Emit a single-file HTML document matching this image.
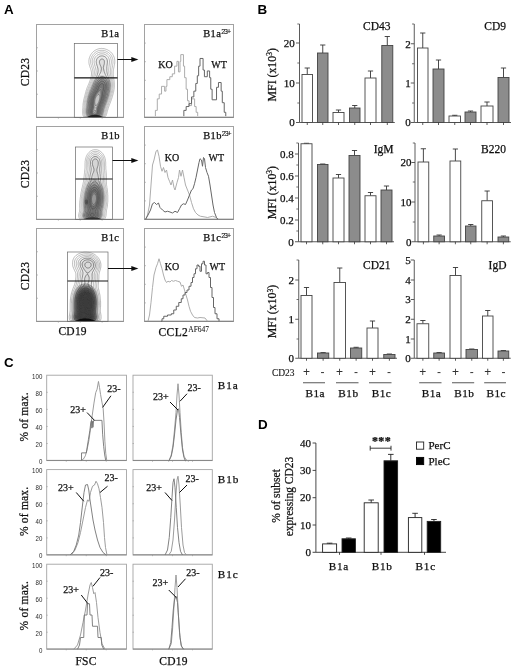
<!DOCTYPE html>
<html lang="en"><head><meta charset="utf-8"><title>Figure</title>
<style>
html,body{margin:0;padding:0;background:#fff;}
body{width:520px;height:669px;overflow:hidden;}
svg{display:block;}
text{white-space:pre;}
</style></head><body>
<svg width="520" height="669" viewBox="0 0 520 669">
<defs><filter id="soft" x="0" y="0" width="520" height="669" filterUnits="userSpaceOnUse"><feGaussianBlur stdDeviation="0.38"/></filter></defs>
<rect x="0" y="0" width="520" height="669" fill="#fff"/>
<g filter="url(#soft)">
<g id="panelA">
<text x="4.1" y="14.2" font-family='"Liberation Sans", sans-serif' font-size="13.4" text-anchor="start" font-weight="bold" letter-spacing="0" fill="#000" stroke="#000" stroke-width="0" >A</text>
<rect x="36.5" y="24.5" width="87" height="93.0" fill="none" stroke="#a2a2a2" stroke-width="1"/>
<line x1="36.5" y1="47.75" x2="38" y2="47.75" stroke="#999" stroke-width="0.6"/>
<line x1="58.375" y1="117.5" x2="58.375" y2="118.7" stroke="#999" stroke-width="0.6"/>
<line x1="36.5" y1="71.0" x2="38" y2="71.0" stroke="#999" stroke-width="0.6"/>
<line x1="80.25" y1="117.5" x2="80.25" y2="118.7" stroke="#999" stroke-width="0.6"/>
<line x1="36.5" y1="94.25" x2="38" y2="94.25" stroke="#999" stroke-width="0.6"/>
<line x1="102.125" y1="117.5" x2="102.125" y2="118.7" stroke="#999" stroke-width="0.6"/>
<rect x="144.5" y="24.5" width="89" height="93.0" fill="none" stroke="#a2a2a2" stroke-width="1"/>
<line x1="144.5" y1="43.1" x2="146" y2="43.1" stroke="#999" stroke-width="0.6"/>
<line x1="144.5" y1="61.7" x2="146" y2="61.7" stroke="#999" stroke-width="0.6"/>
<line x1="144.5" y1="80.3" x2="146" y2="80.3" stroke="#999" stroke-width="0.6"/>
<line x1="144.5" y1="98.9" x2="146" y2="98.9" stroke="#999" stroke-width="0.6"/>
<line x1="144.5" y1="117.2" x2="233.5" y2="117.2" stroke="#7a7a7a" stroke-width="1.0"/>
<line x1="36.5" y1="117.3" x2="123.5" y2="117.3" stroke="#8a8a8a" stroke-width="0.9"/>
<text transform="translate(29,72.0) rotate(-90)" font-family='"Liberation Serif", serif' font-size="11.5" text-anchor="middle" letter-spacing="0.3" fill="#111" stroke="#111" stroke-width="0.25">CD23</text>
<rect x="36.5" y="126.5" width="87" height="93.0" fill="none" stroke="#a2a2a2" stroke-width="1"/>
<line x1="36.5" y1="149.75" x2="38" y2="149.75" stroke="#999" stroke-width="0.6"/>
<line x1="58.375" y1="219.5" x2="58.375" y2="220.7" stroke="#999" stroke-width="0.6"/>
<line x1="36.5" y1="173.0" x2="38" y2="173.0" stroke="#999" stroke-width="0.6"/>
<line x1="80.25" y1="219.5" x2="80.25" y2="220.7" stroke="#999" stroke-width="0.6"/>
<line x1="36.5" y1="196.25" x2="38" y2="196.25" stroke="#999" stroke-width="0.6"/>
<line x1="102.125" y1="219.5" x2="102.125" y2="220.7" stroke="#999" stroke-width="0.6"/>
<rect x="144.5" y="126.5" width="89" height="93.0" fill="none" stroke="#a2a2a2" stroke-width="1"/>
<line x1="144.5" y1="145.1" x2="146" y2="145.1" stroke="#999" stroke-width="0.6"/>
<line x1="144.5" y1="163.7" x2="146" y2="163.7" stroke="#999" stroke-width="0.6"/>
<line x1="144.5" y1="182.3" x2="146" y2="182.3" stroke="#999" stroke-width="0.6"/>
<line x1="144.5" y1="200.9" x2="146" y2="200.9" stroke="#999" stroke-width="0.6"/>
<line x1="144.5" y1="219.2" x2="233.5" y2="219.2" stroke="#7a7a7a" stroke-width="1.0"/>
<line x1="36.5" y1="219.3" x2="123.5" y2="219.3" stroke="#8a8a8a" stroke-width="0.9"/>
<text transform="translate(29,174.0) rotate(-90)" font-family='"Liberation Serif", serif' font-size="11.5" text-anchor="middle" letter-spacing="0.3" fill="#111" stroke="#111" stroke-width="0.25">CD23</text>
<rect x="36.5" y="228.5" width="87" height="93.0" fill="none" stroke="#a2a2a2" stroke-width="1"/>
<line x1="36.5" y1="251.75" x2="38" y2="251.75" stroke="#999" stroke-width="0.6"/>
<line x1="58.375" y1="321.5" x2="58.375" y2="322.7" stroke="#999" stroke-width="0.6"/>
<line x1="36.5" y1="275.0" x2="38" y2="275.0" stroke="#999" stroke-width="0.6"/>
<line x1="80.25" y1="321.5" x2="80.25" y2="322.7" stroke="#999" stroke-width="0.6"/>
<line x1="36.5" y1="298.25" x2="38" y2="298.25" stroke="#999" stroke-width="0.6"/>
<line x1="102.125" y1="321.5" x2="102.125" y2="322.7" stroke="#999" stroke-width="0.6"/>
<rect x="144.5" y="228.5" width="89" height="93.0" fill="none" stroke="#a2a2a2" stroke-width="1"/>
<line x1="144.5" y1="247.1" x2="146" y2="247.1" stroke="#999" stroke-width="0.6"/>
<line x1="144.5" y1="265.7" x2="146" y2="265.7" stroke="#999" stroke-width="0.6"/>
<line x1="144.5" y1="284.3" x2="146" y2="284.3" stroke="#999" stroke-width="0.6"/>
<line x1="144.5" y1="302.9" x2="146" y2="302.9" stroke="#999" stroke-width="0.6"/>
<line x1="144.5" y1="321.2" x2="233.5" y2="321.2" stroke="#7a7a7a" stroke-width="1.0"/>
<line x1="36.5" y1="321.3" x2="123.5" y2="321.3" stroke="#8a8a8a" stroke-width="0.9"/>
<text transform="translate(29,276.0) rotate(-90)" font-family='"Liberation Serif", serif' font-size="11.5" text-anchor="middle" letter-spacing="0.3" fill="#111" stroke="#111" stroke-width="0.25">CD23</text>
</g>
<g id="contours">
<path d="M99.4,76.0 L100.0,75.8 L101.0,75.6 L102.0,75.5 L103.0,75.6 L104.0,75.7 L104.9,76.0 L105.5,76.2 L106.1,76.5 L107.0,77.0 L107.5,77.4 L108.0,77.8 L108.5,78.3 L109.0,78.8 L109.5,79.5 L109.8,80.0 L110.0,80.5 L110.5,81.5 L110.6,82.0 L110.9,83.0 L111.0,83.7 L111.1,84.5 L111.2,85.5 L111.2,86.5 L111.1,87.5 L111.0,88.5 L110.9,89.0 L110.8,90.0 L110.6,91.0 L110.5,91.6 L110.3,92.5 L110.1,93.5 L110.0,94.0 L109.7,95.0 L109.5,95.7 L109.3,96.5 L109.0,97.3 L108.8,98.0 L108.5,98.9 L108.3,99.5 L108.0,100.3 L107.8,101.0 L107.5,101.7 L107.2,102.5 L107.0,103.0 L106.6,104.0 L106.4,104.5 L106.1,105.5 L105.9,106.0 L105.5,107.0 L105.4,107.5 L105.0,108.5 L104.9,109.0 L104.6,110.0 L104.5,110.5 L104.3,111.5 L104.1,112.5 L103.9,113.0 L103.7,114.0 L103.5,114.5 L103.0,115.5 L102.8,116.0 L102.5,116.5 L101.5,116.6 L100.5,116.7 L99.5,116.8 L98.5,116.9 L97.5,116.9 L96.5,116.9 L95.5,116.9 L94.5,116.9 L93.5,116.9 L92.5,116.9 L91.5,116.9 L90.5,116.9 L89.5,116.8 L88.5,116.7 L87.5,116.6 L86.6,116.5 L86.3,116.0 L86.0,115.3 L85.8,114.5 L85.6,113.5 L85.5,112.5 L85.5,112.0 L85.5,111.3 L85.5,110.5 L85.6,109.5 L85.7,108.5 L85.8,107.5 L85.9,106.5 L86.0,105.5 L86.0,105.0 L86.1,104.0 L86.2,103.0 L86.3,102.0 L86.5,101.0 L86.6,100.5 L86.8,99.5 L87.0,98.5 L87.1,98.0 L87.4,97.0 L87.5,96.4 L87.7,95.5 L88.0,94.6 L88.2,94.0 L88.5,93.0 L88.6,92.5 L89.0,91.5 L89.1,91.0 L89.5,90.1 L89.7,89.5 L90.0,88.9 L90.3,88.0 L90.6,87.5 L91.0,86.5 L91.2,86.0 L91.5,85.3 L91.9,84.5 L92.1,84.0 L92.5,83.1 L92.8,82.5 L93.1,82.0 L93.5,81.3 L94.0,80.5 L94.3,80.0 L94.7,79.5 L95.1,79.0 L95.5,78.5 L96.0,78.0 L96.6,77.5 L97.3,77.0 L98.0,76.6 L98.5,76.3 L99.4,76.0Z" fill="#000" fill-opacity="0.2" stroke="none"/>
<path d="M99.9,78.0 L100.5,77.8 L101.5,77.7 L102.5,77.7 L103.5,77.8 L104.3,78.0 L105.0,78.3 L105.5,78.5 L106.3,79.0 L106.9,79.5 L107.4,80.0 L107.8,80.5 L108.1,81.0 L108.5,81.8 L108.8,82.5 L109.0,83.3 L109.2,84.0 L109.3,85.0 L109.3,86.0 L109.3,87.0 L109.2,88.0 L109.1,89.0 L109.0,89.5 L108.8,90.5 L108.6,91.5 L108.5,92.2 L108.3,93.0 L108.1,94.0 L108.0,94.5 L107.7,95.5 L107.5,96.2 L107.3,97.0 L107.0,97.8 L106.8,98.5 L106.5,99.3 L106.3,100.0 L106.0,100.7 L105.7,101.5 L105.5,102.1 L105.2,103.0 L105.0,103.5 L104.6,104.5 L104.4,105.0 L104.1,106.0 L103.9,106.5 L103.5,107.5 L103.4,108.0 L103.1,109.0 L102.9,109.5 L102.7,110.5 L102.5,111.5 L102.4,112.0 L102.2,113.0 L102.0,113.6 L101.7,114.5 L101.4,115.0 L101.0,115.8 L100.5,116.4 L100.0,116.6 L99.0,116.7 L98.0,116.7 L97.0,116.8 L96.0,116.8 L95.0,116.8 L94.0,116.8 L93.0,116.8 L92.0,116.8 L91.0,116.7 L90.0,116.7 L89.0,116.6 L88.5,116.5 L88.0,115.7 L87.7,115.0 L87.5,114.4 L87.3,113.5 L87.2,112.5 L87.2,111.5 L87.2,110.5 L87.3,109.5 L87.4,108.5 L87.5,107.9 L87.6,107.0 L87.7,106.0 L87.8,105.0 L87.9,104.0 L88.0,103.0 L88.0,102.5 L88.2,101.5 L88.3,100.5 L88.5,99.5 L88.6,99.0 L88.8,98.0 L89.0,97.3 L89.2,96.5 L89.5,95.5 L89.6,95.0 L90.0,94.0 L90.1,93.5 L90.5,92.5 L90.7,92.0 L91.0,91.2 L91.3,90.5 L91.5,90.0 L92.0,89.0 L92.2,88.5 L92.5,87.7 L92.8,87.0 L93.0,86.5 L93.4,85.5 L93.7,85.0 L94.0,84.3 L94.4,83.5 L94.7,83.0 L95.0,82.4 L95.5,81.6 L95.9,81.0 L96.3,80.5 L96.8,80.0 L97.3,79.5 L97.9,79.0 L98.5,78.6 L99.0,78.4 L99.9,78.0Z" fill="#000" fill-opacity="0.18" stroke="none"/>
<path d="M101.6,79.5 L102.5,79.5 L103.0,79.5 L104.0,79.8 L104.5,80.0 L105.3,80.5 L105.9,81.0 L106.3,81.5 L106.7,82.0 L107.0,82.6 L107.3,83.5 L107.5,84.1 L107.6,85.0 L107.7,86.0 L107.7,87.0 L107.6,88.0 L107.5,88.7 L107.4,89.5 L107.2,90.5 L107.0,91.5 L106.9,92.0 L106.7,93.0 L106.5,93.9 L106.4,94.5 L106.1,95.5 L106.0,96.0 L105.7,97.0 L105.5,97.6 L105.2,98.5 L105.0,99.1 L104.7,100.0 L104.5,100.6 L104.2,101.5 L104.0,102.0 L103.7,103.0 L103.5,103.5 L103.1,104.5 L102.9,105.0 L102.5,106.0 L102.3,106.5 L102.0,107.5 L101.8,108.0 L101.6,109.0 L101.4,109.5 L101.2,110.5 L101.1,111.5 L101.0,112.0 L100.7,113.0 L100.5,113.7 L100.2,114.5 L99.9,115.0 L99.5,115.6 L99.0,116.2 L98.5,116.5 L97.5,116.6 L96.5,116.7 L95.5,116.7 L94.5,116.7 L93.5,116.7 L92.5,116.7 L91.5,116.6 L90.5,116.5 L90.0,116.2 L89.5,115.5 L89.2,115.0 L89.0,114.5 L88.7,113.5 L88.6,112.5 L88.6,111.5 L88.6,110.5 L88.7,109.5 L88.9,108.5 L89.0,107.5 L89.1,107.0 L89.2,106.0 L89.2,105.0 L89.3,104.0 L89.4,103.0 L89.5,102.4 L89.6,101.5 L89.7,100.5 L89.9,99.5 L90.0,99.0 L90.3,98.0 L90.5,97.1 L90.7,96.5 L91.0,95.5 L91.1,95.0 L91.5,94.0 L91.7,93.5 L92.0,92.8 L92.3,92.0 L92.6,91.5 L93.0,90.6 L93.2,90.0 L93.5,89.4 L93.9,88.5 L94.1,88.0 L94.5,87.1 L94.8,86.5 L95.0,85.9 L95.4,85.0 L95.7,84.5 L96.0,83.9 L96.5,83.1 L96.9,82.5 L97.3,82.0 L97.7,81.5 L98.2,81.0 L98.9,80.5 L99.5,80.1 L100.0,79.9 L101.0,79.6 L101.6,79.5Z" fill="#000" fill-opacity="0.15" stroke="none"/>
<path d="M100.7,81.5 L101.5,81.3 L102.5,81.3 L103.5,81.5 L104.0,81.8 L104.5,82.1 L105.0,82.6 L105.5,83.4 L105.8,84.0 L106.0,84.8 L106.1,85.5 L106.2,86.5 L106.1,87.5 L106.0,88.5 L105.9,89.0 L105.8,90.0 L105.6,91.0 L105.5,91.5 L105.3,92.5 L105.1,93.5 L104.9,94.0 L104.7,95.0 L104.5,95.9 L104.4,96.5 L104.1,97.5 L103.9,98.0 L103.6,99.0 L103.5,99.5 L103.2,100.5 L103.0,101.0 L102.7,102.0 L102.5,102.5 L102.1,103.5 L101.9,104.0 L101.5,105.0 L101.3,105.5 L101.0,106.3 L100.8,107.0 L100.5,107.8 L100.3,108.5 L100.1,109.5 L100.0,110.0 L99.8,111.0 L99.7,112.0 L99.5,112.8 L99.3,113.5 L99.0,114.1 L98.5,114.9 L98.0,115.5 L97.5,116.0 L97.0,116.3 L96.5,116.5 L95.5,116.6 L94.5,116.6 L93.5,116.6 L92.5,116.5 L92.0,116.4 L91.5,116.0 L91.0,115.5 L90.5,114.8 L90.1,114.0 L90.0,113.5 L89.8,112.5 L89.8,111.5 L89.9,110.5 L90.0,109.8 L90.1,109.0 L90.3,108.0 L90.4,107.0 L90.5,106.0 L90.5,105.5 L90.6,104.5 L90.7,103.5 L90.8,102.5 L90.9,101.5 L91.0,100.8 L91.1,100.0 L91.3,99.0 L91.5,98.3 L91.7,97.5 L92.0,96.6 L92.2,96.0 L92.5,95.2 L92.8,94.5 L93.0,94.0 L93.4,93.0 L93.7,92.5 L94.0,91.8 L94.4,91.0 L94.6,90.5 L95.0,89.7 L95.3,89.0 L95.5,88.5 L96.0,87.5 L96.2,87.0 L96.5,86.3 L96.9,85.5 L97.2,85.0 L97.5,84.4 L98.0,83.7 L98.5,83.1 L99.0,82.6 L99.5,82.1 L100.0,81.8 L100.7,81.5Z" fill="#000" fill-opacity="0.12" stroke="none"/>
<path d="M101.3,83.5 L102.0,83.4 L102.6,83.5 L103.4,84.0 L103.8,84.5 L104.1,85.0 L104.3,86.0 L104.4,87.0 L104.3,88.0 L104.2,89.0 L104.0,90.0 L103.9,90.5 L103.7,91.5 L103.5,92.5 L103.5,93.0 L103.3,94.0 L103.1,95.0 L103.0,95.7 L102.8,96.5 L102.6,97.5 L102.5,98.0 L102.2,99.0 L102.0,99.7 L101.8,100.5 L101.5,101.3 L101.3,102.0 L101.0,102.8 L100.7,103.5 L100.5,104.0 L100.1,105.0 L99.9,105.5 L99.5,106.4 L99.3,107.0 L99.0,107.9 L98.8,108.5 L98.7,109.5 L98.6,110.5 L98.5,111.2 L98.4,112.0 L98.1,113.0 L97.9,113.5 L97.5,114.2 L97.0,114.8 L96.5,115.2 L96.0,115.5 L95.0,115.8 L94.0,115.8 L93.0,115.5 L92.5,115.2 L92.0,114.8 L91.5,114.0 L91.3,113.5 L91.1,112.5 L91.1,111.5 L91.2,110.5 L91.4,109.5 L91.5,108.8 L91.7,108.0 L91.8,107.0 L91.9,106.0 L92.0,105.0 L92.0,104.2 L92.0,103.5 L92.1,102.5 L92.2,101.5 L92.4,100.5 L92.5,99.7 L92.7,99.0 L92.9,98.0 L93.1,97.5 L93.4,96.5 L93.6,96.0 L94.0,95.1 L94.3,94.5 L94.5,94.0 L95.0,93.1 L95.4,92.5 L95.6,92.0 L96.0,91.3 L96.4,90.5 L96.7,90.0 L97.0,89.3 L97.3,88.5 L97.6,88.0 L98.0,87.1 L98.3,86.5 L98.6,86.0 L99.0,85.3 L99.5,84.7 L100.0,84.2 L100.5,83.8 L101.3,83.5Z" fill="#000" fill-opacity="0.08" stroke="none"/>
<path d="M99.2,53.5 L100.0,53.3 L101.0,53.1 L102.0,53.1 L103.0,53.2 L104.0,53.4 L104.5,53.5 L105.5,53.9 L106.0,54.2 L106.5,54.5 L107.2,55.0 L107.8,55.5 L108.2,56.0 L108.6,56.5 L109.0,57.1 L109.5,58.0 L109.6,58.5 L109.9,59.5 L110.0,60.0 L110.1,61.0 L110.2,62.0 L110.1,63.0 L110.0,64.0 L109.9,64.5 L109.8,65.5 L109.6,66.5 L109.5,67.4 L109.4,68.0 L109.3,69.0 L109.2,70.0 L109.2,71.0 L109.1,72.0 L109.0,72.7 L108.9,73.5 L108.8,74.5 L108.5,75.5 L108.4,76.0 L108.1,77.0 L107.9,77.5 L107.5,78.2 L107.0,79.0 L106.6,79.5 L106.1,80.0 L105.5,80.5 L105.0,80.8 L104.5,81.1 L103.5,81.4 L102.5,81.5 L101.5,81.4 L100.5,81.0 L100.0,80.8 L99.5,80.5 L98.9,80.0 L98.4,79.5 L98.0,79.0 L97.5,78.3 L97.1,77.5 L96.9,77.0 L96.5,76.0 L96.4,75.5 L96.2,74.5 L96.0,73.5 L95.9,73.0 L95.8,72.0 L95.6,71.0 L95.5,70.2 L95.4,69.5 L95.1,68.5 L94.9,68.0 L94.6,67.0 L94.5,66.5 L94.1,65.5 L94.0,65.0 L93.7,64.0 L93.5,63.0 L93.5,62.5 L93.4,61.5 L93.5,60.5 L93.5,60.0 L93.8,59.0 L94.0,58.4 L94.4,57.5 L94.7,57.0 L95.0,56.5 L95.5,55.9 L96.0,55.4 L96.5,55.0 L97.1,54.5 L98.0,54.0 L98.5,53.7 L99.2,53.5Z" fill="#000" fill-opacity="0.04" stroke="none"/>
<path d="M99.7,56.0 L100.5,55.7 L101.5,55.6 L102.5,55.6 L103.5,55.8 L104.1,56.0 L105.0,56.4 L105.5,56.8 L106.0,57.2 L106.5,57.8 L107.0,58.5 L107.2,59.0 L107.5,59.9 L107.6,60.5 L107.7,61.5 L107.7,62.5 L107.6,63.5 L107.5,64.0 L107.4,65.0 L107.2,66.0 L107.1,67.0 L107.0,68.0 L107.0,68.5 L106.9,69.5 L106.9,70.5 L106.8,71.5 L106.7,72.5 L106.5,73.5 L106.4,74.0 L106.1,75.0 L106.0,75.5 L105.5,76.4 L105.1,77.0 L104.6,77.5 L104.0,77.9 L103.5,78.1 L102.5,78.3 L101.5,78.1 L101.0,77.9 L100.4,77.5 L99.9,77.0 L99.5,76.5 L99.0,75.6 L98.8,75.0 L98.5,74.0 L98.4,73.5 L98.3,72.5 L98.2,71.5 L98.0,70.5 L97.9,70.0 L97.8,69.0 L97.5,68.0 L97.4,67.5 L97.1,66.5 L96.9,66.0 L96.6,65.0 L96.4,64.5 L96.1,63.5 L96.0,62.7 L95.9,62.0 L96.0,61.0 L96.0,60.5 L96.3,59.5 L96.5,59.0 L97.0,58.2 L97.5,57.5 L98.0,57.0 L98.5,56.7 L99.0,56.3 L99.7,56.0Z" fill="#000" fill-opacity="0.05" stroke="none"/>
<path d="M100.7,58.5 L101.5,58.2 L102.5,58.2 L103.4,58.5 L104.0,58.9 L104.5,59.4 L104.9,60.0 L105.1,60.5 L105.2,61.5 L105.2,62.5 L105.1,63.5 L105.0,64.0 L104.8,65.0 L104.6,66.0 L104.5,66.9 L104.4,67.5 L104.4,68.5 L104.4,69.5 L104.3,70.5 L104.2,71.5 L104.0,72.2 L103.6,73.0 L103.2,73.5 L102.5,73.8 L101.8,73.5 L101.4,73.0 L101.0,72.0 L100.9,71.5 L100.7,70.5 L100.6,69.5 L100.5,69.0 L100.3,68.0 L100.0,67.0 L99.9,66.5 L99.5,65.5 L99.3,65.0 L99.0,64.2 L98.8,63.5 L98.6,62.5 L98.6,61.5 L98.8,60.5 L99.1,60.0 L99.5,59.4 L100.0,58.9 L100.7,58.5Z" fill="#000" fill-opacity="0.05" stroke="none"/>
<path d="M100.4,88.5 L101.0,88.0 L101.4,89.0 L101.3,90.0 L101.3,91.0 L101.3,92.0 L101.3,93.0 L101.4,94.0 L101.4,95.0 L101.3,96.0 L101.2,97.0 L101.0,97.9 L100.9,98.5 L100.6,99.5 L100.5,100.0 L100.2,101.0 L100.0,101.6 L99.6,102.5 L99.4,103.0 L99.0,104.0 L98.7,104.5 L98.5,105.0 L98.0,106.0 L97.8,106.5 L97.5,107.2 L97.3,108.0 L97.1,109.0 L97.1,110.0 L97.1,111.0 L97.0,111.9 L96.8,112.5 L96.5,113.2 L96.0,113.8 L95.5,114.2 L94.5,114.4 L93.5,114.2 L93.0,113.7 L92.6,113.0 L92.5,112.5 L92.5,111.5 L92.5,111.0 L92.8,110.0 L93.0,109.1 L93.2,108.5 L93.4,107.5 L93.5,106.5 L93.5,105.5 L93.5,104.5 L93.5,103.5 L93.5,103.0 L93.6,102.0 L93.7,101.0 L93.8,100.0 L94.0,99.2 L94.2,98.5 L94.5,97.5 L94.7,97.0 L95.0,96.3 L95.4,95.5 L95.7,95.0 L96.0,94.5 L96.5,93.8 L97.0,93.1 L97.5,92.5 L97.9,92.0 L98.3,91.5 L98.7,91.0 L99.0,90.5 L99.5,89.7 L100.0,89.0 L100.4,88.5Z" fill="#fff" fill-opacity="0.3" stroke="none"/>
<path d="M97.9,94.0 L98.5,93.7 L99.5,93.7 L100.0,94.5 L100.1,95.0 L100.2,96.0 L100.2,97.0 L100.1,98.0 L100.0,98.6 L99.8,99.5 L99.5,100.5 L99.4,101.0 L99.0,102.0 L98.8,102.5 L98.5,103.1 L98.0,104.0 L97.7,104.5 L97.4,105.0 L97.0,105.5 L96.5,106.2 L96.0,106.9 L95.5,107.5 L95.4,107.5 L95.0,106.9 L94.8,106.0 L94.6,105.0 L94.5,104.2 L94.4,103.5 L94.4,102.5 L94.4,101.5 L94.5,100.9 L94.6,100.0 L94.9,99.0 L95.0,98.5 L95.4,97.5 L95.6,97.0 L96.0,96.2 L96.5,95.5 L96.9,95.0 L97.3,94.5 L97.9,94.0Z M94.8,108.5 L95.5,108.1 L95.7,109.0 L96.0,110.0 L96.0,110.5 L96.1,111.5 L96.0,112.0 L95.5,113.0 L95.0,113.3 L94.0,113.2 L93.5,112.5 L93.4,112.0 L93.5,111.0 L93.7,110.5 L94.0,109.8 L94.5,109.0 L94.8,108.5Z" fill="#fff" fill-opacity="0.4" stroke="none"/>
<path d="M100.6,48.5 L101.5,48.4 L102.5,48.5 L103.0,48.5 L104.0,48.7 L105.0,48.9 L105.5,49.1 L106.5,49.4 L107.0,49.6 L107.8,50.0 L108.5,50.4 L109.0,50.7 L109.5,51.0 L110.1,51.5 L110.7,52.0 L111.2,52.5 L111.6,53.0 L112.1,53.5 L112.5,54.1 L113.0,54.9 L113.3,55.5 L113.6,56.0 L114.0,57.0 L114.2,57.5 L114.5,58.5 L114.6,59.0 L114.7,60.0 L114.8,61.0 L114.8,62.0 L114.7,63.0 L114.6,64.0 L114.5,64.5 L114.3,65.5 L114.1,66.5 L114.0,67.0 L113.8,68.0 L113.6,69.0 L113.5,69.6 L113.4,70.5 L113.3,71.5 L113.3,72.5 L113.3,73.5 L113.3,74.5 L113.4,75.5 L113.5,76.5 L113.5,77.0 L113.7,78.0 L113.8,79.0 L114.0,80.0 L114.1,80.5 L114.2,81.5 L114.3,82.5 L114.4,83.5 L114.4,84.5 L114.4,85.5 L114.4,86.5 L114.3,87.5 L114.2,88.5 L114.0,89.5 L113.9,90.0 L113.8,91.0 L113.6,92.0 L113.4,92.5 L113.2,93.5 L113.0,94.3 L112.8,95.0 L112.5,96.0 L112.4,96.5 L112.1,97.5 L111.9,98.0 L111.6,99.0 L111.4,99.5 L111.1,100.5 L110.9,101.0 L110.5,102.0 L110.4,102.5 L110.0,103.4 L109.8,104.0 L109.5,104.7 L109.2,105.5 L109.0,106.0 L108.6,107.0 L108.5,107.5 L108.1,108.5 L108.0,109.0 L107.7,110.0 L107.5,110.6 L107.3,111.5 L107.0,112.5 L106.9,113.0 L106.6,114.0 L106.4,114.5 L106.1,115.5 L105.9,116.0 L105.5,116.5 L104.5,116.7 L103.5,116.8 L102.5,116.9 L101.5,116.9 L100.5,116.9 L99.5,117.0 L98.5,117.0 L97.5,117.0 L96.5,117.0 L95.5,117.0 L94.5,117.0 L93.5,117.0 L92.5,117.0 L91.5,117.0 L90.5,117.0 L89.5,117.0 L88.5,116.9 L87.5,116.9 L86.5,116.9 L85.5,116.8 L84.5,116.7 L83.5,116.5 L83.2,116.0 L83.0,115.2 L82.8,114.5 L82.7,113.5 L82.6,112.5 L82.6,111.5 L82.7,110.5 L82.7,109.5 L82.8,108.5 L82.9,107.5 L82.9,106.5 L83.0,105.7 L83.0,105.0 L83.1,104.0 L83.2,103.0 L83.4,102.0 L83.5,101.3 L83.6,100.5 L83.8,99.5 L84.0,98.9 L84.2,98.0 L84.4,97.0 L84.6,96.5 L84.8,95.5 L85.0,94.8 L85.2,94.0 L85.5,93.0 L85.6,92.5 L85.9,91.5 L86.0,91.0 L86.3,90.0 L86.5,89.5 L86.8,88.5 L87.0,88.0 L87.4,87.0 L87.6,86.5 L88.0,85.6 L88.2,85.0 L88.5,84.4 L88.9,83.5 L89.1,83.0 L89.5,82.0 L89.6,81.5 L90.0,80.6 L90.2,80.0 L90.5,79.1 L90.7,78.5 L91.0,77.5 L91.1,77.0 L91.3,76.0 L91.4,75.0 L91.5,74.0 L91.5,73.0 L91.4,72.0 L91.2,71.0 L91.0,70.1 L90.8,69.5 L90.5,68.5 L90.3,68.0 L90.0,67.1 L89.8,66.5 L89.5,65.5 L89.3,65.0 L89.1,64.0 L89.0,63.2 L88.9,62.5 L88.9,61.5 L88.9,60.5 L89.0,59.7 L89.1,59.0 L89.3,58.0 L89.5,57.5 L89.9,56.5 L90.1,56.0 L90.5,55.2 L90.9,54.5 L91.2,54.0 L91.6,53.5 L92.0,53.0 L92.5,52.4 L93.0,51.9 L93.5,51.5 L94.1,51.0 L94.8,50.5 L95.5,50.1 L96.0,49.8 L96.7,49.5 L97.5,49.2 L98.1,49.0 L99.0,48.7 L100.0,48.6 L100.6,48.5Z M99.5,50.5 L100.0,50.4 L101.0,50.3 L102.0,50.3 L103.0,50.3 L104.0,50.5 L104.5,50.6 L105.5,50.9 L106.0,51.1 L106.8,51.5 L107.5,51.9 L108.0,52.2 L108.5,52.5 L109.1,53.0 L109.7,53.5 L110.1,54.0 L110.6,54.5 L111.0,55.1 L111.5,55.9 L111.8,56.5 L112.0,57.0 L112.4,58.0 L112.6,58.5 L112.8,59.5 L112.9,60.5 L113.0,61.5 L113.0,62.5 L112.9,63.5 L112.7,64.5 L112.6,65.5 L112.5,66.0 L112.3,67.0 L112.1,68.0 L112.0,68.7 L111.9,69.5 L111.8,70.5 L111.8,71.5 L111.8,72.5 L111.8,73.5 L111.9,74.5 L112.0,75.5 L112.1,76.0 L112.2,77.0 L112.4,78.0 L112.5,78.6 L112.7,79.5 L112.8,80.5 L113.0,81.5 L113.0,82.0 L113.2,83.0 L113.2,84.0 L113.2,85.0 L113.2,86.0 L113.1,87.0 L113.0,88.0 L113.0,88.5 L112.8,89.5 L112.7,90.5 L112.5,91.3 L112.4,92.0 L112.1,93.0 L112.0,93.5 L111.8,94.5 L111.5,95.4 L111.3,96.0 L111.0,97.0 L110.9,97.5 L110.6,98.5 L110.4,99.0 L110.0,100.0 L109.9,100.5 L109.5,101.5 L109.3,102.0 L109.0,102.8 L108.7,103.5 L108.5,104.1 L108.2,105.0 L108.0,105.5 L107.6,106.5 L107.4,107.0 L107.1,108.0 L106.9,108.5 L106.6,109.5 L106.5,110.0 L106.2,111.0 L106.0,112.0 L105.9,112.5 L105.6,113.5 L105.5,114.0 L105.1,115.0 L104.9,115.5 L104.5,116.4 L104.0,116.6 L103.0,116.7 L102.0,116.8 L101.0,116.9 L100.0,116.9 L99.0,116.9 L98.0,116.9 L97.0,117.0 L96.0,117.0 L95.0,117.0 L94.0,117.0 L93.0,117.0 L92.0,117.0 L91.0,116.9 L90.0,116.9 L89.0,116.9 L88.0,116.9 L87.0,116.8 L86.0,116.7 L85.0,116.6 L84.5,116.3 L84.2,115.5 L84.0,114.7 L83.9,114.0 L83.7,113.0 L83.7,112.0 L83.7,111.0 L83.8,110.0 L83.9,109.0 L83.9,108.0 L84.0,107.4 L84.1,106.5 L84.1,105.5 L84.2,104.5 L84.3,103.5 L84.5,102.5 L84.5,102.0 L84.7,101.0 L84.9,100.0 L85.0,99.4 L85.2,98.5 L85.4,97.5 L85.6,97.0 L85.8,96.0 L86.0,95.3 L86.2,94.5 L86.5,93.5 L86.6,93.0 L86.9,92.0 L87.0,91.5 L87.4,90.5 L87.5,90.0 L87.9,89.0 L88.1,88.5 L88.5,87.5 L88.7,87.0 L89.0,86.2 L89.3,85.5 L89.5,85.0 L89.9,84.0 L90.1,83.5 L90.5,82.6 L90.7,82.0 L91.0,81.3 L91.3,80.5 L91.5,80.0 L91.8,79.0 L92.0,78.5 L92.3,77.5 L92.5,76.7 L92.7,76.0 L92.8,75.0 L93.0,74.0 L93.0,73.0 L93.0,72.0 L92.9,71.0 L92.7,70.0 L92.5,69.3 L92.3,68.5 L92.0,67.7 L91.8,67.0 L91.5,66.1 L91.3,65.5 L91.0,64.5 L90.9,64.0 L90.7,63.0 L90.7,62.0 L90.6,61.0 L90.7,60.0 L90.9,59.0 L91.0,58.5 L91.4,57.5 L91.6,57.0 L92.0,56.1 L92.4,55.5 L92.7,55.0 L93.1,54.5 L93.5,54.0 L94.0,53.4 L94.5,53.0 L95.1,52.5 L95.8,52.0 L96.5,51.6 L97.0,51.3 L97.8,51.0 L98.5,50.7 L99.5,50.5Z M100.9,52.0 L101.5,52.0 L102.5,52.0 L103.0,52.0 L104.0,52.2 L104.9,52.5 L105.5,52.7 L106.1,53.0 L107.0,53.5 L107.5,53.8 L108.0,54.2 L108.5,54.7 L109.0,55.2 L109.5,55.8 L109.9,56.5 L110.2,57.0 L110.5,57.6 L110.8,58.5 L111.0,59.2 L111.2,60.0 L111.3,61.0 L111.3,62.0 L111.3,63.0 L111.1,64.0 L111.0,64.9 L110.9,65.5 L110.7,66.5 L110.6,67.5 L110.5,68.2 L110.4,69.0 L110.4,70.0 L110.3,71.0 L110.3,72.0 L110.4,73.0 L110.5,74.0 L110.5,74.5 L110.7,75.5 L110.9,76.5 L111.0,77.0 L111.2,78.0 L111.4,79.0 L111.5,79.5 L111.7,80.5 L111.9,81.5 L112.0,82.3 L112.1,83.0 L112.2,84.0 L112.2,85.0 L112.2,86.0 L112.1,87.0 L112.0,87.8 L111.9,88.5 L111.8,89.5 L111.6,90.5 L111.5,91.0 L111.3,92.0 L111.1,93.0 L110.9,93.5 L110.7,94.5 L110.5,95.2 L110.3,96.0 L110.0,96.9 L109.8,97.5 L109.5,98.5 L109.3,99.0 L109.0,99.9 L108.8,100.5 L108.5,101.3 L108.2,102.0 L108.0,102.6 L107.7,103.5 L107.5,104.0 L107.1,105.0 L106.9,105.5 L106.6,106.5 L106.4,107.0 L106.0,108.0 L105.9,108.5 L105.6,109.5 L105.5,110.0 L105.2,111.0 L105.0,111.9 L104.9,112.5 L104.6,113.5 L104.5,114.0 L104.1,115.0 L103.9,115.5 L103.5,116.2 L103.0,116.6 L102.0,116.7 L101.0,116.8 L100.0,116.8 L99.0,116.9 L98.0,116.9 L97.0,116.9 L96.0,116.9 L95.0,116.9 L94.0,116.9 L93.0,116.9 L92.0,116.9 L91.0,116.9 L90.0,116.9 L89.0,116.9 L88.0,116.8 L87.0,116.7 L86.0,116.6 L85.5,116.1 L85.2,115.5 L85.0,114.7 L84.8,114.0 L84.7,113.0 L84.7,112.0 L84.7,111.0 L84.8,110.0 L84.9,109.0 L84.9,108.0 L85.0,107.4 L85.1,106.5 L85.2,105.5 L85.2,104.5 L85.3,103.5 L85.5,102.5 L85.5,102.0 L85.7,101.0 L85.9,100.0 L86.0,99.4 L86.2,98.5 L86.4,97.5 L86.6,97.0 L86.8,96.0 L87.0,95.3 L87.2,94.5 L87.5,93.5 L87.6,93.0 L87.9,92.0 L88.1,91.5 L88.4,90.5 L88.6,90.0 L89.0,89.1 L89.2,88.5 L89.5,87.8 L89.8,87.0 L90.0,86.5 L90.4,85.5 L90.6,85.0 L91.0,84.1 L91.2,83.5 L91.5,82.9 L91.8,82.0 L92.1,81.5 L92.4,80.5 L92.6,80.0 L93.0,79.0 L93.2,78.5 L93.5,77.5 L93.7,77.0 L93.9,76.0 L94.1,75.5 L94.3,74.5 L94.4,73.5 L94.5,72.5 L94.4,71.5 L94.3,70.5 L94.2,69.5 L94.0,68.8 L93.8,68.0 L93.5,67.1 L93.3,66.5 L93.0,65.5 L92.8,65.0 L92.6,64.0 L92.5,63.5 L92.3,62.5 L92.3,61.5 L92.3,60.5 L92.5,59.5 L92.6,59.0 L92.9,58.0 L93.2,57.5 L93.5,56.8 L94.0,56.0 L94.4,55.5 L94.8,55.0 L95.3,54.5 L95.9,54.0 L96.5,53.5 L97.0,53.2 L97.5,53.0 L98.5,52.5 L99.0,52.4 L100.0,52.1 L100.9,52.0Z M99.8,54.0 L100.5,53.9 L101.5,53.8 L102.5,53.8 L103.5,53.9 L104.0,54.1 L105.0,54.4 L105.5,54.7 L106.1,55.0 L106.8,55.5 L107.3,56.0 L107.8,56.5 L108.2,57.0 L108.5,57.5 L108.9,58.5 L109.1,59.0 L109.4,60.0 L109.5,61.0 L109.5,62.0 L109.4,63.0 L109.3,64.0 L109.2,65.0 L109.0,66.0 L109.0,66.5 L108.9,67.5 L108.8,68.5 L108.7,69.5 L108.7,70.5 L108.8,71.5 L108.8,72.5 L108.9,73.5 L109.0,74.0 L109.2,75.0 L109.4,76.0 L109.6,76.5 L109.9,77.5 L110.0,78.0 L110.3,79.0 L110.5,80.0 L110.6,80.5 L110.8,81.5 L111.0,82.5 L111.0,83.0 L111.1,84.0 L111.1,85.0 L111.1,86.0 L111.0,87.0 L111.0,87.5 L110.9,88.5 L110.7,89.5 L110.5,90.5 L110.4,91.0 L110.3,92.0 L110.0,93.0 L109.9,93.5 L109.7,94.5 L109.5,95.0 L109.2,96.0 L109.0,96.8 L108.8,97.5 L108.5,98.3 L108.3,99.0 L108.0,99.8 L107.8,100.5 L107.5,101.2 L107.2,102.0 L107.0,102.5 L106.6,103.5 L106.4,104.0 L106.1,105.0 L105.9,105.5 L105.5,106.5 L105.4,107.0 L105.0,108.0 L104.9,108.5 L104.6,109.5 L104.4,110.0 L104.2,111.0 L104.0,112.0 L103.9,112.5 L103.6,113.5 L103.5,114.0 L103.1,115.0 L102.9,115.5 L102.5,116.1 L102.0,116.5 L101.0,116.7 L100.0,116.8 L99.0,116.8 L98.0,116.9 L97.0,116.9 L96.0,116.9 L95.0,116.9 L94.0,116.9 L93.0,116.9 L92.0,116.9 L91.0,116.9 L90.0,116.8 L89.0,116.8 L88.0,116.7 L87.0,116.5 L86.5,116.0 L86.3,115.5 L86.0,114.7 L85.8,114.0 L85.7,113.0 L85.6,112.0 L85.7,111.0 L85.7,110.0 L85.8,109.0 L85.9,108.0 L86.0,107.2 L86.1,106.5 L86.1,105.5 L86.2,104.5 L86.3,103.5 L86.5,102.5 L86.5,102.0 L86.7,101.0 L86.8,100.0 L87.0,99.3 L87.2,98.5 L87.4,97.5 L87.5,97.0 L87.8,96.0 L88.0,95.2 L88.2,94.5 L88.5,93.5 L88.6,93.0 L89.0,92.0 L89.2,91.5 L89.5,90.6 L89.7,90.0 L90.0,89.3 L90.3,88.5 L90.5,88.0 L90.9,87.0 L91.1,86.5 L91.5,85.6 L91.8,85.0 L92.0,84.4 L92.4,83.5 L92.6,83.0 L93.0,82.0 L93.2,81.5 L93.5,80.7 L93.8,80.0 L94.0,79.5 L94.4,78.5 L94.6,78.0 L94.9,77.0 L95.1,76.5 L95.4,75.5 L95.6,75.0 L95.8,74.0 L96.0,73.0 L96.0,72.5 L96.1,71.5 L96.0,70.5 L96.0,70.0 L95.8,69.0 L95.6,68.0 L95.5,67.5 L95.1,66.5 L95.0,66.0 L94.7,65.0 L94.5,64.4 L94.3,63.5 L94.1,62.5 L94.1,61.5 L94.1,60.5 L94.3,59.5 L94.5,59.0 L94.9,58.0 L95.2,57.5 L95.5,57.0 L96.0,56.4 L96.5,55.9 L97.0,55.4 L97.6,55.0 L98.5,54.5 L99.0,54.3 L99.8,54.0Z" fill="none" stroke="#8c8c8c" stroke-width="0.55" stroke-linejoin="round"/>
<path d="M100.7,56.0 L101.5,55.9 L102.5,55.9 L103.1,56.0 L104.0,56.3 L104.5,56.5 L105.3,57.0 L105.9,57.5 L106.3,58.0 L106.6,58.5 L107.0,59.3 L107.2,60.0 L107.4,61.0 L107.4,62.0 L107.3,63.0 L107.2,64.0 L107.1,65.0 L107.0,65.5 L106.9,66.5 L106.8,67.5 L106.8,68.5 L106.8,69.5 L106.8,70.5 L106.9,71.5 L107.0,72.2 L107.1,73.0 L107.3,74.0 L107.5,74.7 L107.8,75.5 L108.0,76.2 L108.3,77.0 L108.5,77.6 L108.8,78.5 L109.0,79.0 L109.3,80.0 L109.5,80.7 L109.7,81.5 L109.9,82.5 L110.0,83.5 L110.0,84.0 L110.1,85.0 L110.1,86.0 L110.0,86.8 L109.9,87.5 L109.8,88.5 L109.7,89.5 L109.5,90.3 L109.4,91.0 L109.2,92.0 L109.0,92.8 L108.8,93.5 L108.6,94.5 L108.4,95.0 L108.2,96.0 L108.0,96.6 L107.7,97.5 L107.5,98.1 L107.2,99.0 L107.0,99.6 L106.7,100.5 L106.5,101.0 L106.1,102.0 L106.0,102.5 L105.6,103.5 L105.4,104.0 L105.0,105.0 L104.8,105.5 L104.5,106.4 L104.3,107.0 L104.0,107.9 L103.8,108.5 L103.5,109.5 L103.4,110.0 L103.2,111.0 L103.0,112.0 L102.9,112.5 L102.6,113.5 L102.5,114.0 L102.0,115.0 L101.8,115.5 L101.5,116.0 L101.0,116.5 L100.0,116.6 L99.0,116.7 L98.0,116.8 L97.0,116.8 L96.0,116.8 L95.0,116.8 L94.0,116.8 L93.0,116.8 L92.0,116.8 L91.0,116.8 L90.0,116.7 L89.0,116.7 L88.0,116.5 L87.6,116.0 L87.3,115.5 L87.0,114.7 L86.8,114.0 L86.7,113.0 L86.6,112.0 L86.6,111.0 L86.7,110.0 L86.8,109.0 L86.9,108.0 L87.0,107.2 L87.1,106.5 L87.2,105.5 L87.2,104.5 L87.3,103.5 L87.5,102.5 L87.5,102.0 L87.7,101.0 L87.8,100.0 L88.0,99.2 L88.1,98.5 L88.4,97.5 L88.5,97.0 L88.8,96.0 L89.0,95.2 L89.2,94.5 L89.5,93.6 L89.7,93.0 L90.0,92.2 L90.2,91.5 L90.5,90.9 L90.9,90.0 L91.1,89.5 L91.5,88.5 L91.7,88.0 L92.0,87.2 L92.3,86.5 L92.5,86.0 L92.9,85.0 L93.1,84.5 L93.5,83.5 L93.7,83.0 L94.0,82.3 L94.3,81.5 L94.6,81.0 L95.0,80.0 L95.2,79.5 L95.5,78.9 L95.9,78.0 L96.1,77.5 L96.5,76.7 L96.8,76.0 L97.0,75.5 L97.4,74.5 L97.5,74.0 L97.8,73.0 L98.0,72.0 L98.0,71.5 L98.1,70.5 L98.0,69.5 L98.0,69.0 L97.8,68.0 L97.5,67.0 L97.4,66.5 L97.0,65.5 L96.9,65.0 L96.6,64.0 L96.4,63.5 L96.3,62.5 L96.2,61.5 L96.4,60.5 L96.5,59.9 L96.9,59.0 L97.2,58.5 L97.5,58.0 L98.0,57.5 L98.5,57.0 L99.3,56.5 L100.0,56.2 L100.7,56.0Z M100.7,59.5 L101.5,59.1 L102.5,59.1 L103.4,59.5 L103.9,60.0 L104.2,60.5 L104.4,61.5 L104.4,62.5 L104.3,63.5 L104.1,64.5 L103.9,65.0 L103.7,66.0 L103.5,66.9 L103.4,67.5 L103.5,68.5 L103.6,69.0 L103.8,70.0 L104.0,70.8 L104.2,71.5 L104.5,72.4 L104.7,73.0 L105.0,73.8 L105.3,74.5 L105.6,75.0 L106.0,75.8 L106.4,76.5 L106.6,77.0 L107.0,77.7 L107.4,78.5 L107.7,79.0 L108.0,79.8 L108.3,80.5 L108.5,81.3 L108.7,82.0 L108.9,83.0 L109.0,84.0 L109.0,84.5 L109.0,85.5 L109.0,86.2 L108.9,87.0 L108.8,88.0 L108.7,89.0 L108.5,90.0 L108.4,90.5 L108.2,91.5 L108.0,92.5 L107.9,93.0 L107.6,94.0 L107.5,94.6 L107.3,95.5 L107.0,96.4 L106.8,97.0 L106.5,98.0 L106.3,98.5 L106.0,99.5 L105.8,100.0 L105.5,100.9 L105.3,101.5 L105.0,102.3 L104.8,103.0 L104.5,103.7 L104.2,104.5 L104.0,105.0 L103.6,106.0 L103.4,106.5 L103.1,107.5 L102.9,108.0 L102.6,109.0 L102.5,109.6 L102.3,110.5 L102.1,111.5 L102.0,112.1 L101.8,113.0 L101.5,113.9 L101.3,114.5 L101.0,115.0 L100.5,115.8 L100.0,116.5 L99.5,116.6 L98.5,116.7 L97.5,116.7 L96.5,116.8 L95.5,116.8 L94.5,116.8 L93.5,116.8 L92.5,116.8 L91.5,116.7 L90.5,116.7 L89.5,116.6 L89.0,116.5 L88.5,115.8 L88.1,115.0 L87.9,114.5 L87.7,113.5 L87.6,112.5 L87.6,111.5 L87.6,110.5 L87.7,109.5 L87.8,108.5 L87.9,107.5 L88.0,107.0 L88.1,106.0 L88.2,105.0 L88.3,104.0 L88.4,103.0 L88.5,102.0 L88.6,101.5 L88.7,100.5 L88.9,99.5 L89.0,99.0 L89.2,98.0 L89.5,97.0 L89.6,96.5 L89.9,95.5 L90.1,95.0 L90.4,94.0 L90.6,93.5 L90.9,92.5 L91.1,92.0 L91.5,91.2 L91.8,90.5 L92.0,90.0 L92.4,89.0 L92.6,88.5 L93.0,87.6 L93.2,87.0 L93.5,86.3 L93.8,85.5 L94.0,85.0 L94.4,84.0 L94.7,83.5 L95.0,82.7 L95.3,82.0 L95.5,81.5 L96.0,80.6 L96.3,80.0 L96.5,79.5 L97.0,78.7 L97.4,78.0 L97.7,77.5 L98.0,77.0 L98.5,76.1 L98.9,75.5 L99.2,75.0 L99.5,74.5 L100.0,73.6 L100.3,73.0 L100.5,72.5 L100.9,71.5 L101.0,71.0 L101.2,70.0 L101.4,69.0 L101.3,68.0 L101.1,67.0 L100.9,66.5 L100.5,65.6 L100.3,65.0 L100.0,64.5 L99.7,63.5 L99.5,62.8 L99.4,62.0 L99.5,61.3 L99.8,60.5 L100.1,60.0 L100.7,59.5Z M102.3,76.5 L102.5,76.5 L103.5,76.8 L104.0,77.1 L104.6,77.5 L105.1,78.0 L105.5,78.5 L106.0,79.1 L106.5,79.9 L106.8,80.5 L107.1,81.0 L107.4,82.0 L107.6,82.5 L107.8,83.5 L107.9,84.5 L107.9,85.5 L107.8,86.5 L107.7,87.5 L107.6,88.5 L107.5,89.1 L107.3,90.0 L107.1,91.0 L107.0,91.7 L106.8,92.5 L106.6,93.5 L106.5,94.0 L106.2,95.0 L106.0,95.8 L105.8,96.5 L105.5,97.5 L105.4,98.0 L105.0,99.0 L104.9,99.5 L104.5,100.5 L104.4,101.0 L104.0,102.0 L103.8,102.5 L103.5,103.4 L103.3,104.0 L103.0,104.8 L102.7,105.5 L102.5,106.1 L102.2,107.0 L102.0,107.5 L101.7,108.5 L101.5,109.2 L101.3,110.0 L101.2,111.0 L101.0,111.9 L100.9,112.5 L100.6,113.5 L100.4,114.0 L100.0,114.8 L99.6,115.5 L99.2,116.0 L98.7,116.5 L98.0,116.6 L97.0,116.6 L96.0,116.7 L95.0,116.7 L94.0,116.7 L93.0,116.7 L92.0,116.6 L91.0,116.6 L90.2,116.5 L89.8,116.0 L89.5,115.5 L89.0,114.5 L88.8,114.0 L88.6,113.0 L88.6,112.0 L88.6,111.0 L88.7,110.0 L88.8,109.0 L88.9,108.0 L89.0,107.5 L89.1,106.5 L89.2,105.5 L89.3,104.5 L89.4,103.5 L89.5,102.5 L89.5,102.0 L89.7,101.0 L89.8,100.0 L90.0,99.2 L90.1,98.5 L90.4,97.5 L90.5,97.0 L90.8,96.0 L91.0,95.4 L91.3,94.5 L91.5,94.0 L91.9,93.0 L92.1,92.5 L92.5,91.7 L92.8,91.0 L93.0,90.5 L93.5,89.5 L93.7,89.0 L94.0,88.2 L94.3,87.5 L94.5,87.0 L94.9,86.0 L95.1,85.5 L95.5,84.5 L95.7,84.0 L96.0,83.4 L96.4,82.5 L96.7,82.0 L97.0,81.4 L97.5,80.5 L97.8,80.0 L98.2,79.5 L98.6,79.0 L99.0,78.5 L99.5,77.9 L100.0,77.5 L100.7,77.0 L101.5,76.6 L102.3,76.5Z M100.6,79.5 L101.5,79.1 L102.5,79.0 L103.5,79.3 L104.0,79.6 L104.6,80.0 L105.1,80.5 L105.5,81.1 L106.0,82.0 L106.2,82.5 L106.5,83.5 L106.6,84.0 L106.7,85.0 L106.7,86.0 L106.6,87.0 L106.5,87.9 L106.4,88.5 L106.2,89.5 L106.0,90.5 L105.9,91.0 L105.7,92.0 L105.5,93.0 L105.4,93.5 L105.2,94.5 L105.0,95.2 L104.8,96.0 L104.5,97.0 L104.4,97.5 L104.1,98.5 L103.9,99.0 L103.6,100.0 L103.4,100.5 L103.1,101.5 L102.9,102.0 L102.6,103.0 L102.4,103.5 L102.0,104.5 L101.8,105.0 L101.5,105.8 L101.2,106.5 L101.0,107.1 L100.7,108.0 L100.5,108.8 L100.4,109.5 L100.2,110.5 L100.0,111.5 L100.0,112.0 L99.7,113.0 L99.5,113.6 L99.1,114.5 L98.8,115.0 L98.3,115.5 L97.8,116.0 L97.1,116.5 L96.5,116.5 L95.5,116.6 L94.5,116.6 L93.5,116.6 L92.5,116.6 L91.7,116.5 L91.1,116.0 L90.6,115.5 L90.3,115.0 L90.0,114.4 L89.7,113.5 L89.6,112.5 L89.6,111.5 L89.6,110.5 L89.8,109.5 L89.9,108.5 L90.0,107.9 L90.1,107.0 L90.2,106.0 L90.3,105.0 L90.4,104.0 L90.5,103.0 L90.5,102.5 L90.6,101.5 L90.8,100.5 L91.0,99.5 L91.1,99.0 L91.3,98.0 L91.5,97.3 L91.7,96.5 L92.0,95.7 L92.3,95.0 L92.5,94.4 L92.9,93.5 L93.1,93.0 L93.5,92.2 L93.8,91.5 L94.1,91.0 L94.5,90.0 L94.7,89.5 L95.0,88.9 L95.4,88.0 L95.6,87.5 L96.0,86.5 L96.2,86.0 L96.5,85.2 L96.8,84.5 L97.0,84.0 L97.5,83.1 L97.8,82.5 L98.1,82.0 L98.5,81.5 L99.0,80.8 L99.5,80.3 L100.0,79.9 L100.6,79.5Z M100.9,81.5 L101.5,81.3 L102.5,81.2 L103.4,81.5 L104.0,81.9 L104.5,82.5 L104.8,83.0 L105.0,83.5 L105.3,84.5 L105.4,85.5 L105.3,86.5 L105.2,87.5 L105.1,88.5 L105.0,89.0 L104.8,90.0 L104.6,91.0 L104.5,91.5 L104.3,92.5 L104.1,93.5 L104.0,94.0 L103.8,95.0 L103.6,96.0 L103.4,96.5 L103.2,97.5 L103.0,98.2 L102.8,99.0 L102.5,99.9 L102.3,100.5 L102.0,101.5 L101.8,102.0 L101.5,102.9 L101.3,103.5 L101.0,104.2 L100.7,105.0 L100.5,105.5 L100.1,106.5 L99.9,107.0 L99.6,108.0 L99.4,108.5 L99.2,109.5 L99.1,110.5 L99.0,111.4 L98.9,112.0 L98.7,113.0 L98.5,113.5 L98.0,114.3 L97.5,115.0 L97.0,115.4 L96.5,115.8 L96.0,116.0 L95.0,116.3 L94.0,116.3 L93.0,116.1 L92.5,115.8 L92.0,115.5 L91.5,115.0 L91.0,114.1 L90.8,113.5 L90.6,112.5 L90.6,111.5 L90.7,110.5 L90.8,109.5 L91.0,108.6 L91.1,108.0 L91.2,107.0 L91.3,106.0 L91.4,105.0 L91.5,104.0 L91.5,103.5 L91.6,102.5 L91.7,101.5 L91.8,100.5 L92.0,99.6 L92.1,99.0 L92.4,98.0 L92.5,97.5 L92.9,96.5 L93.0,96.0 L93.5,95.0 L93.7,94.5 L94.0,93.8 L94.4,93.0 L94.7,92.5 L95.0,91.9 L95.4,91.0 L95.7,90.5 L96.0,89.8 L96.3,89.0 L96.5,88.5 L96.9,87.5 L97.1,87.0 L97.5,86.2 L97.8,85.5 L98.0,85.0 L98.5,84.1 L98.9,83.5 L99.2,83.0 L99.7,82.5 L100.2,82.0 L100.9,81.5Z M101.7,83.5 L102.2,83.5 L103.0,83.9 L103.5,84.5 L103.7,85.0 L103.8,86.0 L103.8,87.0 L103.7,88.0 L103.5,89.0 L103.4,89.5 L103.2,90.5 L103.0,91.3 L102.9,92.0 L102.7,93.0 L102.6,94.0 L102.5,94.8 L102.4,95.5 L102.2,96.5 L102.0,97.5 L101.9,98.0 L101.6,99.0 L101.5,99.5 L101.2,100.5 L101.0,101.2 L100.7,102.0 L100.5,102.6 L100.2,103.5 L99.9,104.0 L99.5,105.0 L99.3,105.5 L99.0,106.1 L98.7,107.0 L98.5,107.5 L98.2,108.5 L98.1,109.5 L98.0,110.5 L98.0,111.0 L97.9,112.0 L97.6,113.0 L97.3,113.5 L97.0,114.0 L96.5,114.6 L95.8,115.0 L95.0,115.3 L94.0,115.3 L93.1,115.0 L92.5,114.5 L92.1,114.0 L91.9,113.5 L91.6,112.5 L91.6,111.5 L91.7,110.5 L91.9,109.5 L92.0,109.0 L92.2,108.0 L92.4,107.0 L92.5,106.0 L92.5,105.5 L92.5,104.5 L92.6,103.5 L92.7,102.5 L92.8,101.5 L92.9,100.5 L93.0,99.9 L93.2,99.0 L93.5,98.0 L93.6,97.5 L94.0,96.5 L94.2,96.0 L94.5,95.4 L94.9,94.5 L95.2,94.0 L95.5,93.5 L96.0,92.6 L96.4,92.0 L96.7,91.5 L97.0,90.9 L97.4,90.0 L97.7,89.5 L98.0,88.7 L98.3,88.0 L98.5,87.5 L98.9,86.5 L99.2,86.0 L99.5,85.4 L100.0,84.7 L100.5,84.1 L101.0,83.8 L101.7,83.5Z M100.3,89.5 L100.7,89.5 L100.8,90.5 L100.9,91.5 L101.0,92.4 L101.1,93.0 L101.1,94.0 L101.2,95.0 L101.1,96.0 L101.0,97.0 L100.9,97.5 L100.7,98.5 L100.5,99.4 L100.3,100.0 L100.0,101.0 L99.9,101.5 L99.5,102.5 L99.3,103.0 L99.0,103.6 L98.6,104.5 L98.3,105.0 L98.0,105.6 L97.6,106.5 L97.3,107.0 L97.0,108.0 L97.0,108.5 L96.9,109.5 L96.9,110.5 L96.9,111.5 L96.7,112.5 L96.5,113.0 L96.0,113.6 L95.5,114.0 L94.5,114.3 L93.6,114.0 L93.1,113.5 L92.8,113.0 L92.6,112.0 L92.7,111.0 L92.9,110.0 L93.1,109.5 L93.4,108.5 L93.5,108.0 L93.7,107.0 L93.7,106.0 L93.7,105.0 L93.7,104.0 L93.7,103.0 L93.7,102.0 L93.8,101.0 L94.0,100.0 L94.1,99.5 L94.3,98.5 L94.5,98.0 L94.9,97.0 L95.1,96.5 L95.5,95.7 L95.9,95.0 L96.2,94.5 L96.6,94.0 L97.0,93.4 L97.5,92.8 L98.0,92.2 L98.5,91.7 L99.0,91.1 L99.5,90.5 L99.9,90.0 L100.3,89.5Z M98.1,94.5 L99.0,94.4 L99.5,94.8 L99.8,95.5 L99.9,96.5 L99.9,97.5 L99.7,98.5 L99.5,99.5 L99.4,100.0 L99.1,101.0 L98.9,101.5 L98.5,102.4 L98.2,103.0 L97.9,103.5 L97.5,104.1 L97.0,104.8 L96.5,105.3 L96.0,105.6 L95.5,105.5 L95.0,104.5 L94.9,104.0 L94.8,103.0 L94.7,102.0 L94.8,101.0 L94.9,100.0 L95.0,99.5 L95.3,98.5 L95.5,97.9 L95.9,97.0 L96.2,96.5 L96.5,96.0 L97.0,95.4 L97.5,94.9 L98.1,94.5Z M94.8,110.0 L95.0,109.9 L95.1,110.0 L95.5,110.5 L95.5,110.5 L95.6,111.0 L95.6,111.5 L95.6,112.0 L95.5,112.2 L95.3,112.5 L95.0,112.7 L94.5,112.8 L94.0,112.5 L94.0,112.5 L93.9,112.0 L93.9,111.5 L94.0,111.0 L94.0,110.9 L94.3,110.5 L94.5,110.1 L94.8,110.0Z" fill="none" stroke="#484848" stroke-width="0.55" stroke-linejoin="round"/>
<path d="M87,117 Q95,112.5 103,117 Z" fill="#222"/>
<path d="M92.1,179.5 L93.0,179.2 L94.0,179.1 L95.0,179.1 L96.0,179.2 L96.8,179.5 L97.5,179.8 L98.0,180.1 L98.7,180.5 L99.3,181.0 L99.8,181.5 L100.3,182.0 L100.7,182.5 L101.1,183.0 L101.5,183.6 L102.0,184.5 L102.3,185.0 L102.5,185.5 L103.0,186.5 L103.1,187.0 L103.5,188.0 L103.7,188.5 L103.9,189.5 L104.0,190.0 L104.2,191.0 L104.4,192.0 L104.5,192.9 L104.6,193.5 L104.6,194.5 L104.7,195.5 L104.7,196.5 L104.7,197.5 L104.7,198.5 L104.7,199.5 L104.7,200.5 L104.6,201.5 L104.5,202.5 L104.5,203.0 L104.4,204.0 L104.2,205.0 L104.1,206.0 L104.0,206.5 L103.8,207.5 L103.5,208.5 L103.4,209.0 L103.2,210.0 L103.0,210.8 L102.9,211.5 L102.8,212.5 L102.8,213.5 L102.8,214.5 L102.7,215.5 L102.5,216.2 L102.2,217.0 L102.0,217.5 L101.5,218.3 L101.0,218.9 L100.5,219.1 L99.5,219.2 L98.5,219.2 L97.5,219.3 L96.5,219.3 L95.5,219.4 L94.5,219.4 L93.5,219.4 L92.5,219.4 L91.5,219.4 L90.5,219.4 L89.5,219.4 L88.5,219.3 L87.5,219.3 L86.5,219.3 L85.5,219.2 L84.5,219.1 L83.5,219.0 L83.1,218.5 L82.7,218.0 L82.5,217.5 L82.1,216.5 L82.0,215.5 L82.1,214.5 L82.4,213.5 L82.5,213.0 L82.8,212.0 L83.0,211.1 L83.1,210.5 L83.2,209.5 L83.1,208.5 L83.1,207.5 L83.0,206.5 L83.0,205.5 L83.0,205.0 L83.0,204.0 L83.0,203.5 L83.0,202.5 L83.1,201.5 L83.2,200.5 L83.2,199.5 L83.3,198.5 L83.5,197.5 L83.5,197.0 L83.7,196.0 L83.8,195.0 L84.0,194.0 L84.1,193.5 L84.3,192.5 L84.5,191.5 L84.6,191.0 L84.9,190.0 L85.0,189.5 L85.3,188.5 L85.5,187.9 L85.8,187.0 L86.0,186.5 L86.5,185.5 L86.7,185.0 L87.0,184.4 L87.5,183.6 L87.9,183.0 L88.3,182.5 L88.7,182.0 L89.2,181.5 L89.7,181.0 L90.3,180.5 L91.0,180.1 L91.5,179.8 L92.1,179.5Z" fill="#000" fill-opacity="0.22" stroke="none"/>
<path d="M93.4,182.0 L94.0,181.9 L95.0,181.9 L95.5,182.0 L96.5,182.3 L97.0,182.5 L97.7,183.0 L98.3,183.5 L98.9,184.0 L99.3,184.5 L99.7,185.0 L100.1,185.5 L100.5,186.2 L100.9,187.0 L101.2,187.5 L101.5,188.3 L101.8,189.0 L102.0,189.8 L102.2,190.5 L102.4,191.5 L102.5,192.0 L102.7,193.0 L102.8,194.0 L102.8,195.0 L102.9,196.0 L102.9,197.0 L102.9,198.0 L102.9,199.0 L102.8,200.0 L102.8,201.0 L102.7,202.0 L102.6,203.0 L102.5,203.5 L102.3,204.5 L102.2,205.5 L102.0,206.3 L101.8,207.0 L101.6,208.0 L101.4,208.5 L101.2,209.5 L101.0,210.2 L100.8,211.0 L100.7,212.0 L100.7,213.0 L100.7,214.0 L100.7,215.0 L100.5,216.0 L100.4,216.5 L100.0,217.3 L99.5,218.0 L99.0,218.5 L98.5,219.0 L98.0,219.0 L97.0,219.1 L96.0,219.2 L95.0,219.2 L94.0,219.2 L93.0,219.3 L92.0,219.3 L91.0,219.3 L90.0,219.2 L89.0,219.2 L88.0,219.2 L87.0,219.1 L86.0,219.0 L85.5,218.5 L85.0,218.0 L84.6,217.5 L84.4,217.0 L84.1,216.0 L84.1,215.0 L84.3,214.0 L84.5,213.3 L84.8,212.5 L85.0,211.7 L85.2,211.0 L85.3,210.0 L85.3,209.0 L85.2,208.0 L85.1,207.0 L85.0,206.0 L85.0,205.5 L84.9,204.5 L84.9,203.5 L84.9,202.5 L85.0,201.5 L85.0,200.7 L85.0,200.0 L85.1,199.0 L85.2,198.0 L85.3,197.0 L85.5,196.0 L85.6,195.5 L85.7,194.5 L85.9,193.5 L86.0,193.0 L86.3,192.0 L86.5,191.1 L86.7,190.5 L87.0,189.5 L87.2,189.0 L87.5,188.1 L87.8,187.5 L88.0,187.0 L88.5,186.1 L88.8,185.5 L89.2,185.0 L89.6,184.5 L90.0,184.0 L90.5,183.5 L91.2,183.0 L92.0,182.5 L92.5,182.3 L93.4,182.0Z" fill="#000" fill-opacity="0.2" stroke="none"/>
<path d="M93.1,184.5 L94.0,184.3 L95.0,184.3 L95.7,184.5 L96.5,184.9 L97.0,185.2 L97.5,185.6 L98.0,186.0 L98.5,186.6 L99.0,187.3 L99.4,188.0 L99.7,188.5 L100.0,189.1 L100.4,190.0 L100.5,190.5 L100.8,191.5 L101.0,192.4 L101.1,193.0 L101.2,194.0 L101.3,195.0 L101.4,196.0 L101.4,197.0 L101.4,198.0 L101.4,199.0 L101.3,200.0 L101.2,201.0 L101.1,202.0 L101.0,202.9 L100.9,203.5 L100.7,204.5 L100.5,205.5 L100.4,206.0 L100.1,207.0 L100.0,207.5 L99.6,208.5 L99.5,209.0 L99.1,210.0 L99.0,210.5 L98.8,211.5 L98.8,212.5 L98.9,213.5 L98.9,214.5 L98.9,215.5 L98.6,216.5 L98.3,217.0 L97.9,217.5 L97.4,218.0 L96.8,218.5 L96.0,218.9 L95.5,219.0 L94.5,219.1 L93.5,219.1 L92.5,219.1 L91.5,219.1 L90.5,219.1 L89.5,219.0 L88.7,219.0 L88.0,218.7 L87.5,218.3 L87.0,217.9 L86.5,217.3 L86.0,216.5 L85.9,216.0 L85.9,215.0 L86.0,214.3 L86.2,213.5 L86.5,212.7 L86.8,212.0 L87.0,211.1 L87.1,210.5 L87.1,209.5 L87.0,208.5 L86.9,208.0 L86.8,207.0 L86.7,206.0 L86.6,205.0 L86.5,204.0 L86.5,203.1 L86.5,202.5 L86.5,201.5 L86.5,201.0 L86.5,200.0 L86.6,199.0 L86.7,198.0 L86.8,197.0 L87.0,196.0 L87.0,195.5 L87.2,194.5 L87.4,193.5 L87.6,193.0 L87.8,192.0 L88.0,191.5 L88.3,190.5 L88.5,190.0 L88.9,189.0 L89.2,188.5 L89.5,187.9 L90.0,187.1 L90.4,186.5 L90.9,186.0 L91.4,185.5 L92.0,185.0 L92.5,184.8 L93.1,184.5Z" fill="#000" fill-opacity="0.16" stroke="none"/>
<path d="M92.8,187.0 L93.5,186.7 L94.5,186.5 L95.5,186.7 L96.0,187.0 L96.8,187.5 L97.3,188.0 L97.7,188.5 L98.1,189.0 L98.5,189.7 L98.9,190.5 L99.1,191.0 L99.4,192.0 L99.6,192.5 L99.8,193.5 L99.9,194.5 L100.0,195.5 L100.0,196.0 L100.1,197.0 L100.1,198.0 L100.1,199.0 L100.0,199.9 L100.0,200.5 L99.8,201.5 L99.7,202.5 L99.5,203.4 L99.4,204.0 L99.1,205.0 L99.0,205.5 L98.7,206.5 L98.5,207.0 L98.1,208.0 L97.9,208.5 L97.5,209.2 L97.2,210.0 L97.0,210.5 L96.8,211.5 L96.9,212.5 L97.0,213.2 L97.1,214.0 L97.2,215.0 L97.0,216.0 L96.8,216.5 L96.4,217.0 L95.9,217.5 L95.0,218.0 L94.5,218.2 L93.5,218.5 L93.0,218.6 L92.0,218.6 L91.0,218.5 L90.5,218.4 L89.5,218.0 L89.0,217.7 L88.5,217.4 L88.0,216.8 L87.6,216.0 L87.5,215.0 L87.7,214.0 L88.0,213.3 L88.4,212.5 L88.6,212.0 L88.9,211.0 L88.9,210.0 L88.8,209.0 L88.6,208.0 L88.5,207.5 L88.3,206.5 L88.1,205.5 L88.0,204.6 L87.9,204.0 L87.9,203.0 L87.8,202.0 L87.8,201.0 L87.9,200.0 L87.9,199.0 L88.0,198.1 L88.1,197.5 L88.2,196.5 L88.4,195.5 L88.5,194.8 L88.7,194.0 L89.0,193.0 L89.1,192.5 L89.5,191.5 L89.7,191.0 L90.0,190.3 L90.4,189.5 L90.7,189.0 L91.1,188.5 L91.5,188.0 L92.0,187.5 L92.8,187.0Z" fill="#000" fill-opacity="0.12" stroke="none"/>
<path d="M94.1,189.0 L94.7,189.0 L95.5,189.3 L96.0,189.6 L96.5,190.0 L97.0,190.6 L97.5,191.4 L97.8,192.0 L98.0,192.6 L98.3,193.5 L98.5,194.5 L98.6,195.0 L98.7,196.0 L98.7,197.0 L98.8,198.0 L98.8,199.0 L98.7,200.0 L98.6,201.0 L98.5,201.5 L98.3,202.5 L98.0,203.5 L97.9,204.0 L97.6,205.0 L97.4,205.5 L97.0,206.4 L96.7,207.0 L96.4,207.5 L96.0,208.0 L95.5,208.7 L95.0,209.2 L94.5,209.8 L94.0,210.3 L93.6,211.0 L93.9,212.0 L94.2,212.5 L94.5,213.0 L95.0,214.0 L95.1,214.5 L95.1,215.5 L94.9,216.0 L94.5,216.5 L93.7,217.0 L93.0,217.2 L92.0,217.3 L91.0,217.1 L90.5,216.9 L90.0,216.5 L89.5,215.7 L89.4,215.0 L89.5,214.5 L90.0,213.5 L90.4,213.0 L90.8,212.5 L91.3,212.0 L91.7,211.5 L91.8,210.5 L91.5,209.8 L91.0,209.0 L90.8,208.5 L90.5,208.0 L90.1,207.0 L89.9,206.5 L89.6,205.5 L89.5,204.8 L89.4,204.0 L89.3,203.0 L89.2,202.0 L89.2,201.0 L89.2,200.0 L89.2,199.0 L89.3,198.0 L89.4,197.0 L89.5,196.5 L89.7,195.5 L89.9,194.5 L90.1,194.0 L90.4,193.0 L90.6,192.5 L91.0,191.8 L91.5,191.0 L91.8,190.5 L92.3,190.0 L92.9,189.5 L93.5,189.1 L94.1,189.0Z" fill="#000" fill-opacity="0.08" stroke="none"/>
<path d="M94.5,154.0 L95.0,154.0 L95.9,154.0 L96.5,154.1 L97.5,154.4 L98.0,154.7 L98.5,155.0 L99.2,155.5 L99.7,156.0 L100.2,156.5 L100.5,157.0 L101.0,157.8 L101.4,158.5 L101.6,159.0 L101.9,160.0 L102.0,160.6 L102.1,161.5 L102.2,162.5 L102.3,163.5 L102.3,164.5 L102.2,165.5 L102.2,166.5 L102.1,167.5 L102.1,168.5 L102.1,169.5 L102.1,170.5 L102.2,171.5 L102.2,172.5 L102.2,173.5 L102.2,174.5 L102.2,175.5 L102.1,176.5 L102.0,177.3 L101.9,178.0 L101.6,179.0 L101.4,179.5 L101.0,180.3 L100.5,181.0 L100.2,181.5 L99.7,182.0 L99.2,182.5 L98.5,183.0 L98.0,183.3 L97.5,183.5 L96.5,183.9 L95.7,184.0 L95.0,184.0 L94.5,184.0 L93.5,183.8 L92.8,183.5 L92.0,183.0 L91.5,182.6 L91.0,182.2 L90.5,181.6 L90.1,181.0 L89.7,180.5 L89.5,180.0 L89.1,179.0 L88.9,178.5 L88.7,177.5 L88.5,176.6 L88.4,176.0 L88.4,175.0 L88.4,174.0 L88.5,173.0 L88.5,172.5 L88.6,171.5 L88.7,170.5 L88.8,169.5 L88.8,168.5 L88.7,167.5 L88.7,166.5 L88.6,165.5 L88.5,164.8 L88.5,164.0 L88.4,163.0 L88.5,162.0 L88.5,161.5 L88.7,160.5 L88.9,159.5 L89.1,159.0 L89.5,158.0 L89.7,157.5 L90.0,157.0 L90.5,156.4 L91.0,155.8 L91.5,155.3 L92.0,155.0 L92.8,154.5 L93.5,154.2 L94.5,154.0Z" fill="#000" fill-opacity="0.06" stroke="none"/>
<path d="M93.8,156.5 L94.5,156.3 L95.5,156.3 L96.5,156.4 L97.0,156.6 L97.7,157.0 L98.3,157.5 L98.8,158.0 L99.2,158.5 L99.5,159.1 L99.9,160.0 L100.1,160.5 L100.3,161.5 L100.4,162.5 L100.4,163.5 L100.4,164.5 L100.3,165.5 L100.2,166.5 L100.1,167.5 L100.0,168.5 L100.0,169.0 L99.9,170.0 L99.9,171.0 L100.0,172.0 L100.0,173.0 L100.0,173.5 L100.0,174.4 L100.0,175.0 L99.9,176.0 L99.7,177.0 L99.5,177.7 L99.2,178.5 L98.9,179.0 L98.5,179.6 L98.0,180.1 L97.5,180.5 L96.5,181.0 L96.0,181.2 L95.0,181.2 L94.0,181.0 L93.5,180.8 L93.0,180.5 L92.4,180.0 L92.0,179.5 L91.5,178.8 L91.1,178.0 L90.9,177.5 L90.7,176.5 L90.5,175.5 L90.5,174.5 L90.6,173.5 L90.7,172.5 L90.8,171.5 L90.9,170.5 L91.0,169.5 L90.9,168.5 L90.8,167.5 L90.6,166.5 L90.5,165.8 L90.4,165.0 L90.3,164.0 L90.2,163.0 L90.3,162.0 L90.4,161.0 L90.5,160.5 L90.9,159.5 L91.1,159.0 L91.5,158.3 L92.0,157.7 L92.5,157.2 L93.0,156.9 L93.8,156.5Z" fill="#000" fill-opacity="0.06" stroke="none"/>
<path d="M94.4,158.5 L95.0,158.4 L96.0,158.4 L96.5,158.6 L97.1,159.0 L97.6,159.5 L98.0,160.1 L98.4,161.0 L98.5,161.5 L98.7,162.5 L98.7,163.5 L98.7,164.5 L98.5,165.5 L98.4,166.0 L98.1,167.0 L98.0,167.5 L97.7,168.5 L97.6,169.5 L97.5,170.0 L97.5,171.0 L97.5,171.6 L97.6,172.5 L97.6,173.5 L97.6,174.5 L97.5,175.4 L97.4,176.0 L97.0,176.9 L96.5,177.5 L96.0,177.9 L95.5,178.0 L94.8,178.0 L94.0,177.6 L93.5,177.1 L93.2,176.5 L93.0,176.0 L92.8,175.0 L92.8,174.0 L92.9,173.0 L93.0,172.5 L93.2,171.5 L93.3,170.5 L93.3,169.5 L93.1,168.5 L93.0,168.0 L92.7,167.0 L92.5,166.4 L92.3,165.5 L92.0,164.5 L92.0,164.0 L91.9,163.0 L92.0,162.0 L92.0,161.5 L92.4,160.5 L92.6,160.0 L93.0,159.5 L93.5,159.0 L94.4,158.5Z" fill="#000" fill-opacity="0.06" stroke="none"/>
<path d="M93.3,192.0 L94.0,191.7 L95.0,191.8 L95.5,192.1 L96.0,192.7 L96.5,193.5 L96.7,194.0 L97.0,194.8 L97.2,195.5 L97.3,196.5 L97.4,197.5 L97.4,198.5 L97.4,199.5 L97.3,200.5 L97.1,201.5 L97.0,202.0 L96.7,203.0 L96.5,203.5 L96.1,204.5 L95.8,205.0 L95.5,205.5 L95.0,206.1 L94.5,206.5 L93.5,206.9 L92.5,206.7 L92.0,206.2 L91.5,205.5 L91.3,205.0 L91.0,204.2 L90.8,203.5 L90.7,202.5 L90.6,201.5 L90.5,200.5 L90.5,199.5 L90.6,198.5 L90.7,197.5 L90.8,196.5 L91.0,195.7 L91.2,195.0 L91.5,194.3 L91.9,193.5 L92.2,193.0 L92.7,192.5 L93.3,192.0Z" fill="#fff" fill-opacity="0.12" stroke="none"/>
<path d="M93.4,193.5 L94.0,193.2 L95.0,193.5 L95.5,194.0 L95.8,194.5 L96.1,195.0 L96.4,196.0 L96.5,196.5 L96.7,197.5 L96.7,198.5 L96.7,199.5 L96.5,200.5 L96.4,201.0 L96.1,202.0 L95.9,202.5 L95.5,203.5 L95.2,204.0 L94.8,204.5 L94.1,205.0 L93.5,205.2 L92.9,205.0 L92.4,204.5 L92.0,203.9 L91.7,203.0 L91.5,202.1 L91.4,201.5 L91.3,200.5 L91.3,199.5 L91.3,198.5 L91.4,197.5 L91.5,196.9 L91.7,196.0 L92.0,195.3 L92.4,194.5 L92.8,194.0 L93.4,193.5Z" fill="#fff" fill-opacity="0.18" stroke="none"/>
<path d="M92.7,150.0 L93.5,149.8 L94.5,149.6 L95.5,149.6 L96.5,149.7 L97.5,149.9 L98.0,150.1 L99.0,150.5 L99.5,150.8 L100.0,151.1 L100.6,151.5 L101.2,152.0 L101.8,152.5 L102.3,153.0 L102.7,153.5 L103.0,154.0 L103.5,154.7 L103.9,155.5 L104.2,156.0 L104.5,156.8 L104.8,157.5 L105.0,158.3 L105.2,159.0 L105.4,160.0 L105.5,160.7 L105.6,161.5 L105.7,162.5 L105.7,163.5 L105.7,164.5 L105.7,165.5 L105.8,166.5 L105.8,167.5 L105.8,168.5 L105.9,169.5 L106.0,170.5 L106.0,171.0 L106.1,172.0 L106.2,173.0 L106.3,174.0 L106.3,175.0 L106.4,176.0 L106.4,177.0 L106.4,178.0 L106.4,179.0 L106.4,180.0 L106.3,181.0 L106.4,182.0 L106.4,183.0 L106.5,184.0 L106.5,184.5 L106.6,185.5 L106.8,186.5 L106.9,187.5 L107.0,188.0 L107.2,189.0 L107.3,190.0 L107.4,191.0 L107.5,191.5 L107.6,192.5 L107.7,193.5 L107.7,194.5 L107.8,195.5 L107.8,196.5 L107.8,197.5 L107.8,198.5 L107.8,199.5 L107.8,200.5 L107.8,201.5 L107.7,202.5 L107.6,203.5 L107.5,204.5 L107.5,205.0 L107.3,206.0 L107.2,207.0 L107.0,207.9 L106.9,208.5 L106.7,209.5 L106.5,210.4 L106.4,211.0 L106.3,212.0 L106.2,213.0 L106.1,214.0 L106.1,215.0 L106.0,215.5 L105.8,216.5 L105.5,217.4 L105.2,218.0 L105.0,218.5 L104.5,219.0 L103.5,219.2 L102.5,219.3 L101.5,219.4 L100.5,219.4 L99.5,219.4 L98.5,219.4 L97.5,219.5 L96.5,219.5 L95.5,219.5 L94.5,219.5 L93.5,219.5 L92.5,219.5 L91.5,219.5 L90.5,219.5 L89.5,219.5 L88.5,219.5 L87.5,219.5 L86.5,219.4 L85.5,219.4 L84.5,219.4 L83.5,219.4 L82.5,219.3 L81.5,219.3 L80.5,219.1 L79.7,219.0 L79.4,218.5 L79.0,217.5 L78.9,217.0 L78.7,216.0 L78.7,215.0 L78.9,214.0 L79.0,213.4 L79.2,212.5 L79.5,211.5 L79.6,211.0 L79.7,210.0 L79.8,209.0 L79.8,208.0 L79.7,207.0 L79.7,206.0 L79.7,205.0 L79.7,204.0 L79.8,203.0 L79.8,202.0 L79.9,201.0 L80.0,200.2 L80.1,199.5 L80.2,198.5 L80.3,197.5 L80.5,196.5 L80.6,196.0 L80.7,195.0 L80.9,194.0 L81.0,193.1 L81.1,192.5 L81.3,191.5 L81.5,190.5 L81.6,190.0 L81.8,189.0 L82.0,188.2 L82.2,187.5 L82.4,186.5 L82.5,186.0 L82.8,185.0 L83.0,184.1 L83.1,183.5 L83.3,182.5 L83.5,181.5 L83.6,181.0 L83.7,180.0 L83.8,179.0 L83.9,178.0 L84.0,177.2 L84.1,176.5 L84.2,175.5 L84.3,174.5 L84.4,173.5 L84.5,172.5 L84.6,172.0 L84.7,171.0 L84.8,170.0 L84.9,169.0 L85.0,168.0 L85.0,167.0 L85.0,166.0 L85.0,165.0 L85.0,164.1 L85.0,163.5 L85.1,162.5 L85.1,161.5 L85.3,160.5 L85.4,159.5 L85.6,159.0 L85.8,158.0 L86.0,157.4 L86.3,156.5 L86.5,156.0 L87.0,155.1 L87.3,154.5 L87.6,154.0 L88.0,153.5 L88.5,152.9 L89.0,152.3 L89.5,151.9 L90.0,151.5 L90.6,151.0 L91.5,150.5 L92.0,150.3 L92.7,150.0Z M93.5,151.5 L94.0,151.4 L95.0,151.3 L96.0,151.3 L97.0,151.5 L97.5,151.6 L98.4,152.0 L99.0,152.3 L99.5,152.6 L100.0,153.0 L100.6,153.5 L101.1,154.0 L101.6,154.5 L102.0,155.1 L102.5,155.9 L102.9,156.5 L103.1,157.0 L103.5,158.0 L103.7,158.5 L103.9,159.5 L104.0,160.0 L104.2,161.0 L104.3,162.0 L104.4,163.0 L104.4,164.0 L104.4,165.0 L104.4,166.0 L104.4,167.0 L104.4,168.0 L104.4,169.0 L104.5,170.0 L104.5,170.5 L104.6,171.5 L104.7,172.5 L104.8,173.5 L104.9,174.5 L104.9,175.5 L104.9,176.5 L104.9,177.5 L104.9,178.5 L104.9,179.5 L104.9,180.5 L104.9,181.5 L105.0,182.5 L105.0,183.0 L105.1,184.0 L105.3,185.0 L105.4,186.0 L105.5,186.6 L105.7,187.5 L105.9,188.5 L106.0,189.4 L106.1,190.0 L106.3,191.0 L106.4,192.0 L106.5,193.0 L106.5,193.6 L106.6,194.5 L106.6,195.5 L106.6,196.5 L106.6,197.5 L106.6,198.5 L106.6,199.5 L106.6,200.5 L106.6,201.5 L106.5,202.5 L106.5,203.0 L106.4,204.0 L106.3,205.0 L106.1,206.0 L106.0,206.6 L105.8,207.5 L105.6,208.5 L105.5,209.0 L105.3,210.0 L105.1,211.0 L105.0,211.8 L104.9,212.5 L104.9,213.5 L104.8,214.5 L104.7,215.5 L104.5,216.5 L104.3,217.0 L104.0,217.8 L103.6,218.5 L103.2,219.0 L102.5,219.1 L101.5,219.2 L100.5,219.3 L99.5,219.4 L98.5,219.4 L97.5,219.4 L96.5,219.4 L95.5,219.4 L94.5,219.4 L93.5,219.4 L92.5,219.4 L91.5,219.4 L90.5,219.4 L89.5,219.4 L88.5,219.4 L87.5,219.4 L86.5,219.4 L85.5,219.4 L84.5,219.3 L83.5,219.3 L82.5,219.2 L81.5,219.1 L81.0,218.8 L80.5,218.0 L80.3,217.5 L80.0,216.5 L80.0,216.0 L80.0,215.0 L80.0,214.5 L80.2,213.5 L80.5,212.6 L80.6,212.0 L80.9,211.0 L81.0,210.2 L81.0,209.5 L81.1,208.5 L81.0,207.5 L81.0,206.9 L81.0,206.0 L81.0,205.0 L81.0,204.0 L81.0,203.2 L81.0,202.5 L81.1,201.5 L81.2,200.5 L81.3,199.5 L81.4,198.5 L81.5,197.9 L81.6,197.0 L81.8,196.0 L81.9,195.0 L82.0,194.5 L82.1,193.5 L82.3,192.5 L82.5,191.6 L82.6,191.0 L82.8,190.0 L83.0,189.2 L83.2,188.5 L83.4,187.5 L83.6,187.0 L83.8,186.0 L84.0,185.3 L84.2,184.5 L84.4,183.5 L84.6,183.0 L84.8,182.0 L85.0,181.0 L85.0,180.5 L85.2,179.5 L85.3,178.5 L85.4,177.5 L85.5,176.6 L85.6,176.0 L85.7,175.0 L85.8,174.0 L85.9,173.0 L86.0,172.4 L86.1,171.5 L86.2,170.5 L86.4,169.5 L86.4,168.5 L86.4,167.5 L86.4,166.5 L86.4,165.5 L86.4,164.5 L86.4,163.5 L86.4,162.5 L86.5,161.5 L86.5,161.0 L86.7,160.0 L86.9,159.0 L87.1,158.5 L87.4,157.5 L87.6,157.0 L88.0,156.2 L88.4,155.5 L88.7,155.0 L89.1,154.5 L89.5,154.0 L90.0,153.5 L90.5,153.0 L91.2,152.5 L92.0,152.1 L92.5,151.8 L93.5,151.5Z M94.0,153.0 L95.0,152.9 L96.0,152.9 L96.5,153.0 L97.5,153.3 L98.0,153.5 L98.9,154.0 L99.5,154.5 L100.0,154.9 L100.5,155.4 L101.0,156.0 L101.3,156.5 L101.6,157.0 L102.0,157.8 L102.3,158.5 L102.5,159.1 L102.7,160.0 L102.9,161.0 L103.0,161.6 L103.1,162.5 L103.1,163.5 L103.1,164.5 L103.1,165.5 L103.1,166.5 L103.0,167.5 L103.0,168.5 L103.1,169.5 L103.1,170.5 L103.2,171.5 L103.3,172.5 L103.4,173.5 L103.4,174.5 L103.5,175.5 L103.5,176.0 L103.6,177.0 L103.6,178.0 L103.6,179.0 L103.6,180.0 L103.6,181.0 L103.7,182.0 L103.7,183.0 L103.9,184.0 L104.0,184.8 L104.1,185.5 L104.3,186.5 L104.5,187.3 L104.6,188.0 L104.8,189.0 L105.0,189.9 L105.1,190.5 L105.2,191.5 L105.4,192.5 L105.4,193.5 L105.5,194.5 L105.5,195.0 L105.5,196.0 L105.6,197.0 L105.6,198.0 L105.6,199.0 L105.5,200.0 L105.5,200.9 L105.5,201.5 L105.4,202.5 L105.3,203.5 L105.2,204.5 L105.1,205.5 L105.0,206.0 L104.8,207.0 L104.6,208.0 L104.5,208.5 L104.2,209.5 L104.0,210.5 L103.9,211.0 L103.8,212.0 L103.8,213.0 L103.7,214.0 L103.7,215.0 L103.5,215.9 L103.4,216.5 L103.0,217.4 L102.7,218.0 L102.4,218.5 L102.0,219.0 L101.0,219.1 L100.0,219.2 L99.0,219.3 L98.0,219.3 L97.0,219.4 L96.0,219.4 L95.0,219.4 L94.0,219.4 L93.0,219.4 L92.0,219.4 L91.0,219.4 L90.0,219.4 L89.0,219.4 L88.0,219.4 L87.0,219.4 L86.0,219.3 L85.0,219.3 L84.0,219.2 L83.0,219.1 L82.4,219.0 L82.0,218.4 L81.5,217.5 L81.3,217.0 L81.1,216.0 L81.1,215.0 L81.3,214.0 L81.5,213.2 L81.7,212.5 L81.9,211.5 L82.1,211.0 L82.2,210.0 L82.2,209.0 L82.2,208.0 L82.1,207.0 L82.1,206.0 L82.1,205.0 L82.1,204.0 L82.1,203.0 L82.2,202.0 L82.2,201.0 L82.3,200.0 L82.4,199.0 L82.5,198.5 L82.6,197.5 L82.8,196.5 L82.9,195.5 L83.0,194.9 L83.1,194.0 L83.3,193.0 L83.5,192.0 L83.6,191.5 L83.8,190.5 L84.0,189.7 L84.2,189.0 L84.4,188.0 L84.6,187.5 L84.8,186.5 L85.0,185.9 L85.3,185.0 L85.5,184.1 L85.7,183.5 L85.9,182.5 L86.0,182.0 L86.2,181.0 L86.4,180.0 L86.5,179.5 L86.6,178.5 L86.7,177.5 L86.9,176.5 L87.0,175.5 L87.0,175.0 L87.2,174.0 L87.3,173.0 L87.5,172.0 L87.5,171.5 L87.7,170.5 L87.8,169.5 L87.8,168.5 L87.8,167.5 L87.7,166.5 L87.7,165.5 L87.6,164.5 L87.6,163.5 L87.6,162.5 L87.7,161.5 L87.9,160.5 L88.0,159.8 L88.2,159.0 L88.5,158.2 L88.8,157.5 L89.0,157.0 L89.5,156.2 L90.0,155.5 L90.5,155.0 L91.0,154.5 L91.5,154.1 L92.0,153.8 L92.5,153.5 L93.5,153.1 L94.0,153.0Z M93.2,155.0 L94.0,154.7 L95.0,154.6 L96.0,154.6 L97.0,154.9 L97.5,155.1 L98.2,155.5 L98.9,156.0 L99.4,156.5 L99.9,157.0 L100.2,157.5 L100.5,158.0 L101.0,159.0 L101.2,159.5 L101.5,160.5 L101.6,161.0 L101.7,162.0 L101.8,163.0 L101.8,164.0 L101.7,165.0 L101.7,166.0 L101.6,167.0 L101.6,168.0 L101.6,169.0 L101.6,170.0 L101.6,171.0 L101.7,172.0 L101.8,173.0 L101.9,174.0 L102.0,175.0 L102.0,175.5 L102.1,176.5 L102.1,177.5 L102.1,178.5 L102.2,179.5 L102.2,180.5 L102.3,181.5 L102.4,182.5 L102.5,183.5 L102.6,184.0 L102.8,185.0 L103.0,185.9 L103.2,186.5 L103.4,187.5 L103.5,188.0 L103.7,189.0 L103.9,190.0 L104.0,190.5 L104.2,191.5 L104.3,192.5 L104.4,193.5 L104.5,194.5 L104.5,195.5 L104.5,196.0 L104.5,197.0 L104.5,198.0 L104.5,199.0 L104.5,199.5 L104.5,200.5 L104.4,201.5 L104.3,202.5 L104.2,203.5 L104.1,204.5 L104.0,205.2 L103.9,206.0 L103.7,207.0 L103.5,207.7 L103.3,208.5 L103.1,209.5 L103.0,210.0 L102.8,211.0 L102.7,212.0 L102.6,213.0 L102.6,214.0 L102.5,215.0 L102.5,215.5 L102.2,216.5 L102.0,217.1 L101.5,218.0 L101.1,218.5 L100.7,219.0 L100.0,219.1 L99.0,219.2 L98.0,219.3 L97.0,219.3 L96.0,219.3 L95.0,219.3 L94.0,219.4 L93.0,219.4 L92.0,219.4 L91.0,219.4 L90.0,219.4 L89.0,219.3 L88.0,219.3 L87.0,219.3 L86.0,219.2 L85.0,219.2 L84.0,219.0 L83.5,218.7 L83.0,218.1 L82.7,217.5 L82.5,217.0 L82.3,216.0 L82.3,215.0 L82.4,214.0 L82.6,213.5 L82.8,212.5 L83.0,212.0 L83.2,211.0 L83.3,210.0 L83.4,209.0 L83.3,208.0 L83.3,207.0 L83.2,206.0 L83.2,205.0 L83.2,204.0 L83.2,203.0 L83.2,202.0 L83.3,201.0 L83.4,200.0 L83.5,199.0 L83.5,198.5 L83.7,197.5 L83.8,196.5 L83.9,195.5 L84.0,195.0 L84.2,194.0 L84.4,193.0 L84.5,192.3 L84.7,191.5 L84.9,190.5 L85.0,190.0 L85.3,189.0 L85.5,188.2 L85.7,187.5 L86.0,186.5 L86.1,186.0 L86.5,185.0 L86.6,184.5 L86.9,183.5 L87.1,183.0 L87.3,182.0 L87.5,181.3 L87.7,180.5 L87.9,179.5 L88.0,178.8 L88.1,178.0 L88.2,177.0 L88.3,176.0 L88.5,175.0 L88.5,174.5 L88.7,173.5 L88.9,172.5 L89.0,171.9 L89.2,171.0 L89.3,170.0 L89.3,169.0 L89.3,168.0 L89.2,167.0 L89.1,166.0 L89.0,165.0 L89.0,164.5 L88.9,163.5 L88.9,162.5 L89.0,161.8 L89.1,161.0 L89.3,160.0 L89.5,159.3 L89.8,158.5 L90.1,158.0 L90.5,157.3 L91.0,156.6 L91.5,156.1 L92.0,155.7 L92.5,155.3 L93.2,155.0Z" fill="none" stroke="#8c8c8c" stroke-width="0.55" stroke-linejoin="round"/>
<path d="M93.3,157.0 L94.0,156.7 L95.0,156.5 L96.0,156.6 L97.0,156.9 L97.5,157.2 L98.0,157.5 L98.5,158.0 L99.0,158.7 L99.5,159.5 L99.7,160.0 L100.0,161.0 L100.1,161.5 L100.2,162.5 L100.2,163.5 L100.2,164.5 L100.1,165.5 L100.0,166.4 L99.9,167.0 L99.8,168.0 L99.8,169.0 L99.7,170.0 L99.8,171.0 L99.9,172.0 L100.0,173.0 L100.0,173.5 L100.2,174.5 L100.3,175.5 L100.3,176.5 L100.4,177.5 L100.5,178.4 L100.5,179.0 L100.6,180.0 L100.7,181.0 L100.8,182.0 L101.0,183.0 L101.1,183.5 L101.3,184.5 L101.5,185.1 L101.8,186.0 L102.0,186.8 L102.2,187.5 L102.5,188.5 L102.6,189.0 L102.8,190.0 L103.0,191.0 L103.1,191.5 L103.2,192.5 L103.3,193.5 L103.4,194.5 L103.4,195.5 L103.5,196.5 L103.5,197.5 L103.5,198.5 L103.4,199.5 L103.4,200.5 L103.3,201.5 L103.2,202.5 L103.1,203.5 L103.0,204.4 L102.9,205.0 L102.7,206.0 L102.5,207.0 L102.4,207.5 L102.1,208.5 L102.0,209.0 L101.8,210.0 L101.6,211.0 L101.5,211.5 L101.4,212.5 L101.4,213.5 L101.4,214.5 L101.3,215.5 L101.0,216.5 L100.8,217.0 L100.5,217.6 L100.0,218.3 L99.5,218.8 L99.0,219.0 L98.0,219.1 L97.0,219.2 L96.0,219.2 L95.0,219.3 L94.0,219.3 L93.0,219.3 L92.0,219.3 L91.0,219.3 L90.0,219.3 L89.0,219.3 L88.0,219.2 L87.0,219.2 L86.0,219.1 L85.2,219.0 L84.6,218.5 L84.2,218.0 L83.9,217.5 L83.5,216.5 L83.4,216.0 L83.4,215.0 L83.5,214.5 L83.7,213.5 L84.0,212.7 L84.2,212.0 L84.4,211.0 L84.5,210.5 L84.6,209.5 L84.5,208.5 L84.5,208.0 L84.4,207.0 L84.4,206.0 L84.3,205.0 L84.3,204.0 L84.3,203.0 L84.3,202.0 L84.4,201.0 L84.4,200.0 L84.5,199.3 L84.6,198.5 L84.7,197.5 L84.8,196.5 L85.0,195.5 L85.1,195.0 L85.2,194.0 L85.4,193.0 L85.5,192.5 L85.7,191.5 L86.0,190.5 L86.1,190.0 L86.4,189.0 L86.6,188.5 L86.9,187.5 L87.0,187.0 L87.4,186.0 L87.6,185.5 L87.9,184.5 L88.1,184.0 L88.4,183.0 L88.6,182.5 L88.9,181.5 L89.1,181.0 L89.3,180.0 L89.5,179.2 L89.6,178.5 L89.8,177.5 L89.9,176.5 L90.0,175.9 L90.1,175.0 L90.3,174.0 L90.5,173.2 L90.7,172.5 L90.9,171.5 L91.0,170.9 L91.1,170.0 L91.1,169.0 L91.1,168.0 L91.0,167.5 L90.8,166.5 L90.7,165.5 L90.5,164.5 L90.5,164.0 L90.4,163.0 L90.5,162.0 L90.5,161.5 L90.8,160.5 L91.0,159.8 L91.4,159.0 L91.7,158.5 L92.1,158.0 L92.6,157.5 L93.3,157.0Z M94.7,159.0 L95.5,158.9 L96.0,159.0 L96.8,159.5 L97.3,160.0 L97.7,160.5 L98.0,161.3 L98.2,162.0 L98.3,163.0 L98.2,164.0 L98.1,165.0 L98.0,165.5 L97.7,166.5 L97.5,167.2 L97.2,168.0 L97.0,168.7 L96.8,169.5 L96.8,170.5 L97.0,171.5 L97.1,172.0 L97.4,173.0 L97.5,173.5 L97.8,174.5 L98.0,175.5 L98.1,176.0 L98.2,177.0 L98.4,178.0 L98.5,178.7 L98.6,179.5 L98.8,180.5 L99.0,181.5 L99.1,182.0 L99.4,183.0 L99.5,183.5 L99.9,184.5 L100.1,185.0 L100.4,186.0 L100.6,186.5 L101.0,187.5 L101.1,188.0 L101.4,189.0 L101.6,189.5 L101.8,190.5 L102.0,191.4 L102.1,192.0 L102.2,193.0 L102.3,194.0 L102.4,195.0 L102.4,196.0 L102.5,197.0 L102.5,198.0 L102.4,199.0 L102.4,200.0 L102.3,201.0 L102.2,202.0 L102.1,203.0 L102.0,203.8 L101.9,204.5 L101.7,205.5 L101.5,206.4 L101.4,207.0 L101.1,208.0 L100.9,208.5 L100.7,209.5 L100.5,210.1 L100.3,211.0 L100.2,212.0 L100.2,213.0 L100.2,214.0 L100.2,215.0 L100.0,216.0 L99.9,216.5 L99.5,217.2 L99.0,217.9 L98.5,218.4 L98.0,218.9 L97.5,219.0 L96.5,219.1 L95.5,219.2 L94.5,219.2 L93.5,219.2 L92.5,219.2 L91.5,219.2 L90.5,219.2 L89.5,219.2 L88.5,219.1 L87.5,219.1 L86.7,219.0 L86.1,218.5 L85.6,218.0 L85.2,217.5 L84.9,217.0 L84.6,216.0 L84.6,215.0 L84.8,214.0 L85.0,213.3 L85.3,212.5 L85.5,211.7 L85.7,211.0 L85.8,210.0 L85.7,209.0 L85.7,208.0 L85.6,207.0 L85.5,206.3 L85.4,205.5 L85.4,204.5 L85.4,203.5 L85.4,202.5 L85.4,201.5 L85.4,200.5 L85.5,199.5 L85.5,199.0 L85.6,198.0 L85.8,197.0 L85.9,196.0 L86.0,195.4 L86.1,194.5 L86.3,193.5 L86.5,192.8 L86.7,192.0 L86.9,191.0 L87.1,190.5 L87.4,189.5 L87.5,189.0 L87.9,188.0 L88.1,187.5 L88.5,186.5 L88.7,186.0 L89.0,185.2 L89.3,184.5 L89.6,184.0 L90.0,183.0 L90.2,182.5 L90.5,181.9 L90.8,181.0 L91.0,180.5 L91.3,179.5 L91.5,178.8 L91.7,178.0 L91.9,177.0 L92.0,176.3 L92.2,175.5 L92.5,174.5 L92.6,174.0 L93.0,173.1 L93.3,172.5 L93.5,171.9 L93.9,171.0 L94.0,170.3 L94.0,169.5 L94.0,169.0 L93.7,168.0 L93.5,167.5 L93.1,166.5 L92.9,166.0 L92.6,165.0 L92.5,164.5 L92.4,163.5 L92.4,162.5 L92.5,161.6 L92.7,161.0 L93.0,160.3 L93.5,159.7 L94.0,159.3 L94.7,159.0Z M93.8,181.5 L94.5,181.1 L95.5,181.3 L96.0,181.6 L96.5,182.2 L97.0,182.9 L97.4,183.5 L97.7,184.0 L98.0,184.5 L98.5,185.4 L98.8,186.0 L99.1,186.5 L99.5,187.4 L99.7,188.0 L100.0,188.6 L100.3,189.5 L100.5,190.1 L100.7,191.0 L101.0,192.0 L101.0,192.5 L101.2,193.5 L101.3,194.5 L101.3,195.5 L101.4,196.5 L101.4,197.5 L101.4,198.5 L101.3,199.5 L101.3,200.5 L101.2,201.5 L101.1,202.5 L101.0,203.0 L100.8,204.0 L100.6,205.0 L100.5,205.5 L100.3,206.5 L100.0,207.4 L99.8,208.0 L99.5,208.9 L99.3,209.5 L99.0,210.5 L98.9,211.0 L98.8,212.0 L98.8,213.0 L98.9,214.0 L98.9,215.0 L98.8,216.0 L98.5,216.6 L98.0,217.4 L97.5,217.9 L97.0,218.3 L96.5,218.7 L95.8,219.0 L95.0,219.0 L94.0,219.1 L93.0,219.1 L92.0,219.1 L91.0,219.1 L90.0,219.1 L89.0,219.0 L88.5,218.9 L87.7,218.5 L87.1,218.0 L86.6,217.5 L86.3,217.0 L86.0,216.4 L85.8,215.5 L85.9,214.5 L86.1,214.0 L86.4,213.0 L86.6,212.5 L86.9,211.5 L87.0,211.0 L87.1,210.0 L87.1,209.0 L87.0,208.5 L86.9,207.5 L86.7,206.5 L86.6,205.5 L86.6,204.5 L86.5,203.5 L86.5,203.0 L86.5,202.0 L86.5,201.2 L86.5,200.5 L86.6,199.5 L86.6,198.5 L86.8,197.5 L86.9,196.5 L87.0,195.8 L87.1,195.0 L87.3,194.0 L87.5,193.2 L87.7,192.5 L88.0,191.5 L88.1,191.0 L88.4,190.0 L88.6,189.5 L89.0,188.5 L89.2,188.0 L89.5,187.4 L89.9,186.5 L90.2,186.0 L90.5,185.5 L91.0,184.7 L91.5,184.0 L91.8,183.5 L92.2,183.0 L92.7,182.5 L93.2,182.0 L93.8,181.5Z M93.7,185.0 L94.5,184.8 L95.4,185.0 L96.0,185.3 L96.5,185.7 L97.0,186.3 L97.5,186.9 L97.9,187.5 L98.2,188.0 L98.5,188.5 L99.0,189.5 L99.2,190.0 L99.5,190.9 L99.7,191.5 L99.9,192.5 L100.0,193.0 L100.1,194.0 L100.2,195.0 L100.3,196.0 L100.3,197.0 L100.3,198.0 L100.3,199.0 L100.3,200.0 L100.2,201.0 L100.0,202.0 L100.0,202.5 L99.8,203.5 L99.6,204.5 L99.4,205.0 L99.2,206.0 L99.0,206.5 L98.7,207.5 L98.5,208.0 L98.0,209.0 L97.8,209.5 L97.5,210.3 L97.3,211.0 L97.3,212.0 L97.4,213.0 L97.5,213.8 L97.6,214.5 L97.5,215.5 L97.4,216.0 L97.0,216.8 L96.5,217.4 L96.0,217.8 L95.5,218.1 L94.5,218.5 L94.0,218.6 L93.0,218.8 L92.0,218.9 L91.0,218.8 L90.0,218.5 L89.5,218.3 L88.9,218.0 L88.2,217.5 L87.7,217.0 L87.4,216.5 L87.2,215.5 L87.2,214.5 L87.5,213.7 L87.8,213.0 L88.0,212.4 L88.3,211.5 L88.5,210.6 L88.5,210.0 L88.5,209.5 L88.3,208.5 L88.1,207.5 L88.0,206.9 L87.9,206.0 L87.7,205.0 L87.6,204.0 L87.6,203.0 L87.6,202.0 L87.6,201.0 L87.6,200.0 L87.6,199.0 L87.7,198.0 L87.8,197.0 L88.0,196.0 L88.1,195.5 L88.3,194.5 L88.5,193.6 L88.7,193.0 L89.0,192.0 L89.1,191.5 L89.5,190.5 L89.7,190.0 L90.0,189.3 L90.4,188.5 L90.7,188.0 L91.0,187.5 L91.5,186.8 L92.0,186.2 L92.5,185.7 L93.0,185.3 L93.7,185.0Z M93.9,187.5 L94.5,187.4 L95.0,187.5 L96.0,188.0 L96.5,188.4 L97.0,189.0 L97.4,189.5 L97.7,190.0 L98.0,190.7 L98.3,191.5 L98.5,192.0 L98.8,193.0 L99.0,194.0 L99.1,194.5 L99.2,195.5 L99.2,196.5 L99.3,197.5 L99.3,198.5 L99.2,199.5 L99.2,200.5 L99.0,201.5 L98.9,202.0 L98.7,203.0 L98.5,204.0 L98.4,204.5 L98.0,205.5 L97.9,206.0 L97.5,206.9 L97.2,207.5 L96.9,208.0 L96.5,208.7 L96.0,209.5 L95.7,210.0 L95.4,210.5 L95.2,211.5 L95.4,212.5 L95.6,213.0 L95.9,214.0 L96.0,214.5 L96.0,215.5 L95.8,216.0 L95.5,216.5 L95.0,217.0 L94.1,217.5 L93.5,217.7 L92.5,217.8 L91.5,217.8 L90.5,217.6 L90.0,217.3 L89.5,217.0 L89.0,216.5 L88.6,215.5 L88.7,214.5 L89.0,213.7 L89.4,213.0 L89.7,212.5 L90.0,211.8 L90.3,211.0 L90.3,210.0 L90.0,209.0 L89.8,208.5 L89.5,207.5 L89.4,207.0 L89.1,206.0 L89.0,205.4 L88.9,204.5 L88.8,203.5 L88.7,202.5 L88.7,201.5 L88.7,200.5 L88.7,199.5 L88.7,198.5 L88.8,197.5 L89.0,196.5 L89.1,196.0 L89.3,195.0 L89.5,194.0 L89.7,193.5 L90.0,192.5 L90.2,192.0 L90.5,191.3 L90.9,190.5 L91.2,190.0 L91.5,189.5 L92.0,188.8 L92.5,188.3 L93.0,187.9 L93.9,187.5Z M93.4,190.0 L94.0,189.8 L95.0,189.8 L95.5,190.1 L96.0,190.5 L96.5,191.0 L97.0,191.8 L97.3,192.5 L97.5,193.0 L97.8,194.0 L98.0,195.0 L98.1,195.5 L98.2,196.5 L98.2,197.5 L98.3,198.5 L98.2,199.5 L98.1,200.5 L98.0,201.2 L97.8,202.0 L97.6,203.0 L97.5,203.5 L97.1,204.5 L96.9,205.0 L96.5,206.0 L96.2,206.5 L95.8,207.0 L95.4,207.5 L94.9,208.0 L94.2,208.5 L93.5,208.8 L92.5,208.7 L92.0,208.4 L91.5,207.9 L91.0,207.2 L90.7,206.5 L90.5,206.0 L90.2,205.0 L90.0,204.2 L89.9,203.5 L89.8,202.5 L89.7,201.5 L89.7,200.5 L89.7,199.5 L89.8,198.5 L89.9,197.5 L90.0,196.5 L90.1,196.0 L90.3,195.0 L90.5,194.4 L90.8,193.5 L91.0,193.0 L91.5,192.1 L91.9,191.5 L92.2,191.0 L92.7,190.5 L93.4,190.0Z M91.4,213.5 L92.0,213.2 L93.0,213.3 L93.5,213.7 L94.0,214.4 L94.1,215.0 L94.0,215.6 L93.5,216.2 L92.6,216.5 L92.0,216.5 L91.5,216.4 L90.8,216.0 L90.5,215.5 L90.5,214.7 L90.9,214.0 L91.4,213.5Z M93.6,192.0 L94.5,191.8 L95.0,192.0 L95.6,192.5 L96.0,193.0 L96.5,193.9 L96.7,194.5 L97.0,195.4 L97.1,196.0 L97.2,197.0 L97.3,198.0 L97.3,199.0 L97.2,200.0 L97.1,201.0 L96.9,201.5 L96.7,202.5 L96.5,203.0 L96.1,204.0 L95.9,204.5 L95.5,205.1 L95.0,205.7 L94.5,206.2 L93.8,206.5 L93.0,206.5 L92.5,206.3 L92.0,205.8 L91.5,205.0 L91.3,204.5 L91.0,203.5 L90.9,203.0 L90.8,202.0 L90.7,201.0 L90.7,200.0 L90.7,199.0 L90.7,198.0 L90.9,197.0 L91.0,196.3 L91.2,195.5 L91.5,194.7 L91.8,194.0 L92.1,193.5 L92.5,192.9 L93.0,192.4 L93.6,192.0Z M93.3,194.0 L94.0,193.7 L95.0,194.0 L95.5,194.5 L95.7,195.0 L96.0,195.6 L96.3,196.5 L96.4,197.5 L96.5,198.5 L96.4,199.5 L96.2,200.5 L96.0,201.5 L95.8,202.0 L95.5,202.8 L95.1,203.5 L94.7,204.0 L94.0,204.5 L93.5,204.6 L93.0,204.4 L92.5,203.9 L92.1,203.0 L91.9,202.5 L91.7,201.5 L91.6,200.5 L91.5,199.5 L91.5,198.5 L91.7,197.5 L91.9,196.5 L92.0,196.0 L92.5,195.0 L92.8,194.5 L93.3,194.0Z" fill="none" stroke="#484848" stroke-width="0.55" stroke-linejoin="round"/>
<ellipse cx="86.3" cy="202" rx="1.7" ry="2.8" fill="#000" fill-opacity="0.28"/>
<path d="M83,219.5 Q92,215 103,219.5 Z" fill="#333"/>
<path d="M83.4,283.5 L84.0,283.4 L85.0,283.3 L86.0,283.4 L86.9,283.5 L87.5,283.6 L88.5,283.9 L89.0,284.1 L89.8,284.5 L90.5,284.9 L91.0,285.2 L91.5,285.5 L92.1,286.0 L92.7,286.5 L93.2,287.0 L93.7,287.5 L94.1,288.0 L94.5,288.5 L95.0,289.3 L95.4,290.0 L95.7,290.5 L96.0,291.1 L96.4,292.0 L96.6,292.5 L96.9,293.5 L97.0,294.0 L97.3,295.0 L97.5,295.9 L97.6,296.5 L97.8,297.5 L97.9,298.5 L98.0,299.0 L98.1,300.0 L98.2,301.0 L98.2,302.0 L98.3,303.0 L98.3,304.0 L98.3,305.0 L98.2,306.0 L98.2,307.0 L98.1,308.0 L98.0,308.9 L98.0,309.5 L97.9,310.5 L97.9,311.5 L98.0,312.5 L98.0,313.0 L98.2,314.0 L98.4,315.0 L98.5,316.0 L98.5,316.5 L98.5,317.4 L98.4,318.0 L98.2,319.0 L98.0,319.6 L97.5,320.5 L97.0,320.6 L96.0,320.7 L95.0,320.8 L94.0,320.8 L93.0,320.9 L92.0,320.9 L91.0,320.9 L90.0,320.9 L89.0,320.9 L88.0,320.9 L87.0,320.9 L86.0,320.9 L85.0,320.9 L84.0,320.9 L83.0,320.9 L82.0,320.9 L81.0,320.9 L80.0,320.9 L79.0,320.9 L78.0,320.9 L77.0,320.9 L76.0,320.8 L75.0,320.8 L74.0,320.7 L73.0,320.6 L72.5,320.1 L72.2,319.5 L72.0,318.8 L71.8,318.0 L71.8,317.0 L71.8,316.0 L72.0,315.0 L72.1,314.5 L72.3,313.5 L72.5,312.5 L72.5,312.0 L72.6,311.0 L72.6,310.0 L72.6,309.0 L72.6,308.0 L72.6,307.0 L72.6,306.0 L72.6,305.0 L72.6,304.0 L72.6,303.0 L72.6,302.0 L72.7,301.0 L72.8,300.0 L72.8,299.0 L73.0,298.0 L73.0,297.5 L73.2,296.5 L73.4,295.5 L73.5,295.0 L73.8,294.0 L74.0,293.3 L74.3,292.5 L74.5,291.8 L74.8,291.0 L75.1,290.5 L75.5,289.6 L75.8,289.0 L76.2,288.5 L76.5,288.0 L77.0,287.4 L77.5,286.8 L78.0,286.4 L78.5,285.9 L79.0,285.5 L79.7,285.0 L80.5,284.6 L81.0,284.3 L81.7,284.0 L82.5,283.7 L83.4,283.5Z" fill="#000" fill-opacity="0.32" stroke="none"/>
<path d="M84.4,285.5 L85.0,285.4 L86.0,285.5 L86.5,285.5 L87.5,285.7 L88.3,286.0 L89.0,286.3 L89.5,286.5 L90.3,287.0 L91.0,287.5 L91.5,287.9 L92.0,288.4 L92.5,288.9 L93.0,289.5 L93.4,290.0 L93.7,290.5 L94.0,291.0 L94.5,292.0 L94.7,292.5 L95.0,293.1 L95.3,294.0 L95.5,294.6 L95.8,295.5 L96.0,296.5 L96.1,297.0 L96.3,298.0 L96.4,299.0 L96.5,299.6 L96.6,300.5 L96.7,301.5 L96.7,302.5 L96.7,303.5 L96.7,304.5 L96.6,305.5 L96.6,306.5 L96.5,307.3 L96.4,308.0 L96.3,309.0 L96.3,310.0 L96.2,311.0 L96.2,312.0 L96.3,313.0 L96.4,314.0 L96.5,314.5 L96.7,315.5 L96.8,316.5 L96.7,317.5 L96.6,318.5 L96.4,319.0 L96.0,319.9 L95.6,320.5 L95.0,320.6 L94.0,320.7 L93.0,320.8 L92.0,320.8 L91.0,320.8 L90.0,320.9 L89.0,320.9 L88.0,320.9 L87.0,320.9 L86.0,320.9 L85.0,320.9 L84.0,320.9 L83.0,320.9 L82.0,320.9 L81.0,320.9 L80.0,320.8 L79.0,320.8 L78.0,320.8 L77.0,320.7 L76.0,320.7 L75.0,320.6 L74.5,320.4 L74.0,319.5 L73.8,319.0 L73.6,318.0 L73.5,317.0 L73.6,316.0 L73.7,315.0 L73.9,314.0 L74.0,313.5 L74.2,312.5 L74.3,311.5 L74.3,310.5 L74.3,309.5 L74.3,308.5 L74.2,307.5 L74.2,306.5 L74.2,305.5 L74.2,304.5 L74.2,303.5 L74.2,302.5 L74.3,301.5 L74.3,300.5 L74.4,299.5 L74.5,299.0 L74.6,298.0 L74.8,297.0 L75.0,296.1 L75.1,295.5 L75.4,294.5 L75.6,294.0 L75.9,293.0 L76.1,292.5 L76.5,291.6 L76.8,291.0 L77.1,290.5 L77.5,289.9 L78.0,289.2 L78.5,288.6 L79.0,288.1 L79.5,287.7 L80.0,287.3 L80.5,286.9 L81.3,286.5 L82.0,286.1 L82.5,285.9 L83.5,285.6 L84.4,285.5Z" fill="#000" fill-opacity="0.3" stroke="none"/>
<path d="M84.2,287.5 L85.0,287.4 L86.0,287.4 L86.8,287.5 L87.5,287.7 L88.4,288.0 L89.0,288.3 L89.5,288.6 L90.2,289.0 L90.8,289.5 L91.3,290.0 L91.7,290.5 L92.1,291.0 L92.5,291.5 L93.0,292.4 L93.3,293.0 L93.5,293.5 L93.9,294.5 L94.1,295.0 L94.4,296.0 L94.5,296.5 L94.8,297.5 L95.0,298.5 L95.0,299.0 L95.2,300.0 L95.2,301.0 L95.3,302.0 L95.3,303.0 L95.3,304.0 L95.2,305.0 L95.2,306.0 L95.1,307.0 L95.0,307.6 L94.9,308.5 L94.8,309.5 L94.7,310.5 L94.6,311.5 L94.6,312.5 L94.7,313.5 L94.9,314.5 L95.0,315.1 L95.1,316.0 L95.2,317.0 L95.1,318.0 L94.9,318.5 L94.5,319.5 L94.2,320.0 L93.8,320.5 L93.0,320.6 L92.0,320.7 L91.0,320.7 L90.0,320.8 L89.0,320.8 L88.0,320.8 L87.0,320.8 L86.0,320.8 L85.0,320.8 L84.0,320.8 L83.0,320.8 L82.0,320.8 L81.0,320.8 L80.0,320.8 L79.0,320.7 L78.0,320.6 L77.0,320.6 L76.4,320.5 L76.0,320.0 L75.5,319.0 L75.3,318.5 L75.1,317.5 L75.1,316.5 L75.2,315.5 L75.4,314.5 L75.5,314.0 L75.7,313.0 L75.8,312.0 L75.9,311.0 L75.9,310.0 L75.8,309.0 L75.8,308.0 L75.7,307.0 L75.7,306.0 L75.7,305.0 L75.7,304.0 L75.7,303.0 L75.7,302.0 L75.8,301.0 L75.8,300.0 L76.0,299.0 L76.0,298.5 L76.2,297.5 L76.4,296.5 L76.6,296.0 L76.9,295.0 L77.0,294.5 L77.4,293.5 L77.7,293.0 L78.0,292.4 L78.5,291.5 L78.9,291.0 L79.3,290.5 L79.7,290.0 L80.2,289.5 L80.9,289.0 L81.5,288.6 L82.0,288.3 L82.6,288.0 L83.5,287.7 L84.2,287.5Z" fill="#000" fill-opacity="0.27" stroke="none"/>
<path d="M83.8,289.5 L84.5,289.3 L85.5,289.2 L86.5,289.3 L87.5,289.5 L88.0,289.7 L88.7,290.0 L89.5,290.5 L90.0,290.9 L90.5,291.4 L91.0,292.0 L91.3,292.5 L91.7,293.0 L92.0,293.6 L92.4,294.5 L92.6,295.0 L93.0,296.0 L93.1,296.5 L93.4,297.5 L93.5,298.0 L93.7,299.0 L93.8,300.0 L93.9,301.0 L94.0,302.0 L94.0,303.0 L94.0,304.0 L93.9,305.0 L93.8,306.0 L93.7,307.0 L93.6,308.0 L93.5,308.5 L93.3,309.5 L93.2,310.5 L93.1,311.5 L93.1,312.5 L93.2,313.5 L93.4,314.5 L93.5,315.1 L93.6,316.0 L93.7,317.0 L93.6,318.0 L93.4,318.5 L93.0,319.3 L92.5,320.0 L92.0,320.5 L91.5,320.5 L90.5,320.6 L89.5,320.7 L88.5,320.7 L87.5,320.7 L86.5,320.7 L85.5,320.7 L84.5,320.7 L83.5,320.7 L82.5,320.7 L81.5,320.7 L80.5,320.7 L79.5,320.6 L78.5,320.5 L78.0,320.2 L77.5,319.6 L77.1,319.0 L76.9,318.5 L76.6,317.5 L76.6,316.5 L76.8,315.5 L77.0,314.5 L77.1,314.0 L77.3,313.0 L77.4,312.0 L77.5,311.0 L77.4,310.0 L77.3,309.0 L77.2,308.0 L77.1,307.0 L77.1,306.0 L77.1,305.0 L77.1,304.0 L77.1,303.0 L77.1,302.0 L77.1,301.0 L77.2,300.0 L77.4,299.0 L77.5,298.2 L77.7,297.5 L77.9,296.5 L78.1,296.0 L78.4,295.0 L78.7,294.5 L79.0,293.8 L79.5,293.0 L79.8,292.5 L80.2,292.0 L80.7,291.5 L81.2,291.0 L81.8,290.5 L82.5,290.1 L83.0,289.8 L83.8,289.5Z" fill="#000" fill-opacity="0.22" stroke="none"/>
<path d="M84.6,291.5 L85.5,291.4 L86.5,291.4 L87.0,291.5 L88.0,291.9 L88.5,292.2 L89.0,292.6 L89.5,293.1 L90.0,293.8 L90.5,294.5 L90.7,295.0 L91.0,295.6 L91.4,296.5 L91.6,297.0 L91.9,298.0 L92.0,298.5 L92.2,299.5 L92.4,300.5 L92.5,301.5 L92.5,302.5 L92.5,303.5 L92.4,304.5 L92.3,305.5 L92.2,306.5 L92.0,307.5 L91.9,308.0 L91.7,309.0 L91.5,309.9 L91.4,310.5 L91.3,311.5 L91.3,312.5 L91.4,313.5 L91.5,314.0 L91.7,315.0 L91.9,316.0 L91.9,317.0 L91.8,318.0 L91.5,318.6 L91.0,319.3 L90.5,319.8 L90.0,320.2 L89.5,320.5 L88.5,320.6 L87.5,320.6 L86.5,320.6 L85.5,320.6 L84.5,320.6 L83.5,320.6 L82.5,320.6 L81.5,320.5 L80.7,320.5 L80.0,320.0 L79.5,319.6 L79.1,319.0 L78.8,318.5 L78.5,317.7 L78.4,317.0 L78.5,316.0 L78.6,315.5 L78.9,314.5 L79.0,314.0 L79.3,313.0 L79.4,312.0 L79.4,311.0 L79.3,310.0 L79.1,309.0 L79.0,308.1 L78.9,307.5 L78.8,306.5 L78.8,305.5 L78.7,304.5 L78.7,303.5 L78.7,302.5 L78.7,301.5 L78.8,300.5 L78.9,299.5 L79.0,298.8 L79.2,298.0 L79.5,297.0 L79.7,296.5 L80.0,295.7 L80.4,295.0 L80.7,294.5 L81.0,294.0 L81.5,293.4 L82.0,292.9 L82.5,292.5 L83.3,292.0 L84.0,291.7 L84.6,291.5Z" fill="#000" fill-opacity="0.16" stroke="none"/>
<path d="M83.7,256.5 L84.5,256.3 L85.5,256.2 L86.5,256.1 L87.5,256.1 L88.5,256.2 L89.5,256.4 L90.1,256.5 L91.0,256.8 L91.7,257.0 L92.5,257.4 L93.0,257.7 L93.5,258.0 L94.1,258.5 L94.7,259.0 L95.1,259.5 L95.5,260.0 L96.0,260.7 L96.4,261.5 L96.7,262.0 L97.0,262.9 L97.2,263.5 L97.4,264.5 L97.4,265.5 L97.3,266.5 L97.1,267.5 L97.0,268.0 L96.6,269.0 L96.4,269.5 L96.0,270.5 L95.8,271.0 L95.5,271.7 L95.2,272.5 L95.0,273.3 L94.9,274.0 L94.8,275.0 L94.7,276.0 L94.7,277.0 L94.7,278.0 L94.6,279.0 L94.5,279.8 L94.4,280.5 L94.0,281.5 L93.8,282.0 L93.5,282.7 L93.0,283.5 L92.7,284.0 L92.3,284.5 L91.8,285.0 L91.3,285.5 L90.7,286.0 L90.0,286.4 L89.5,286.7 L88.5,287.0 L88.0,287.1 L87.0,287.1 L86.0,287.0 L85.5,286.9 L84.5,286.5 L84.0,286.2 L83.5,285.9 L82.9,285.5 L82.4,285.0 L81.9,284.5 L81.5,284.0 L81.0,283.2 L80.7,282.5 L80.5,282.0 L80.2,281.0 L80.0,280.0 L80.0,279.5 L80.0,278.5 L80.0,277.5 L80.0,277.0 L80.1,276.0 L80.2,275.0 L80.3,274.0 L80.2,273.0 L80.1,272.0 L80.0,271.5 L79.6,270.5 L79.4,270.0 L79.0,269.1 L78.7,268.5 L78.5,268.0 L78.1,267.0 L77.9,266.5 L77.6,265.5 L77.5,264.7 L77.4,264.0 L77.4,263.0 L77.5,262.4 L77.7,261.5 L78.0,260.7 L78.4,260.0 L78.7,259.5 L79.1,259.0 L79.6,258.5 L80.3,258.0 L81.0,257.5 L81.5,257.3 L82.1,257.0 L83.0,256.7 L83.7,256.5Z" fill="#000" fill-opacity="0.05" stroke="none"/>
<path d="M86.4,258.0 L87.0,258.0 L88.0,258.0 L88.5,258.0 L89.5,258.2 L90.5,258.4 L91.0,258.6 L91.8,259.0 L92.5,259.4 L93.0,259.8 L93.5,260.3 L94.0,260.9 L94.5,261.5 L94.7,262.0 L95.0,262.5 L95.3,263.5 L95.5,264.2 L95.6,265.0 L95.6,266.0 L95.5,266.5 L95.2,267.5 L95.0,268.1 L94.6,269.0 L94.3,269.5 L94.0,270.1 L93.5,271.0 L93.2,271.5 L93.0,272.0 L92.6,273.0 L92.5,273.5 L92.4,274.5 L92.3,275.5 L92.4,276.5 L92.4,277.5 L92.3,278.5 L92.1,279.5 L92.0,280.0 L91.6,281.0 L91.3,281.5 L91.0,282.0 L90.5,282.6 L90.0,283.1 L89.5,283.5 L88.6,284.0 L88.0,284.2 L87.0,284.3 L86.0,284.2 L85.4,284.0 L84.5,283.5 L84.0,283.1 L83.5,282.6 L83.1,282.0 L82.8,281.5 L82.5,280.9 L82.3,280.0 L82.1,279.0 L82.1,278.0 L82.2,277.0 L82.3,276.0 L82.5,275.0 L82.6,274.5 L82.6,273.5 L82.6,272.5 L82.5,272.0 L82.2,271.0 L82.0,270.4 L81.6,269.5 L81.4,269.0 L81.0,268.2 L80.7,267.5 L80.5,267.0 L80.1,266.0 L80.0,265.5 L79.8,264.5 L79.8,263.5 L80.0,262.5 L80.1,262.0 L80.5,261.2 L81.0,260.5 L81.4,260.0 L82.0,259.5 L82.5,259.2 L83.0,258.9 L84.0,258.5 L84.5,258.3 L85.5,258.1 L86.4,258.0Z" fill="#000" fill-opacity="0.05" stroke="none"/>
<path d="M86.9,259.5 L87.5,259.5 L88.4,259.5 L89.0,259.6 L90.0,259.8 L90.5,260.0 L91.5,260.5 L92.0,260.9 L92.5,261.4 L93.0,262.0 L93.3,262.5 L93.6,263.0 L93.9,264.0 L94.0,264.5 L94.0,265.5 L94.0,266.0 L93.7,267.0 L93.5,267.5 L93.0,268.5 L92.6,269.0 L92.3,269.5 L91.9,270.0 L91.5,270.5 L91.0,271.1 L90.5,271.7 L90.0,272.4 L89.7,273.0 L89.5,273.6 L89.4,274.5 L89.5,275.5 L89.6,276.0 L89.7,277.0 L89.7,278.0 L89.5,278.8 L89.3,279.5 L89.0,280.0 L88.5,280.5 L87.8,281.0 L87.0,281.2 L86.1,281.0 L85.5,280.6 L85.0,280.1 L84.7,279.5 L84.5,278.5 L84.5,278.0 L84.5,277.5 L84.7,276.5 L85.0,275.5 L85.2,275.0 L85.4,274.0 L85.4,273.0 L85.1,272.0 L84.9,271.5 L84.5,270.8 L84.0,270.0 L83.7,269.5 L83.4,269.0 L83.0,268.4 L82.5,267.5 L82.3,267.0 L82.0,266.2 L81.8,265.5 L81.7,264.5 L81.8,263.5 L82.0,262.6 L82.3,262.0 L82.7,261.5 L83.2,261.0 L83.8,260.5 L84.5,260.1 L85.0,259.9 L86.0,259.6 L86.9,259.5Z" fill="#000" fill-opacity="0.05" stroke="none"/>
<path d="M82.5,252.5 L83.5,252.3 L84.5,252.2 L85.5,252.2 L86.5,252.2 L87.5,252.3 L88.5,252.4 L89.1,252.5 L90.0,252.7 L91.0,252.9 L91.5,253.1 L92.5,253.5 L93.0,253.7 L93.7,254.0 L94.5,254.4 L95.0,254.8 L95.5,255.1 L96.0,255.5 L96.6,256.0 L97.1,256.5 L97.6,257.0 L98.0,257.5 L98.5,258.1 L99.0,258.9 L99.4,259.5 L99.6,260.0 L100.0,260.8 L100.3,261.5 L100.5,262.2 L100.7,263.0 L100.9,264.0 L100.9,265.0 L100.9,266.0 L100.8,267.0 L100.7,268.0 L100.5,268.6 L100.3,269.5 L100.0,270.4 L99.8,271.0 L99.5,272.0 L99.4,272.5 L99.2,273.5 L99.0,274.4 L98.9,275.0 L98.9,276.0 L98.9,277.0 L98.9,278.0 L98.8,279.0 L98.8,280.0 L98.7,281.0 L98.6,282.0 L98.5,282.7 L98.4,283.5 L98.3,284.5 L98.2,285.5 L98.2,286.5 L98.3,287.5 L98.5,288.5 L98.6,289.0 L98.8,290.0 L99.0,291.0 L99.1,291.5 L99.3,292.5 L99.5,293.2 L99.7,294.0 L99.9,295.0 L100.0,296.0 L100.1,296.5 L100.2,297.5 L100.3,298.5 L100.4,299.5 L100.5,300.5 L100.5,301.0 L100.6,302.0 L100.6,303.0 L100.6,304.0 L100.6,305.0 L100.6,306.0 L100.5,307.0 L100.5,307.5 L100.5,308.5 L100.4,309.5 L100.4,310.5 L100.4,311.5 L100.5,312.1 L100.6,313.0 L100.8,314.0 L100.9,315.0 L101.0,315.5 L101.1,316.5 L101.1,317.5 L101.0,318.5 L100.9,319.0 L100.6,320.0 L100.4,320.5 L99.5,320.6 L98.5,320.8 L97.5,320.8 L96.5,320.9 L95.5,320.9 L94.5,320.9 L93.5,321.0 L92.5,321.0 L91.5,321.0 L90.5,321.0 L89.5,321.0 L88.5,321.0 L87.5,321.0 L86.5,321.0 L85.5,321.0 L84.5,321.0 L83.5,321.0 L82.5,321.0 L81.5,321.0 L80.5,321.0 L79.5,321.0 L78.5,321.0 L77.5,321.0 L76.5,320.9 L75.5,320.9 L74.5,320.9 L73.5,320.9 L72.5,320.8 L71.5,320.7 L70.5,320.6 L69.9,320.5 L69.5,319.5 L69.4,319.0 L69.3,318.0 L69.2,317.0 L69.3,316.0 L69.5,315.0 L69.5,314.5 L69.7,313.5 L69.9,312.5 L70.0,312.0 L70.1,311.0 L70.2,310.0 L70.2,309.0 L70.2,308.0 L70.2,307.0 L70.2,306.0 L70.2,305.0 L70.2,304.0 L70.2,303.0 L70.3,302.0 L70.3,301.0 L70.4,300.0 L70.4,299.0 L70.5,298.5 L70.6,297.5 L70.8,296.5 L71.0,295.5 L71.1,295.0 L71.3,294.0 L71.5,293.1 L71.7,292.5 L72.0,291.5 L72.1,291.0 L72.5,290.0 L72.6,289.5 L73.0,288.6 L73.2,288.0 L73.5,287.3 L73.8,286.5 L74.0,286.0 L74.4,285.0 L74.6,284.5 L74.9,283.5 L75.0,283.0 L75.3,282.0 L75.4,281.0 L75.5,280.5 L75.6,279.5 L75.7,278.5 L75.8,277.5 L75.9,276.5 L75.9,275.5 L75.9,274.5 L75.8,273.5 L75.5,272.5 L75.3,272.0 L75.0,271.3 L74.6,270.5 L74.4,270.0 L74.0,269.2 L73.7,268.5 L73.5,268.0 L73.1,267.0 L72.9,266.5 L72.7,265.5 L72.6,264.5 L72.5,263.5 L72.6,262.5 L72.7,261.5 L72.8,260.5 L73.0,259.9 L73.3,259.0 L73.6,258.5 L74.0,257.7 L74.5,257.0 L74.9,256.5 L75.4,256.0 L75.9,255.5 L76.5,255.1 L77.0,254.7 L77.5,254.4 L78.2,254.0 L79.0,253.6 L79.5,253.4 L80.5,253.0 L81.0,252.9 L82.0,252.6 L82.5,252.5Z M83.6,254.0 L84.5,253.9 L85.5,253.8 L86.5,253.8 L87.5,253.8 L88.5,253.9 L89.0,254.0 L90.0,254.2 L91.0,254.5 L91.5,254.6 L92.5,255.0 L93.0,255.2 L93.5,255.5 L94.3,256.0 L95.0,256.5 L95.5,256.9 L96.0,257.4 L96.5,257.9 L97.0,258.5 L97.4,259.0 L97.7,259.5 L98.0,260.0 L98.5,260.9 L98.8,261.5 L99.0,262.1 L99.3,263.0 L99.5,264.0 L99.5,264.5 L99.6,265.5 L99.5,266.4 L99.4,267.0 L99.2,268.0 L99.0,268.9 L98.8,269.5 L98.5,270.4 L98.3,271.0 L98.0,271.8 L97.8,272.5 L97.5,273.5 L97.5,274.0 L97.3,275.0 L97.3,276.0 L97.3,277.0 L97.3,278.0 L97.3,279.0 L97.2,280.0 L97.1,281.0 L97.0,281.9 L96.9,282.5 L96.8,283.5 L96.7,284.5 L96.6,285.5 L96.6,286.5 L96.7,287.5 L96.9,288.5 L97.0,289.0 L97.3,290.0 L97.5,290.8 L97.7,291.5 L97.9,292.5 L98.1,293.0 L98.3,294.0 L98.5,294.9 L98.6,295.5 L98.8,296.5 L98.9,297.5 L99.0,298.1 L99.1,299.0 L99.2,300.0 L99.3,301.0 L99.3,302.0 L99.4,303.0 L99.4,304.0 L99.4,305.0 L99.3,306.0 L99.3,307.0 L99.2,308.0 L99.1,309.0 L99.1,310.0 L99.1,311.0 L99.2,312.0 L99.3,313.0 L99.4,314.0 L99.5,314.5 L99.7,315.5 L99.7,316.5 L99.7,317.5 L99.6,318.5 L99.5,319.0 L99.1,320.0 L98.9,320.5 L98.0,320.6 L97.0,320.7 L96.0,320.8 L95.0,320.9 L94.0,320.9 L93.0,320.9 L92.0,320.9 L91.0,320.9 L90.0,321.0 L89.0,321.0 L88.0,321.0 L87.0,321.0 L86.0,321.0 L85.0,321.0 L84.0,321.0 L83.0,321.0 L82.0,321.0 L81.0,321.0 L80.0,321.0 L79.0,320.9 L78.0,320.9 L77.0,320.9 L76.0,320.9 L75.0,320.9 L74.0,320.8 L73.0,320.7 L72.0,320.6 L71.4,320.5 L71.0,319.6 L70.8,319.0 L70.6,318.0 L70.6,317.0 L70.7,316.0 L70.8,315.0 L71.0,314.0 L71.1,313.5 L71.3,312.5 L71.4,311.5 L71.5,310.5 L71.5,309.5 L71.5,308.5 L71.5,307.5 L71.5,306.5 L71.5,305.5 L71.5,304.5 L71.5,303.5 L71.5,303.0 L71.5,302.0 L71.6,301.0 L71.6,300.0 L71.7,299.0 L71.8,298.0 L72.0,297.0 L72.1,296.5 L72.2,295.5 L72.5,294.5 L72.6,294.0 L72.9,293.0 L73.0,292.5 L73.3,291.5 L73.5,291.0 L73.9,290.0 L74.1,289.5 L74.5,288.5 L74.7,288.0 L75.0,287.3 L75.4,286.5 L75.6,286.0 L76.0,285.0 L76.2,284.5 L76.5,283.6 L76.6,283.0 L76.8,282.0 L77.0,281.1 L77.1,280.5 L77.2,279.5 L77.3,278.5 L77.4,277.5 L77.5,276.8 L77.6,276.0 L77.6,275.0 L77.6,274.0 L77.5,273.1 L77.4,272.5 L77.1,271.5 L76.9,271.0 L76.5,270.2 L76.1,269.5 L75.9,269.0 L75.5,268.1 L75.2,267.5 L75.0,266.8 L74.8,266.0 L74.6,265.0 L74.5,264.5 L74.4,263.5 L74.5,262.5 L74.5,262.0 L74.7,261.0 L75.0,260.0 L75.2,259.5 L75.5,259.0 L76.0,258.2 L76.5,257.6 L77.0,257.0 L77.5,256.6 L78.0,256.2 L78.5,255.9 L79.1,255.5 L80.0,255.1 L80.5,254.9 L81.5,254.5 L82.0,254.3 L83.0,254.1 L83.6,254.0Z M83.7,255.5 L84.5,255.4 L85.5,255.3 L86.5,255.2 L87.5,255.2 L88.5,255.3 L89.5,255.5 L90.0,255.6 L91.0,255.8 L91.5,256.0 L92.5,256.4 L93.0,256.7 L93.5,257.0 L94.2,257.5 L94.8,258.0 L95.3,258.5 L95.8,259.0 L96.2,259.5 L96.5,260.0 L97.0,260.8 L97.4,261.5 L97.6,262.0 L97.9,263.0 L98.0,263.5 L98.2,264.5 L98.3,265.5 L98.2,266.5 L98.0,267.5 L97.9,268.0 L97.6,269.0 L97.4,269.5 L97.0,270.5 L96.8,271.0 L96.5,271.8 L96.3,272.5 L96.0,273.5 L95.9,274.0 L95.8,275.0 L95.8,276.0 L95.8,277.0 L95.8,278.0 L95.8,279.0 L95.7,280.0 L95.6,281.0 L95.5,281.7 L95.4,282.5 L95.2,283.5 L95.1,284.5 L95.0,285.5 L95.1,286.5 L95.2,287.5 L95.5,288.5 L95.6,289.0 L95.9,290.0 L96.1,290.5 L96.4,291.5 L96.6,292.0 L96.8,293.0 L97.0,293.6 L97.2,294.5 L97.5,295.5 L97.6,296.0 L97.7,297.0 L97.9,298.0 L98.0,299.0 L98.1,299.5 L98.1,300.5 L98.2,301.5 L98.3,302.5 L98.3,303.5 L98.3,304.5 L98.2,305.5 L98.2,306.5 L98.1,307.5 L98.0,308.5 L98.0,309.0 L97.9,310.0 L97.9,311.0 L97.9,312.0 L98.0,312.6 L98.1,313.5 L98.3,314.5 L98.4,315.5 L98.5,316.4 L98.5,317.0 L98.5,317.5 L98.4,318.5 L98.0,319.5 L97.8,320.0 L97.5,320.5 L96.5,320.6 L95.5,320.7 L94.5,320.8 L93.5,320.9 L92.5,320.9 L91.5,320.9 L90.5,320.9 L89.5,320.9 L88.5,320.9 L87.5,320.9 L86.5,320.9 L85.5,320.9 L84.5,320.9 L83.5,320.9 L82.5,320.9 L81.5,320.9 L80.5,320.9 L79.5,320.9 L78.5,320.9 L77.5,320.9 L76.5,320.8 L75.5,320.8 L74.5,320.7 L73.5,320.6 L72.7,320.5 L72.4,320.0 L72.1,319.0 L71.9,318.5 L71.8,317.5 L71.8,316.5 L71.9,315.5 L72.0,315.0 L72.2,314.0 L72.4,313.0 L72.5,312.2 L72.6,311.5 L72.6,310.5 L72.6,309.5 L72.6,308.5 L72.6,307.5 L72.6,306.5 L72.6,305.5 L72.6,304.5 L72.6,303.5 L72.6,302.5 L72.7,301.5 L72.7,300.5 L72.8,299.5 L72.9,298.5 L73.0,297.9 L73.1,297.0 L73.3,296.0 L73.5,295.2 L73.6,294.5 L73.9,293.5 L74.1,293.0 L74.4,292.0 L74.6,291.5 L75.0,290.5 L75.2,290.0 L75.5,289.3 L75.9,288.5 L76.1,288.0 L76.5,287.2 L76.9,286.5 L77.1,286.0 L77.5,285.1 L77.7,284.5 L78.0,283.7 L78.2,283.0 L78.3,282.0 L78.5,281.0 L78.5,280.5 L78.6,279.5 L78.7,278.5 L78.9,277.5 L79.0,276.6 L79.1,276.0 L79.2,275.0 L79.2,274.0 L79.1,273.0 L79.0,272.1 L78.8,271.5 L78.5,270.6 L78.2,270.0 L78.0,269.5 L77.5,268.5 L77.3,268.0 L77.0,267.3 L76.7,266.5 L76.5,265.7 L76.4,265.0 L76.3,264.0 L76.2,263.0 L76.4,262.0 L76.5,261.4 L76.8,260.5 L77.0,260.0 L77.5,259.2 L78.0,258.5 L78.5,258.0 L79.0,257.6 L79.5,257.2 L80.0,256.9 L80.7,256.5 L81.5,256.2 L82.0,256.0 L83.0,255.7 L83.7,255.5Z M84.0,257.0 L84.5,256.9 L85.5,256.7 L86.5,256.6 L87.5,256.6 L88.5,256.7 L89.5,256.9 L90.1,257.0 L91.0,257.3 L91.6,257.5 L92.5,258.0 L93.0,258.3 L93.5,258.6 L94.0,259.0 L94.5,259.5 L95.0,260.1 L95.5,260.8 L95.9,261.5 L96.1,262.0 L96.5,262.9 L96.7,263.5 L96.9,264.5 L96.9,265.5 L96.8,266.5 L96.6,267.5 L96.5,268.0 L96.1,269.0 L95.9,269.5 L95.5,270.3 L95.2,271.0 L95.0,271.5 L94.6,272.5 L94.4,273.0 L94.2,274.0 L94.2,275.0 L94.1,276.0 L94.2,277.0 L94.2,278.0 L94.2,279.0 L94.1,280.0 L94.0,280.6 L93.8,281.5 L93.7,282.5 L93.5,283.4 L93.4,284.0 L93.3,285.0 L93.4,286.0 L93.5,286.7 L93.7,287.5 L94.0,288.5 L94.2,289.0 L94.5,289.8 L94.8,290.5 L95.0,291.1 L95.3,292.0 L95.5,292.6 L95.8,293.5 L96.0,294.2 L96.2,295.0 L96.4,296.0 L96.5,296.5 L96.7,297.5 L96.9,298.5 L97.0,299.5 L97.0,300.0 L97.1,301.0 L97.2,302.0 L97.2,303.0 L97.2,304.0 L97.2,305.0 L97.1,306.0 L97.0,307.0 L97.0,307.5 L96.9,308.5 L96.8,309.5 L96.8,310.5 L96.8,311.5 L96.8,312.5 L96.9,313.5 L97.0,314.1 L97.2,315.0 L97.3,316.0 L97.3,317.0 L97.2,318.0 L97.0,318.9 L96.8,319.5 L96.5,320.1 L96.0,320.5 L95.0,320.7 L94.0,320.7 L93.0,320.8 L92.0,320.8 L91.0,320.9 L90.0,320.9 L89.0,320.9 L88.0,320.9 L87.0,320.9 L86.0,320.9 L85.0,320.9 L84.0,320.9 L83.0,320.9 L82.0,320.9 L81.0,320.9 L80.0,320.9 L79.0,320.9 L78.0,320.8 L77.0,320.8 L76.0,320.7 L75.0,320.6 L74.0,320.5 L73.7,320.0 L73.4,319.5 L73.1,318.5 L73.0,317.7 L73.0,317.0 L73.0,316.3 L73.1,315.5 L73.3,314.5 L73.5,313.5 L73.6,313.0 L73.7,312.0 L73.8,311.0 L73.8,310.0 L73.7,309.0 L73.7,308.0 L73.7,307.0 L73.7,306.0 L73.7,305.0 L73.7,304.0 L73.7,303.0 L73.7,302.0 L73.8,301.0 L73.9,300.0 L74.0,299.0 L74.0,298.5 L74.2,297.5 L74.4,296.5 L74.5,295.8 L74.7,295.0 L75.0,294.0 L75.1,293.5 L75.5,292.5 L75.6,292.0 L76.0,291.1 L76.3,290.5 L76.5,290.0 L77.0,289.1 L77.3,288.5 L77.6,288.0 L78.0,287.4 L78.5,286.5 L78.8,286.0 L79.0,285.5 L79.4,284.5 L79.6,284.0 L79.8,283.0 L79.9,282.0 L80.0,281.3 L80.1,280.5 L80.2,279.5 L80.3,278.5 L80.4,277.5 L80.5,276.9 L80.6,276.0 L80.8,275.0 L80.9,274.0 L80.9,273.0 L80.7,272.0 L80.5,271.1 L80.3,270.5 L80.0,269.8 L79.7,269.0 L79.4,268.5 L79.0,267.6 L78.8,267.0 L78.5,266.2 L78.3,265.5 L78.1,264.5 L78.1,263.5 L78.2,262.5 L78.4,261.5 L78.6,261.0 L79.0,260.3 L79.5,259.6 L80.0,259.0 L80.5,258.6 L81.0,258.3 L81.5,258.0 L82.5,257.5 L83.0,257.3 L84.0,257.0Z" fill="none" stroke="#808080" stroke-width="0.55" stroke-linejoin="round"/>
<path d="M84.8,258.5 L85.5,258.3 L86.5,258.2 L87.5,258.2 L88.5,258.2 L89.5,258.4 L90.0,258.5 L91.0,258.8 L91.5,259.1 L92.2,259.5 L92.9,260.0 L93.4,260.5 L93.9,261.0 L94.2,261.5 L94.5,262.0 L95.0,263.0 L95.1,263.5 L95.3,264.5 L95.4,265.5 L95.3,266.5 L95.0,267.5 L94.8,268.0 L94.5,268.7 L94.1,269.5 L93.8,270.0 L93.5,270.5 L93.0,271.4 L92.7,272.0 L92.5,272.5 L92.2,273.5 L92.1,274.5 L92.1,275.5 L92.1,276.5 L92.2,277.5 L92.2,278.5 L92.1,279.5 L92.0,280.4 L91.9,281.0 L91.7,282.0 L91.5,282.9 L91.4,283.5 L91.3,284.5 L91.4,285.5 L91.5,286.1 L91.8,287.0 L92.0,287.5 L92.4,288.5 L92.7,289.0 L93.0,289.7 L93.4,290.5 L93.6,291.0 L94.0,291.9 L94.2,292.5 L94.5,293.3 L94.8,294.0 L95.0,294.8 L95.2,295.5 L95.4,296.5 L95.5,297.0 L95.7,298.0 L95.9,299.0 L96.0,300.0 L96.0,300.5 L96.1,301.5 L96.1,302.5 L96.1,303.5 L96.1,304.5 L96.1,305.5 L96.0,306.3 L95.9,307.0 L95.8,308.0 L95.7,309.0 L95.6,310.0 L95.6,311.0 L95.6,312.0 L95.6,313.0 L95.8,314.0 L95.9,315.0 L96.0,315.5 L96.1,316.5 L96.1,317.5 L96.0,318.1 L95.7,319.0 L95.5,319.5 L95.0,320.4 L94.5,320.6 L93.5,320.7 L92.5,320.7 L91.5,320.8 L90.5,320.8 L89.5,320.8 L88.5,320.8 L87.5,320.9 L86.5,320.9 L85.5,320.9 L84.5,320.9 L83.5,320.9 L82.5,320.9 L81.5,320.8 L80.5,320.8 L79.5,320.8 L78.5,320.8 L77.5,320.7 L76.5,320.6 L75.5,320.5 L75.0,320.0 L74.7,319.5 L74.5,319.0 L74.2,318.0 L74.1,317.0 L74.2,316.0 L74.4,315.0 L74.5,314.3 L74.7,313.5 L74.8,312.5 L74.9,311.5 L75.0,310.5 L74.9,309.5 L74.9,308.5 L74.8,307.5 L74.8,306.5 L74.8,305.5 L74.8,304.5 L74.8,303.5 L74.8,302.5 L74.9,301.5 L74.9,300.5 L75.0,299.8 L75.1,299.0 L75.2,298.0 L75.4,297.0 L75.5,296.5 L75.8,295.5 L76.0,294.7 L76.2,294.0 L76.5,293.2 L76.8,292.5 L77.0,292.0 L77.5,291.0 L77.8,290.5 L78.0,290.0 L78.5,289.3 L79.0,288.5 L79.4,288.0 L79.7,287.5 L80.1,287.0 L80.5,286.4 L81.0,285.5 L81.2,285.0 L81.5,284.2 L81.7,283.5 L81.8,282.5 L81.9,281.5 L81.9,280.5 L81.9,279.5 L82.0,278.9 L82.1,278.0 L82.3,277.0 L82.5,276.0 L82.6,275.5 L82.8,274.5 L82.9,273.5 L82.9,272.5 L82.7,271.5 L82.5,271.0 L82.1,270.0 L81.9,269.5 L81.5,268.7 L81.1,268.0 L80.9,267.5 L80.5,266.5 L80.4,266.0 L80.1,265.0 L80.1,264.0 L80.1,263.0 L80.4,262.0 L80.6,261.5 L81.0,260.9 L81.5,260.3 L82.0,259.9 L82.5,259.5 L83.4,259.0 L84.0,258.7 L84.8,258.5Z M86.1,260.0 L87.0,259.8 L88.0,259.8 L89.0,259.9 L89.5,260.0 L90.5,260.4 L91.0,260.6 L91.6,261.0 L92.1,261.5 L92.6,262.0 L93.0,262.6 L93.4,263.5 L93.5,264.0 L93.7,265.0 L93.6,266.0 L93.5,266.5 L93.1,267.5 L92.8,268.0 L92.5,268.5 L92.0,269.2 L91.5,269.8 L91.0,270.3 L90.5,270.8 L90.0,271.3 L89.5,271.7 L89.0,272.2 L88.5,272.6 L88.0,273.1 L87.0,273.0 L86.6,272.5 L86.2,272.0 L85.8,271.5 L85.4,271.0 L85.0,270.5 L84.5,269.9 L84.0,269.2 L83.6,268.5 L83.3,268.0 L83.0,267.5 L82.5,266.5 L82.4,266.0 L82.2,265.0 L82.1,264.0 L82.3,263.0 L82.6,262.5 L83.0,261.8 L83.5,261.3 L84.0,260.9 L84.7,260.5 L85.5,260.2 L86.1,260.0Z M86.9,274.5 L87.5,274.2 L88.0,274.8 L88.4,275.5 L88.6,276.0 L89.0,277.0 L89.1,277.5 L89.2,278.5 L89.1,279.5 L89.0,280.1 L88.8,281.0 L88.5,281.9 L88.3,282.5 L88.1,283.5 L88.3,284.5 L88.5,285.1 L88.9,286.0 L89.3,286.5 L89.6,287.0 L90.0,287.6 L90.5,288.3 L91.0,289.0 L91.3,289.5 L91.7,290.0 L92.0,290.6 L92.5,291.5 L92.7,292.0 L93.0,292.6 L93.4,293.5 L93.6,294.0 L93.9,295.0 L94.1,295.5 L94.3,296.5 L94.5,297.2 L94.7,298.0 L94.8,299.0 L94.9,300.0 L95.0,300.6 L95.1,301.5 L95.1,302.5 L95.1,303.5 L95.1,304.5 L95.0,305.3 L94.9,306.0 L94.9,307.0 L94.7,308.0 L94.6,309.0 L94.5,309.9 L94.4,310.5 L94.4,311.5 L94.4,312.5 L94.5,313.5 L94.6,314.0 L94.8,315.0 L94.9,316.0 L94.9,317.0 L94.8,318.0 L94.5,319.0 L94.3,319.5 L93.9,320.0 L93.5,320.5 L92.5,320.6 L91.5,320.7 L90.5,320.7 L89.5,320.8 L88.5,320.8 L87.5,320.8 L86.5,320.8 L85.5,320.8 L84.5,320.8 L83.5,320.8 L82.5,320.8 L81.5,320.8 L80.5,320.8 L79.5,320.7 L78.5,320.7 L77.5,320.6 L76.7,320.5 L76.3,320.0 L76.0,319.5 L75.6,318.5 L75.4,318.0 L75.3,317.0 L75.4,316.0 L75.5,315.3 L75.7,314.5 L75.9,313.5 L76.0,312.8 L76.1,312.0 L76.1,311.0 L76.1,310.0 L76.1,309.0 L76.0,308.1 L76.0,307.5 L75.9,306.5 L75.9,305.5 L75.9,304.5 L75.9,303.5 L75.9,302.5 L76.0,301.5 L76.0,300.8 L76.1,300.0 L76.2,299.0 L76.3,298.0 L76.5,297.3 L76.7,296.5 L76.9,295.5 L77.1,295.0 L77.5,294.0 L77.7,293.5 L78.0,292.8 L78.4,292.0 L78.7,291.5 L79.0,291.0 L79.5,290.3 L80.0,289.7 L80.5,289.1 L81.0,288.5 L81.5,288.0 L81.9,287.5 L82.4,287.0 L82.9,286.5 L83.3,286.0 L83.8,285.5 L84.1,285.0 L84.5,284.4 L84.8,283.5 L84.9,282.5 L84.8,281.5 L84.7,280.5 L84.6,279.5 L84.7,278.5 L85.0,277.5 L85.2,277.0 L85.5,276.3 L86.0,275.5 L86.4,275.0 L86.9,274.5Z M86.2,262.5 L87.0,262.2 L88.0,262.0 L89.0,262.2 L89.7,262.5 L90.4,263.0 L90.8,263.5 L91.0,264.0 L91.2,265.0 L91.0,266.0 L90.7,266.5 L90.3,267.0 L89.7,267.5 L89.0,267.9 L88.5,268.0 L87.5,268.0 L87.0,267.9 L86.3,267.5 L85.7,267.0 L85.3,266.5 L85.0,265.9 L84.8,265.0 L84.9,264.0 L85.1,263.5 L85.5,263.0 L86.2,262.5Z M84.1,288.5 L85.0,288.2 L86.0,288.0 L87.0,288.2 L87.8,288.5 L88.5,288.9 L89.0,289.3 L89.5,289.8 L90.0,290.3 L90.5,290.9 L90.9,291.5 L91.3,292.0 L91.6,292.5 L92.0,293.4 L92.3,294.0 L92.5,294.6 L92.8,295.5 L93.0,296.0 L93.3,297.0 L93.5,297.9 L93.6,298.5 L93.8,299.5 L93.9,300.5 L94.0,301.5 L94.0,302.5 L94.0,303.5 L93.9,304.5 L93.9,305.5 L93.8,306.5 L93.6,307.5 L93.5,308.4 L93.4,309.0 L93.3,310.0 L93.1,311.0 L93.1,312.0 L93.2,313.0 L93.3,314.0 L93.5,315.0 L93.6,315.5 L93.7,316.5 L93.6,317.5 L93.5,318.2 L93.2,319.0 L92.9,319.5 L92.5,320.0 L92.0,320.5 L91.0,320.6 L90.0,320.6 L89.0,320.7 L88.0,320.7 L87.0,320.7 L86.0,320.7 L85.0,320.7 L84.0,320.7 L83.0,320.7 L82.0,320.7 L81.0,320.7 L80.0,320.6 L79.0,320.6 L78.3,320.5 L77.8,320.0 L77.4,319.5 L77.0,318.8 L76.7,318.0 L76.6,317.0 L76.7,316.0 L76.9,315.0 L77.0,314.4 L77.2,313.5 L77.4,312.5 L77.5,311.5 L77.4,310.5 L77.4,309.5 L77.3,308.5 L77.2,307.5 L77.1,306.5 L77.1,305.5 L77.1,304.5 L77.1,303.5 L77.1,302.5 L77.1,301.5 L77.2,300.5 L77.3,299.5 L77.4,298.5 L77.5,298.0 L77.8,297.0 L78.0,296.2 L78.2,295.5 L78.5,294.8 L78.9,294.0 L79.1,293.5 L79.5,292.9 L80.0,292.1 L80.5,291.5 L80.9,291.0 L81.4,290.5 L81.9,290.0 L82.5,289.5 L83.0,289.1 L83.5,288.8 L84.1,288.5Z M84.3,290.5 L85.0,290.3 L86.0,290.2 L87.0,290.3 L87.5,290.5 L88.4,291.0 L89.0,291.5 L89.5,292.0 L89.9,292.5 L90.3,293.0 L90.6,293.5 L91.0,294.2 L91.3,295.0 L91.6,295.5 L91.9,296.5 L92.1,297.0 L92.4,298.0 L92.5,298.6 L92.7,299.5 L92.8,300.5 L92.9,301.5 L92.9,302.5 L92.9,303.5 L92.8,304.5 L92.8,305.5 L92.6,306.5 L92.5,307.3 L92.4,308.0 L92.2,309.0 L92.0,310.0 L91.9,310.5 L91.8,311.5 L91.8,312.5 L91.9,313.5 L92.0,314.0 L92.2,315.0 L92.4,316.0 L92.4,317.0 L92.3,318.0 L92.0,318.7 L91.5,319.4 L91.0,319.9 L90.5,320.3 L90.0,320.5 L89.0,320.6 L88.0,320.6 L87.0,320.6 L86.0,320.7 L85.0,320.7 L84.0,320.7 L83.0,320.6 L82.0,320.6 L81.0,320.6 L80.0,320.5 L79.5,320.1 L79.0,319.7 L78.5,319.0 L78.2,318.5 L78.0,317.8 L77.9,317.0 L78.0,316.0 L78.1,315.5 L78.3,314.5 L78.5,313.9 L78.7,313.0 L78.8,312.0 L78.8,311.0 L78.7,310.0 L78.6,309.0 L78.5,308.2 L78.4,307.5 L78.3,306.5 L78.3,305.5 L78.2,304.5 L78.2,303.5 L78.2,302.5 L78.3,301.5 L78.3,300.5 L78.4,299.5 L78.5,299.0 L78.7,298.0 L79.0,297.0 L79.2,296.5 L79.5,295.6 L79.8,295.0 L80.0,294.5 L80.5,293.8 L81.0,293.1 L81.5,292.5 L82.0,292.0 L82.5,291.6 L83.0,291.2 L83.5,290.9 L84.3,290.5Z M84.0,292.5 L84.5,292.3 L85.5,292.1 L86.5,292.1 L87.5,292.5 L88.0,292.8 L88.5,293.2 L89.0,293.8 L89.5,294.4 L89.8,295.0 L90.1,295.5 L90.5,296.3 L90.8,297.0 L91.0,297.6 L91.3,298.5 L91.5,299.4 L91.6,300.0 L91.8,301.0 L91.8,302.0 L91.8,303.0 L91.8,304.0 L91.7,305.0 L91.6,306.0 L91.5,306.5 L91.3,307.5 L91.0,308.5 L90.9,309.0 L90.6,310.0 L90.5,310.6 L90.4,311.5 L90.4,312.5 L90.5,313.3 L90.7,314.0 L90.9,315.0 L91.0,315.5 L91.2,316.5 L91.1,317.5 L90.9,318.0 L90.5,318.7 L90.0,319.3 L89.5,319.7 L89.0,320.0 L88.0,320.5 L87.5,320.5 L86.5,320.5 L85.5,320.6 L84.5,320.6 L83.5,320.6 L82.5,320.5 L82.0,320.5 L81.1,320.0 L80.5,319.6 L80.0,319.0 L79.6,318.5 L79.4,318.0 L79.2,317.0 L79.3,316.0 L79.5,315.3 L79.8,314.5 L80.0,313.9 L80.3,313.0 L80.4,312.0 L80.4,311.0 L80.2,310.0 L80.0,309.0 L79.9,308.5 L79.7,307.5 L79.6,306.5 L79.5,305.5 L79.5,304.7 L79.5,304.0 L79.4,303.0 L79.4,302.0 L79.4,301.0 L79.5,300.3 L79.6,299.5 L79.8,298.5 L80.0,297.7 L80.3,297.0 L80.5,296.4 L81.0,295.5 L81.3,295.0 L81.6,294.5 L82.0,294.0 L82.5,293.5 L83.2,293.0 L84.0,292.5Z M84.6,294.0 L85.5,293.8 L86.5,294.0 L87.0,294.2 L87.5,294.5 L88.0,295.0 L88.5,295.5 L89.0,296.3 L89.4,297.0 L89.6,297.5 L90.0,298.3 L90.2,299.0 L90.5,300.0 L90.6,300.5 L90.7,301.5 L90.8,302.5 L90.8,303.5 L90.7,304.5 L90.5,305.5 L90.4,306.0 L90.2,307.0 L90.0,307.7 L89.7,308.5 L89.5,309.1 L89.1,310.0 L89.0,310.5 L88.8,311.5 L88.8,312.5 L89.0,313.2 L89.2,314.0 L89.5,314.7 L89.7,315.5 L89.9,316.5 L89.7,317.5 L89.5,318.0 L89.0,318.7 L88.5,319.1 L87.9,319.5 L87.0,319.9 L86.5,320.0 L85.5,320.2 L84.5,320.2 L83.5,320.1 L83.0,319.9 L82.2,319.5 L81.5,319.0 L81.0,318.5 L80.8,318.0 L80.5,317.0 L80.7,316.0 L81.0,315.1 L81.3,314.5 L81.5,314.0 L81.9,313.0 L82.0,312.5 L82.1,311.5 L82.0,310.9 L81.8,310.0 L81.5,309.1 L81.3,308.5 L81.1,307.5 L81.0,307.0 L80.9,306.0 L80.7,305.0 L80.7,304.0 L80.6,303.0 L80.5,302.0 L80.6,301.0 L80.6,300.0 L80.8,299.0 L81.0,298.3 L81.3,297.5 L81.5,297.0 L82.0,296.1 L82.5,295.5 L83.0,295.0 L83.5,294.6 L84.0,294.2 L84.6,294.0Z M84.9,295.5 L85.5,295.4 L86.0,295.5 L87.0,296.0 L87.5,296.5 L88.0,297.0 L88.3,297.5 L88.6,298.0 L89.0,298.8 L89.3,299.5 L89.5,300.2 L89.7,301.0 L89.8,302.0 L89.8,303.0 L89.8,304.0 L89.6,305.0 L89.5,305.6 L89.2,306.5 L89.0,307.1 L88.6,308.0 L88.3,308.5 L88.0,309.0 L87.5,309.8 L87.1,310.5 L86.9,311.0 L86.7,312.0 L87.0,312.7 L87.4,313.5 L87.7,314.0 L88.0,314.5 L88.4,315.5 L88.6,316.0 L88.6,317.0 L88.4,317.5 L88.0,318.1 L87.5,318.6 L86.7,319.0 L86.0,319.2 L85.0,319.4 L84.0,319.2 L83.3,319.0 L82.5,318.5 L82.1,318.0 L81.9,317.5 L81.8,316.5 L82.0,315.9 L82.4,315.0 L82.8,314.5 L83.1,314.0 L83.5,313.4 L84.0,312.6 L84.2,312.0 L84.1,311.0 L83.9,310.5 L83.5,309.8 L83.1,309.0 L82.8,308.5 L82.5,307.7 L82.3,307.0 L82.1,306.0 L82.0,305.5 L81.8,304.5 L81.7,303.5 L81.6,302.5 L81.5,301.5 L81.6,300.5 L81.7,299.5 L82.0,298.6 L82.2,298.0 L82.5,297.5 L83.0,296.8 L83.5,296.2 L84.0,295.9 L84.9,295.5Z M84.6,297.0 L85.5,296.9 L86.0,297.0 L86.8,297.5 L87.3,298.0 L87.7,298.5 L88.0,299.0 L88.5,299.9 L88.7,300.5 L88.9,301.5 L89.0,302.2 L89.0,303.0 L89.0,303.5 L88.9,304.5 L88.6,305.5 L88.4,306.0 L88.0,306.8 L87.5,307.5 L87.1,308.0 L86.5,308.4 L86.0,308.6 L85.0,308.6 L84.5,308.3 L84.0,307.7 L83.6,307.0 L83.4,306.5 L83.0,305.5 L82.9,305.0 L82.7,304.0 L82.5,303.0 L82.5,302.5 L82.4,301.5 L82.5,300.5 L82.5,300.0 L82.8,299.0 L83.1,298.5 L83.5,297.8 L84.0,297.3 L84.6,297.0Z M84.9,314.5 L85.5,314.4 L86.0,314.5 L86.7,315.0 L87.1,315.5 L87.4,316.5 L87.1,317.5 L86.6,318.0 L86.0,318.3 L85.0,318.5 L84.0,318.3 L83.5,318.0 L83.0,317.0 L83.0,316.9 L83.2,316.0 L83.6,315.5 L84.0,315.0 L84.9,314.5Z" fill="none" stroke="#3c3c3c" stroke-width="0.55" stroke-linejoin="round"/>
<path d="M75,321 Q85,315.5 96,321 Z" fill="#111"/>
</g>
<g id="gates">
<rect x="74.3" y="43.6" width="43.2" height="73.9" fill="none" stroke="#6a6a6a" stroke-width="0.7"/>
<line x1="74.3" y1="77.9" x2="117.5" y2="77.9" stroke="#151515" stroke-width="1.15"/>
<line x1="117.5" y1="59.5" x2="132" y2="59.5" stroke="#111" stroke-width="1.0"/>
<polygon points="138.4,59.5 131.3,57.0 131.3,62.0" fill="#111"/>
<text x="101.3" y="37.4" font-family='"Liberation Serif", serif' font-size="10.5" text-anchor="start" font-weight="normal" letter-spacing="0.35" fill="#111" stroke="#111" stroke-width="0.25" >B1a</text>
<text x="203.2" y="37.4" font-family='"Liberation Serif", serif' font-size="10.5" letter-spacing="0.35" fill="#111" stroke="#111" stroke-width="0.25">B1a<tspan font-family='"Liberation Sans", sans-serif' font-size="7" dy="-3.4" letter-spacing="-1.0" stroke-width="0.1">23+</tspan></text>
<rect x="75.5" y="147" width="37.0" height="72.5" fill="none" stroke="#6a6a6a" stroke-width="0.7"/>
<line x1="75.5" y1="179" x2="112.5" y2="179" stroke="#151515" stroke-width="1.15"/>
<line x1="112.5" y1="160.5" x2="132" y2="160.5" stroke="#111" stroke-width="1.0"/>
<polygon points="138.4,160.5 131.3,158.0 131.3,163.0" fill="#111"/>
<text x="101.3" y="139.4" font-family='"Liberation Serif", serif' font-size="10.5" text-anchor="start" font-weight="normal" letter-spacing="0.35" fill="#111" stroke="#111" stroke-width="0.25" >B1b</text>
<text x="203.2" y="139.4" font-family='"Liberation Serif", serif' font-size="10.5" letter-spacing="0.35" fill="#111" stroke="#111" stroke-width="0.25">B1b<tspan font-family='"Liberation Sans", sans-serif' font-size="7" dy="-3.4" letter-spacing="-1.0" stroke-width="0.1">23+</tspan></text>
<rect x="67.5" y="252" width="40.5" height="69.5" fill="none" stroke="#6a6a6a" stroke-width="0.7"/>
<line x1="67.5" y1="281" x2="108" y2="281" stroke="#151515" stroke-width="1.15"/>
<line x1="108" y1="268.5" x2="132" y2="268.5" stroke="#111" stroke-width="1.0"/>
<polygon points="138.4,268.5 131.3,266.0 131.3,271.0" fill="#111"/>
<text x="101.3" y="241.4" font-family='"Liberation Serif", serif' font-size="10.5" text-anchor="start" font-weight="normal" letter-spacing="0.35" fill="#111" stroke="#111" stroke-width="0.25" >B1c</text>
<text x="203.2" y="241.4" font-family='"Liberation Serif", serif' font-size="10.5" letter-spacing="0.35" fill="#111" stroke="#111" stroke-width="0.25">B1c<tspan font-family='"Liberation Sans", sans-serif' font-size="7" dy="-3.4" letter-spacing="-1.0" stroke-width="0.1">23+</tspan></text>
</g>
<polyline points="155.38,116.15 155.38,110.38 157.31,110.38 157.31,98.85 159.23,98.85 159.23,94.04 161.54,94.04 161.54,86.35 164.62,86.35 164.62,91.15 165.96,91.15 165.96,86.35 166.92,86.35 166.92,79.62 169.81,79.62 169.81,76.73 172.31,76.73 172.31,73.85 174.62,73.85 174.62,66.15 176.92,66.15 176.92,61.35 178.46,61.35 178.46,71.92 180.00,71.92 180.00,61.35 180.77,61.35 180.77,54.62 183.46,54.62 183.46,66.15 184.62,66.15 184.62,77.69 186.15,77.69 186.15,89.23 187.50,89.23 187.50,100.77 189.04,100.77 189.04,105.58 191.54,105.58 191.54,98.85 194.62,98.85 194.62,106.54 196.15,106.54 196.15,112.31 197.69,112.31 197.69,116.15" fill="none" stroke="#a4a4a4" stroke-width="0.9" stroke-linejoin="round"/>
<polyline points="183.85,116.15 183.85,110.38 186.15,110.38 186.15,106.54 189.04,106.54 189.04,103.65 191.54,103.65 191.54,96.92 193.85,96.92 193.85,91.15 195.77,91.15 195.77,83.46 197.31,83.46 197.31,75.77 198.65,75.77 198.65,66.15 200.00,66.15 200.00,58.46 203.08,58.46 203.08,70.00 204.42,70.00 204.42,76.73 207.31,76.73 207.31,70.96 209.62,70.96 209.62,77.69 210.77,77.69 210.77,89.23 212.12,89.23 212.12,99.81 216.54,99.81 216.54,87.31 218.46,87.31 218.46,82.50 221.15,82.50 221.15,91.15 222.31,91.15 222.31,102.69 224.23,102.69 224.23,112.31 225.77,112.31 225.77,116.15" fill="none" stroke="#666666" stroke-width="1.0" stroke-linejoin="round"/>
<polyline points="145.50,219.50 147.50,215.00 149.50,205.00 151.00,185.00 152.50,165.00 154.00,160.00 156.00,151.25 157.50,150.00 159.00,156.25 160.50,166.25 162.00,171.25 163.50,167.50 165.00,172.50 166.50,170.00 168.00,177.50 169.50,181.25 171.00,185.00 172.50,180.00 174.00,187.50 175.00,190.00 177.00,182.50 178.50,177.50 179.50,170.00 181.00,176.25 182.50,170.00 184.00,177.50 185.50,185.00 187.50,190.00 189.50,195.00 191.50,202.50 193.50,208.75 195.50,212.50 198.00,215.00 200.50,216.25 205.00,217.00 207.50,217.50 212.50,216.25 216.25,217.50 218.75,219.50" fill="none" stroke="#a4a4a4" stroke-width="0.9" stroke-linejoin="round"/>
<polyline points="145.50,219.50 148.00,215.00 150.50,210.00 152.50,203.75 154.50,202.50 156.50,204.50 158.50,203.00 160.00,207.50 162.50,210.00 165.00,212.00 167.50,211.25 170.00,212.00 172.50,213.00 175.00,211.25 177.50,212.50 179.50,208.75 181.50,205.00 183.50,203.75 185.50,204.50 187.50,200.00 189.50,195.00 191.50,190.00 193.00,188.75 194.50,183.75 196.00,177.50 197.50,170.00 199.00,162.50 200.00,158.75 201.50,160.00 202.50,166.25 203.50,157.50 204.50,158.75 205.50,167.50 207.00,172.50 208.50,176.25 210.00,185.00 211.50,195.00 213.00,205.00 214.50,212.50 216.50,217.50 218.00,219.50" fill="none" stroke="#666666" stroke-width="1.0" stroke-linejoin="round"/>
<polyline points="148.00,321.25 149.50,315.00 151.00,302.50 152.50,287.50 154.00,275.00 156.00,267.50 157.50,263.75 159.00,258.75 160.50,263.75 162.00,268.75 163.50,275.00 165.00,280.00 166.50,282.50 168.00,281.25 170.00,282.00 171.50,280.50 173.50,281.25 175.50,280.50 177.50,281.25 180.00,282.00 181.50,286.25 183.00,285.00 184.50,290.00 186.00,295.00 187.50,300.00 189.00,306.25 190.50,311.25 192.50,315.00 194.50,317.50 197.50,318.00 200.00,317.50 205.00,318.00 207.50,321.25" fill="none" stroke="#a4a4a4" stroke-width="0.9" stroke-linejoin="round"/>
<polyline points="161.25,321.25 162.00,321.25 162.00,318.75 163.75,318.75 163.75,316.25 167.50,316.25 167.50,315.00 171.25,315.00 171.25,313.75 173.75,313.75 173.75,310.00 176.25,310.00 176.25,306.25 178.75,306.25 178.75,302.50 181.25,302.50 181.25,298.75 183.00,298.75 183.00,295.00 185.00,295.00 185.00,292.50 187.00,292.50 187.00,290.00 189.00,290.00 189.00,286.25 191.00,286.25 191.00,282.50 192.50,282.50 192.50,277.50 194.00,277.50 194.00,273.75 195.50,273.75 195.50,268.75 197.00,268.75 197.00,265.00 198.50,265.00 198.50,266.25 200.00,266.25 200.00,271.25 201.50,271.25 201.50,263.75 203.00,263.75 203.00,261.25 204.50,261.25 204.50,265.00 206.00,265.00 206.00,273.75 207.50,273.75 207.50,272.50 209.00,272.50 209.00,277.50 210.50,277.50 210.50,287.50 212.00,287.50 212.00,297.50 213.50,297.50 213.50,307.50 215.00,307.50 215.00,313.75 217.00,313.75 217.00,318.75 219.00,318.75 219.00,321.25" fill="none" stroke="#666666" stroke-width="1.0" stroke-linejoin="round"/>
<text x="158.3" y="68.4" font-family='"Liberation Serif", serif' font-size="10" text-anchor="start" font-weight="normal" letter-spacing="0" fill="#111" stroke="#111" stroke-width="0.25" >KO</text>
<text x="211.3" y="68.4" font-family='"Liberation Serif", serif' font-size="10" text-anchor="start" font-weight="normal" letter-spacing="0" fill="#111" stroke="#111" stroke-width="0.25" >WT</text>
<text x="164.7" y="161.2" font-family='"Liberation Serif", serif' font-size="10" text-anchor="start" font-weight="normal" letter-spacing="0" fill="#111" stroke="#111" stroke-width="0.25" >KO</text>
<text x="208.6" y="161.2" font-family='"Liberation Serif", serif' font-size="10" text-anchor="start" font-weight="normal" letter-spacing="0" fill="#111" stroke="#111" stroke-width="0.25" >WT</text>
<text x="164.7" y="270.2" font-family='"Liberation Serif", serif' font-size="10" text-anchor="start" font-weight="normal" letter-spacing="0" fill="#111" stroke="#111" stroke-width="0.25" >KO</text>
<text x="209.6" y="270.2" font-family='"Liberation Serif", serif' font-size="10" text-anchor="start" font-weight="normal" letter-spacing="0" fill="#111" stroke="#111" stroke-width="0.25" >WT</text>
<text x="58.5" y="335" font-family='"Liberation Serif", serif' font-size="11.5" text-anchor="start" font-weight="normal" letter-spacing="0.2" fill="#111" stroke="#111" stroke-width="0.25" >CD19</text>
<text x="158.5" y="335.5" font-family='"Liberation Serif", serif' font-size="11.5" letter-spacing="0.4" fill="#111" stroke="#111" stroke-width="0.25">CCL2<tspan stroke-width="0.05" font-size="7.5" dy="-4" letter-spacing="0">AF647</tspan></text>
<g id="panelB">
<text x="257.6" y="14.4" font-family='"Liberation Sans", sans-serif' font-size="13.4" text-anchor="start" font-weight="bold" letter-spacing="0" fill="#000" stroke="#000" stroke-width="0" >B</text>
<line x1="299.5" y1="24" x2="299.5" y2="122.5" stroke="#4a4a4a" stroke-width="0.9"/>
<line x1="299.5" y1="122.5" x2="394.8" y2="122.5" stroke="#4a4a4a" stroke-width="0.9"/>
<line x1="296.0" y1="43" x2="299.5" y2="43" stroke="#4a4a4a" stroke-width="0.9"/>
<text x="294.8" y="46.8" font-family='"Liberation Serif", serif' font-size="11" text-anchor="end" font-weight="normal" letter-spacing="0" fill="#111" stroke="#111" stroke-width="0.25" >20</text>
<line x1="296.0" y1="83" x2="299.5" y2="83" stroke="#4a4a4a" stroke-width="0.9"/>
<text x="294.8" y="86.8" font-family='"Liberation Serif", serif' font-size="11" text-anchor="end" font-weight="normal" letter-spacing="0" fill="#111" stroke="#111" stroke-width="0.25" >10</text>
<line x1="296.0" y1="122.5" x2="299.5" y2="122.5" stroke="#4a4a4a" stroke-width="0.9"/>
<text x="294.8" y="126.3" font-family='"Liberation Serif", serif' font-size="11" text-anchor="end" font-weight="normal" letter-spacing="0" fill="#111" stroke="#111" stroke-width="0.25" >0</text>
<line x1="297.3" y1="24" x2="299.5" y2="24" stroke="#4a4a4a" stroke-width="0.8"/>
<line x1="297.3" y1="63" x2="299.5" y2="63" stroke="#4a4a4a" stroke-width="0.8"/>
<line x1="297.3" y1="103" x2="299.5" y2="103" stroke="#4a4a4a" stroke-width="0.8"/>
<line x1="307.25" y1="68" x2="307.25" y2="74.5" stroke="#333" stroke-width="0.9"/>
<line x1="304.65" y1="68" x2="309.85" y2="68" stroke="#333" stroke-width="0.9"/>
<rect x="302" y="74.5" width="10.5" height="48.0" fill="#fff" stroke="#444" stroke-width="0.9"/>
<line x1="307.25" y1="122.5" x2="307.25" y2="125.0" stroke="#333" stroke-width="0.8"/>
<line x1="322.75" y1="45" x2="322.75" y2="53" stroke="#333" stroke-width="0.9"/>
<line x1="320.15" y1="45" x2="325.35" y2="45" stroke="#333" stroke-width="0.9"/>
<rect x="317.5" y="53" width="10.5" height="69.5" fill="#8c8c8c" stroke="#444" stroke-width="0.9"/>
<line x1="322.75" y1="122.5" x2="322.75" y2="125.0" stroke="#333" stroke-width="0.8"/>
<line x1="338.5" y1="110" x2="338.5" y2="112.5" stroke="#333" stroke-width="0.9"/>
<line x1="335.9" y1="110" x2="341.1" y2="110" stroke="#333" stroke-width="0.9"/>
<rect x="333" y="112.5" width="11" height="10.0" fill="#fff" stroke="#444" stroke-width="0.9"/>
<line x1="338.5" y1="122.5" x2="338.5" y2="125.0" stroke="#333" stroke-width="0.8"/>
<line x1="354.75" y1="105.5" x2="354.75" y2="108" stroke="#333" stroke-width="0.9"/>
<line x1="352.15" y1="105.5" x2="357.35" y2="105.5" stroke="#333" stroke-width="0.9"/>
<rect x="349.5" y="108" width="10.5" height="14.5" fill="#8c8c8c" stroke="#444" stroke-width="0.9"/>
<line x1="354.75" y1="122.5" x2="354.75" y2="125.0" stroke="#333" stroke-width="0.8"/>
<line x1="370.5" y1="71" x2="370.5" y2="78" stroke="#333" stroke-width="0.9"/>
<line x1="367.9" y1="71" x2="373.1" y2="71" stroke="#333" stroke-width="0.9"/>
<rect x="365" y="78" width="11" height="44.5" fill="#fff" stroke="#444" stroke-width="0.9"/>
<line x1="370.5" y1="122.5" x2="370.5" y2="125.0" stroke="#333" stroke-width="0.8"/>
<line x1="387.3" y1="36.5" x2="387.3" y2="45.5" stroke="#333" stroke-width="0.9"/>
<line x1="384.7" y1="36.5" x2="389.90000000000003" y2="36.5" stroke="#333" stroke-width="0.9"/>
<rect x="381.8" y="45.5" width="11.0" height="77.0" fill="#8c8c8c" stroke="#444" stroke-width="0.9"/>
<line x1="387.3" y1="122.5" x2="387.3" y2="125.0" stroke="#333" stroke-width="0.8"/>
<text x="390.5" y="29.5" font-family='"Liberation Serif", serif' font-size="11.5" text-anchor="end" font-weight="normal" letter-spacing="0" fill="#111" stroke="#111" stroke-width="0.25" >CD43</text>
<line x1="414.25" y1="24" x2="414.25" y2="122.5" stroke="#4a4a4a" stroke-width="0.9"/>
<line x1="414.25" y1="122.5" x2="511" y2="122.5" stroke="#4a4a4a" stroke-width="0.9"/>
<line x1="410.75" y1="43.75" x2="414.25" y2="43.75" stroke="#4a4a4a" stroke-width="0.9"/>
<text x="410.75" y="47.55" font-family='"Liberation Serif", serif' font-size="11" text-anchor="end" font-weight="normal" letter-spacing="0" fill="#111" stroke="#111" stroke-width="0.25" >2</text>
<line x1="410.75" y1="83" x2="414.25" y2="83" stroke="#4a4a4a" stroke-width="0.9"/>
<text x="410.75" y="86.8" font-family='"Liberation Serif", serif' font-size="11" text-anchor="end" font-weight="normal" letter-spacing="0" fill="#111" stroke="#111" stroke-width="0.25" >1</text>
<line x1="410.75" y1="122.5" x2="414.25" y2="122.5" stroke="#4a4a4a" stroke-width="0.9"/>
<text x="410.75" y="126.3" font-family='"Liberation Serif", serif' font-size="11" text-anchor="end" font-weight="normal" letter-spacing="0" fill="#111" stroke="#111" stroke-width="0.25" >0</text>
<line x1="412.05" y1="24" x2="414.25" y2="24" stroke="#4a4a4a" stroke-width="0.8"/>
<line x1="412.05" y1="63.75" x2="414.25" y2="63.75" stroke="#4a4a4a" stroke-width="0.8"/>
<line x1="412.05" y1="103" x2="414.25" y2="103" stroke="#4a4a4a" stroke-width="0.8"/>
<line x1="422.75" y1="33" x2="422.75" y2="48" stroke="#333" stroke-width="0.9"/>
<line x1="420.15" y1="33" x2="425.35" y2="33" stroke="#333" stroke-width="0.9"/>
<rect x="417.5" y="48" width="10.5" height="74.5" fill="#fff" stroke="#444" stroke-width="0.9"/>
<line x1="422.75" y1="122.5" x2="422.75" y2="125.0" stroke="#333" stroke-width="0.8"/>
<line x1="438.5" y1="60" x2="438.5" y2="69" stroke="#333" stroke-width="0.9"/>
<line x1="435.9" y1="60" x2="441.1" y2="60" stroke="#333" stroke-width="0.9"/>
<rect x="433" y="69" width="11" height="53.5" fill="#8c8c8c" stroke="#444" stroke-width="0.9"/>
<line x1="438.5" y1="122.5" x2="438.5" y2="125.0" stroke="#333" stroke-width="0.8"/>
<line x1="454.75" y1="115.3" x2="454.75" y2="116" stroke="#333" stroke-width="0.9"/>
<line x1="452.15" y1="115.3" x2="457.35" y2="115.3" stroke="#333" stroke-width="0.9"/>
<rect x="449" y="116" width="11.5" height="6.5" fill="#fff" stroke="#444" stroke-width="0.9"/>
<line x1="454.75" y1="122.5" x2="454.75" y2="125.0" stroke="#333" stroke-width="0.8"/>
<line x1="470.5" y1="111" x2="470.5" y2="112" stroke="#333" stroke-width="0.9"/>
<line x1="467.9" y1="111" x2="473.1" y2="111" stroke="#333" stroke-width="0.9"/>
<rect x="465" y="112" width="11" height="10.5" fill="#8c8c8c" stroke="#444" stroke-width="0.9"/>
<line x1="470.5" y1="122.5" x2="470.5" y2="125.0" stroke="#333" stroke-width="0.8"/>
<line x1="487.0" y1="102" x2="487.0" y2="106" stroke="#333" stroke-width="0.9"/>
<line x1="484.4" y1="102" x2="489.6" y2="102" stroke="#333" stroke-width="0.9"/>
<rect x="481" y="106" width="12" height="16.5" fill="#fff" stroke="#444" stroke-width="0.9"/>
<line x1="487.0" y1="122.5" x2="487.0" y2="125.0" stroke="#333" stroke-width="0.8"/>
<line x1="503.5" y1="68" x2="503.5" y2="77.5" stroke="#333" stroke-width="0.9"/>
<line x1="500.9" y1="68" x2="506.1" y2="68" stroke="#333" stroke-width="0.9"/>
<rect x="498" y="77.5" width="11" height="45.0" fill="#8c8c8c" stroke="#444" stroke-width="0.9"/>
<line x1="503.5" y1="122.5" x2="503.5" y2="125.0" stroke="#333" stroke-width="0.8"/>
<text x="506" y="29.5" font-family='"Liberation Serif", serif' font-size="11.5" text-anchor="end" font-weight="normal" letter-spacing="0" fill="#111" stroke="#111" stroke-width="0.25" >CD9</text>
<line x1="298.5" y1="143" x2="298.5" y2="241.75" stroke="#4a4a4a" stroke-width="0.9"/>
<line x1="298.5" y1="241.75" x2="394" y2="241.75" stroke="#4a4a4a" stroke-width="0.9"/>
<line x1="295.0" y1="154" x2="298.5" y2="154" stroke="#4a4a4a" stroke-width="0.9"/>
<text x="293.8" y="157.8" font-family='"Liberation Serif", serif' font-size="11" text-anchor="end" font-weight="normal" letter-spacing="0" fill="#111" stroke="#111" stroke-width="0.25" >0.8</text>
<line x1="295.0" y1="176" x2="298.5" y2="176" stroke="#4a4a4a" stroke-width="0.9"/>
<text x="293.8" y="179.8" font-family='"Liberation Serif", serif' font-size="11" text-anchor="end" font-weight="normal" letter-spacing="0" fill="#111" stroke="#111" stroke-width="0.25" >0.6</text>
<line x1="295.0" y1="198" x2="298.5" y2="198" stroke="#4a4a4a" stroke-width="0.9"/>
<text x="293.8" y="201.8" font-family='"Liberation Serif", serif' font-size="11" text-anchor="end" font-weight="normal" letter-spacing="0" fill="#111" stroke="#111" stroke-width="0.25" >0.4</text>
<line x1="295.0" y1="220" x2="298.5" y2="220" stroke="#4a4a4a" stroke-width="0.9"/>
<text x="293.8" y="223.8" font-family='"Liberation Serif", serif' font-size="11" text-anchor="end" font-weight="normal" letter-spacing="0" fill="#111" stroke="#111" stroke-width="0.25" >0.2</text>
<line x1="295.0" y1="241.75" x2="298.5" y2="241.75" stroke="#4a4a4a" stroke-width="0.9"/>
<text x="293.8" y="245.55" font-family='"Liberation Serif", serif' font-size="11" text-anchor="end" font-weight="normal" letter-spacing="0" fill="#111" stroke="#111" stroke-width="0.25" >0</text>
<line x1="296.3" y1="143" x2="298.5" y2="143" stroke="#4a4a4a" stroke-width="0.8"/>
<line x1="296.3" y1="165" x2="298.5" y2="165" stroke="#4a4a4a" stroke-width="0.8"/>
<line x1="296.3" y1="187" x2="298.5" y2="187" stroke="#4a4a4a" stroke-width="0.8"/>
<line x1="296.3" y1="209" x2="298.5" y2="209" stroke="#4a4a4a" stroke-width="0.8"/>
<line x1="296.3" y1="231" x2="298.5" y2="231" stroke="#4a4a4a" stroke-width="0.8"/>
<line x1="306.5" y1="143.3" x2="306.5" y2="143.75" stroke="#333" stroke-width="0.9"/>
<line x1="303.9" y1="143.3" x2="309.1" y2="143.3" stroke="#333" stroke-width="0.9"/>
<rect x="301" y="143.75" width="11" height="98.0" fill="#fff" stroke="#444" stroke-width="0.9"/>
<line x1="306.5" y1="241.75" x2="306.5" y2="244.25" stroke="#333" stroke-width="0.8"/>
<line x1="322.75" y1="164" x2="322.75" y2="164.5" stroke="#333" stroke-width="0.9"/>
<line x1="320.15" y1="164" x2="325.35" y2="164" stroke="#333" stroke-width="0.9"/>
<rect x="317.5" y="164.5" width="10.5" height="77.25" fill="#8c8c8c" stroke="#444" stroke-width="0.9"/>
<line x1="322.75" y1="241.75" x2="322.75" y2="244.25" stroke="#333" stroke-width="0.8"/>
<line x1="338.5" y1="174.5" x2="338.5" y2="178" stroke="#333" stroke-width="0.9"/>
<line x1="335.9" y1="174.5" x2="341.1" y2="174.5" stroke="#333" stroke-width="0.9"/>
<rect x="333" y="178" width="11" height="63.75" fill="#fff" stroke="#444" stroke-width="0.9"/>
<line x1="338.5" y1="241.75" x2="338.5" y2="244.25" stroke="#333" stroke-width="0.8"/>
<line x1="354.5" y1="150.5" x2="354.5" y2="155.5" stroke="#333" stroke-width="0.9"/>
<line x1="351.9" y1="150.5" x2="357.1" y2="150.5" stroke="#333" stroke-width="0.9"/>
<rect x="349" y="155.5" width="11" height="86.25" fill="#8c8c8c" stroke="#444" stroke-width="0.9"/>
<line x1="354.5" y1="241.75" x2="354.5" y2="244.25" stroke="#333" stroke-width="0.8"/>
<line x1="370.5" y1="192.5" x2="370.5" y2="195.75" stroke="#333" stroke-width="0.9"/>
<line x1="367.9" y1="192.5" x2="373.1" y2="192.5" stroke="#333" stroke-width="0.9"/>
<rect x="365" y="195.75" width="11" height="46.0" fill="#fff" stroke="#444" stroke-width="0.9"/>
<line x1="370.5" y1="241.75" x2="370.5" y2="244.25" stroke="#333" stroke-width="0.8"/>
<line x1="386.5" y1="186" x2="386.5" y2="190" stroke="#333" stroke-width="0.9"/>
<line x1="383.9" y1="186" x2="389.1" y2="186" stroke="#333" stroke-width="0.9"/>
<rect x="381" y="190" width="11" height="51.75" fill="#8c8c8c" stroke="#444" stroke-width="0.9"/>
<line x1="386.5" y1="241.75" x2="386.5" y2="244.25" stroke="#333" stroke-width="0.8"/>
<text x="393.5" y="152.5" font-family='"Liberation Serif", serif' font-size="11.5" text-anchor="end" font-weight="normal" letter-spacing="0" fill="#111" stroke="#111" stroke-width="0.25" >IgM</text>
<line x1="415" y1="143" x2="415" y2="241.75" stroke="#4a4a4a" stroke-width="0.9"/>
<line x1="415" y1="241.75" x2="510.75" y2="241.75" stroke="#4a4a4a" stroke-width="0.9"/>
<line x1="411.5" y1="162.5" x2="415" y2="162.5" stroke="#4a4a4a" stroke-width="0.9"/>
<text x="411.5" y="166.3" font-family='"Liberation Serif", serif' font-size="11" text-anchor="end" font-weight="normal" letter-spacing="0" fill="#111" stroke="#111" stroke-width="0.25" >20</text>
<line x1="411.5" y1="202" x2="415" y2="202" stroke="#4a4a4a" stroke-width="0.9"/>
<text x="411.5" y="205.8" font-family='"Liberation Serif", serif' font-size="11" text-anchor="end" font-weight="normal" letter-spacing="0" fill="#111" stroke="#111" stroke-width="0.25" >10</text>
<line x1="411.5" y1="241.75" x2="415" y2="241.75" stroke="#4a4a4a" stroke-width="0.9"/>
<text x="411.5" y="245.55" font-family='"Liberation Serif", serif' font-size="11" text-anchor="end" font-weight="normal" letter-spacing="0" fill="#111" stroke="#111" stroke-width="0.25" >0</text>
<line x1="412.8" y1="143" x2="415" y2="143" stroke="#4a4a4a" stroke-width="0.8"/>
<line x1="412.8" y1="182" x2="415" y2="182" stroke="#4a4a4a" stroke-width="0.8"/>
<line x1="412.8" y1="222" x2="415" y2="222" stroke="#4a4a4a" stroke-width="0.8"/>
<line x1="423.375" y1="148.75" x2="423.375" y2="162" stroke="#333" stroke-width="0.9"/>
<line x1="420.775" y1="148.75" x2="425.975" y2="148.75" stroke="#333" stroke-width="0.9"/>
<rect x="418" y="162" width="10.75" height="79.75" fill="#fff" stroke="#444" stroke-width="0.9"/>
<line x1="423.375" y1="241.75" x2="423.375" y2="244.25" stroke="#333" stroke-width="0.8"/>
<line x1="439.125" y1="235" x2="439.125" y2="236" stroke="#333" stroke-width="0.9"/>
<line x1="436.525" y1="235" x2="441.725" y2="235" stroke="#333" stroke-width="0.9"/>
<rect x="433.75" y="236" width="10.75" height="5.75" fill="#8c8c8c" stroke="#444" stroke-width="0.9"/>
<line x1="439.125" y1="241.75" x2="439.125" y2="244.25" stroke="#333" stroke-width="0.8"/>
<line x1="455.375" y1="149" x2="455.375" y2="161" stroke="#333" stroke-width="0.9"/>
<line x1="452.775" y1="149" x2="457.975" y2="149" stroke="#333" stroke-width="0.9"/>
<rect x="450" y="161" width="10.75" height="80.75" fill="#fff" stroke="#444" stroke-width="0.9"/>
<line x1="455.375" y1="241.75" x2="455.375" y2="244.25" stroke="#333" stroke-width="0.8"/>
<line x1="470.75" y1="224.5" x2="470.75" y2="226" stroke="#333" stroke-width="0.9"/>
<line x1="468.15" y1="224.5" x2="473.35" y2="224.5" stroke="#333" stroke-width="0.9"/>
<rect x="465.5" y="226" width="10.5" height="15.75" fill="#8c8c8c" stroke="#444" stroke-width="0.9"/>
<line x1="470.75" y1="241.75" x2="470.75" y2="244.25" stroke="#333" stroke-width="0.8"/>
<line x1="487.125" y1="191" x2="487.125" y2="200.75" stroke="#333" stroke-width="0.9"/>
<line x1="484.525" y1="191" x2="489.725" y2="191" stroke="#333" stroke-width="0.9"/>
<rect x="481.75" y="200.75" width="10.75" height="41.0" fill="#fff" stroke="#444" stroke-width="0.9"/>
<line x1="487.125" y1="241.75" x2="487.125" y2="244.25" stroke="#333" stroke-width="0.8"/>
<line x1="503.375" y1="236" x2="503.375" y2="237" stroke="#333" stroke-width="0.9"/>
<line x1="500.775" y1="236" x2="505.975" y2="236" stroke="#333" stroke-width="0.9"/>
<rect x="498" y="237" width="10.75" height="4.75" fill="#8c8c8c" stroke="#444" stroke-width="0.9"/>
<line x1="503.375" y1="241.75" x2="503.375" y2="244.25" stroke="#333" stroke-width="0.8"/>
<text x="506" y="152.7" font-family='"Liberation Serif", serif' font-size="11.5" text-anchor="end" font-weight="normal" letter-spacing="0" fill="#111" stroke="#111" stroke-width="0.25" >B220</text>
<line x1="298.75" y1="260" x2="298.75" y2="358.25" stroke="#4a4a4a" stroke-width="0.9"/>
<line x1="298.75" y1="358.25" x2="397" y2="358.25" stroke="#4a4a4a" stroke-width="0.9"/>
<line x1="295.25" y1="280" x2="298.75" y2="280" stroke="#4a4a4a" stroke-width="0.9"/>
<text x="294.05" y="283.8" font-family='"Liberation Serif", serif' font-size="11" text-anchor="end" font-weight="normal" letter-spacing="0" fill="#111" stroke="#111" stroke-width="0.25" >2</text>
<line x1="295.25" y1="319.25" x2="298.75" y2="319.25" stroke="#4a4a4a" stroke-width="0.9"/>
<text x="294.05" y="323.05" font-family='"Liberation Serif", serif' font-size="11" text-anchor="end" font-weight="normal" letter-spacing="0" fill="#111" stroke="#111" stroke-width="0.25" >1</text>
<line x1="295.25" y1="358.25" x2="298.75" y2="358.25" stroke="#4a4a4a" stroke-width="0.9"/>
<text x="294.05" y="362.05" font-family='"Liberation Serif", serif' font-size="11" text-anchor="end" font-weight="normal" letter-spacing="0" fill="#111" stroke="#111" stroke-width="0.25" >0</text>
<line x1="296.55" y1="260" x2="298.75" y2="260" stroke="#4a4a4a" stroke-width="0.8"/>
<line x1="296.55" y1="299.5" x2="298.75" y2="299.5" stroke="#4a4a4a" stroke-width="0.8"/>
<line x1="296.55" y1="339" x2="298.75" y2="339" stroke="#4a4a4a" stroke-width="0.8"/>
<line x1="306.5" y1="287.5" x2="306.5" y2="295.5" stroke="#333" stroke-width="0.9"/>
<line x1="303.9" y1="287.5" x2="309.1" y2="287.5" stroke="#333" stroke-width="0.9"/>
<rect x="301" y="295.5" width="11" height="62.75" fill="#fff" stroke="#444" stroke-width="0.9"/>
<line x1="306.5" y1="358.25" x2="306.5" y2="360.75" stroke="#333" stroke-width="0.8"/>
<line x1="323.125" y1="352.6" x2="323.125" y2="353" stroke="#333" stroke-width="0.9"/>
<line x1="320.525" y1="352.6" x2="325.725" y2="352.6" stroke="#333" stroke-width="0.9"/>
<rect x="317.5" y="353" width="11.25" height="5.25" fill="#8c8c8c" stroke="#444" stroke-width="0.9"/>
<line x1="323.125" y1="358.25" x2="323.125" y2="360.75" stroke="#333" stroke-width="0.8"/>
<line x1="339.75" y1="268" x2="339.75" y2="282.5" stroke="#333" stroke-width="0.9"/>
<line x1="337.15" y1="268" x2="342.35" y2="268" stroke="#333" stroke-width="0.9"/>
<rect x="334" y="282.5" width="11.5" height="75.75" fill="#fff" stroke="#444" stroke-width="0.9"/>
<line x1="339.75" y1="358.25" x2="339.75" y2="360.75" stroke="#333" stroke-width="0.8"/>
<line x1="356.125" y1="347.3" x2="356.125" y2="348" stroke="#333" stroke-width="0.9"/>
<line x1="353.525" y1="347.3" x2="358.725" y2="347.3" stroke="#333" stroke-width="0.9"/>
<rect x="350.5" y="348" width="11.25" height="10.25" fill="#8c8c8c" stroke="#444" stroke-width="0.9"/>
<line x1="356.125" y1="358.25" x2="356.125" y2="360.75" stroke="#333" stroke-width="0.8"/>
<line x1="372.5" y1="321" x2="372.5" y2="328" stroke="#333" stroke-width="0.9"/>
<line x1="369.9" y1="321" x2="375.1" y2="321" stroke="#333" stroke-width="0.9"/>
<rect x="367" y="328" width="11" height="30.25" fill="#fff" stroke="#444" stroke-width="0.9"/>
<line x1="372.5" y1="358.25" x2="372.5" y2="360.75" stroke="#333" stroke-width="0.8"/>
<line x1="389.375" y1="354" x2="389.375" y2="354.5" stroke="#333" stroke-width="0.9"/>
<line x1="386.775" y1="354" x2="391.975" y2="354" stroke="#333" stroke-width="0.9"/>
<rect x="383.75" y="354.5" width="11.25" height="3.75" fill="#8c8c8c" stroke="#444" stroke-width="0.9"/>
<line x1="389.375" y1="358.25" x2="389.375" y2="360.75" stroke="#333" stroke-width="0.8"/>
<text x="390.5" y="268.75" font-family='"Liberation Serif", serif' font-size="11.5" text-anchor="end" font-weight="normal" letter-spacing="0" fill="#111" stroke="#111" stroke-width="0.25" >CD21</text>
<line x1="414.25" y1="260" x2="414.25" y2="358.25" stroke="#4a4a4a" stroke-width="0.9"/>
<line x1="414.25" y1="358.25" x2="510.75" y2="358.25" stroke="#4a4a4a" stroke-width="0.9"/>
<line x1="410.75" y1="260" x2="414.25" y2="260" stroke="#4a4a4a" stroke-width="0.9"/>
<text x="410.75" y="263.8" font-family='"Liberation Serif", serif' font-size="11" text-anchor="end" font-weight="normal" letter-spacing="0" fill="#111" stroke="#111" stroke-width="0.25" >5</text>
<line x1="410.75" y1="280" x2="414.25" y2="280" stroke="#4a4a4a" stroke-width="0.9"/>
<text x="410.75" y="283.8" font-family='"Liberation Serif", serif' font-size="11" text-anchor="end" font-weight="normal" letter-spacing="0" fill="#111" stroke="#111" stroke-width="0.25" >4</text>
<line x1="410.75" y1="299.5" x2="414.25" y2="299.5" stroke="#4a4a4a" stroke-width="0.9"/>
<text x="410.75" y="303.3" font-family='"Liberation Serif", serif' font-size="11" text-anchor="end" font-weight="normal" letter-spacing="0" fill="#111" stroke="#111" stroke-width="0.25" >3</text>
<line x1="410.75" y1="319.25" x2="414.25" y2="319.25" stroke="#4a4a4a" stroke-width="0.9"/>
<text x="410.75" y="323.05" font-family='"Liberation Serif", serif' font-size="11" text-anchor="end" font-weight="normal" letter-spacing="0" fill="#111" stroke="#111" stroke-width="0.25" >2</text>
<line x1="410.75" y1="339" x2="414.25" y2="339" stroke="#4a4a4a" stroke-width="0.9"/>
<text x="410.75" y="342.8" font-family='"Liberation Serif", serif' font-size="11" text-anchor="end" font-weight="normal" letter-spacing="0" fill="#111" stroke="#111" stroke-width="0.25" >1</text>
<line x1="410.75" y1="358.25" x2="414.25" y2="358.25" stroke="#4a4a4a" stroke-width="0.9"/>
<text x="410.75" y="362.05" font-family='"Liberation Serif", serif' font-size="11" text-anchor="end" font-weight="normal" letter-spacing="0" fill="#111" stroke="#111" stroke-width="0.25" >0</text>
<line x1="422.875" y1="320.5" x2="422.875" y2="323.75" stroke="#333" stroke-width="0.9"/>
<line x1="420.275" y1="320.5" x2="425.475" y2="320.5" stroke="#333" stroke-width="0.9"/>
<rect x="417" y="323.75" width="11.75" height="34.5" fill="#fff" stroke="#444" stroke-width="0.9"/>
<line x1="422.875" y1="358.25" x2="422.875" y2="360.75" stroke="#333" stroke-width="0.8"/>
<line x1="439.125" y1="352.5" x2="439.125" y2="353" stroke="#333" stroke-width="0.9"/>
<line x1="436.525" y1="352.5" x2="441.725" y2="352.5" stroke="#333" stroke-width="0.9"/>
<rect x="433.75" y="353" width="10.75" height="5.25" fill="#8c8c8c" stroke="#444" stroke-width="0.9"/>
<line x1="439.125" y1="358.25" x2="439.125" y2="360.75" stroke="#333" stroke-width="0.8"/>
<line x1="455.5" y1="267.5" x2="455.5" y2="275.5" stroke="#333" stroke-width="0.9"/>
<line x1="452.9" y1="267.5" x2="458.1" y2="267.5" stroke="#333" stroke-width="0.9"/>
<rect x="450" y="275.5" width="11" height="82.75" fill="#fff" stroke="#444" stroke-width="0.9"/>
<line x1="455.5" y1="358.25" x2="455.5" y2="360.75" stroke="#333" stroke-width="0.8"/>
<line x1="471.75" y1="349" x2="471.75" y2="349.5" stroke="#333" stroke-width="0.9"/>
<line x1="469.15" y1="349" x2="474.35" y2="349" stroke="#333" stroke-width="0.9"/>
<rect x="466" y="349.5" width="11.5" height="8.75" fill="#8c8c8c" stroke="#444" stroke-width="0.9"/>
<line x1="471.75" y1="358.25" x2="471.75" y2="360.75" stroke="#333" stroke-width="0.8"/>
<line x1="487.75" y1="310.5" x2="487.75" y2="316" stroke="#333" stroke-width="0.9"/>
<line x1="485.15" y1="310.5" x2="490.35" y2="310.5" stroke="#333" stroke-width="0.9"/>
<rect x="482.5" y="316" width="10.5" height="42.25" fill="#fff" stroke="#444" stroke-width="0.9"/>
<line x1="487.75" y1="358.25" x2="487.75" y2="360.75" stroke="#333" stroke-width="0.8"/>
<line x1="503.375" y1="350.5" x2="503.375" y2="351" stroke="#333" stroke-width="0.9"/>
<line x1="500.775" y1="350.5" x2="505.975" y2="350.5" stroke="#333" stroke-width="0.9"/>
<rect x="498" y="351" width="10.75" height="7.25" fill="#8c8c8c" stroke="#444" stroke-width="0.9"/>
<line x1="503.375" y1="358.25" x2="503.375" y2="360.75" stroke="#333" stroke-width="0.8"/>
<text x="506.5" y="268.75" font-family='"Liberation Serif", serif' font-size="11.5" text-anchor="end" font-weight="normal" letter-spacing="0" fill="#111" stroke="#111" stroke-width="0.25" >IgD</text>
<text transform="translate(275.5,74.8) rotate(-90)" font-family='"Liberation Serif", serif' font-size="11.8" text-anchor="middle" fill="#111" stroke="#111" stroke-width="0.25">MFI (x10<tspan font-size="7.5" dy="-3.6">3</tspan><tspan dy="3.6">)</tspan></text>
<text transform="translate(275.7,192.6) rotate(-90)" font-family='"Liberation Serif", serif' font-size="11.8" text-anchor="middle" fill="#111" stroke="#111" stroke-width="0.25">MFI (x10<tspan font-size="7.5" dy="-3.6">3</tspan><tspan dy="3.6">)</tspan></text>
<text transform="translate(276.3,311.5) rotate(-90)" font-family='"Liberation Serif", serif' font-size="11.8" text-anchor="middle" fill="#111" stroke="#111" stroke-width="0.25">MFI (x10<tspan font-size="7.5" dy="-3.6">3</tspan><tspan dy="3.6">)</tspan></text>
<text x="272" y="376.2" font-family='"Liberation Serif", serif' font-size="9.5" text-anchor="start" font-weight="normal" letter-spacing="-0.1" fill="#111" stroke="#111" stroke-width="0.1" >CD23</text>
<text x="306.5" y="376.2" font-family='"Liberation Sans", sans-serif' font-size="12" text-anchor="middle" font-weight="normal" letter-spacing="0" fill="#333" stroke="#333" stroke-width="0" >+</text>
<text x="322.5" y="376.2" font-family='"Liberation Sans", sans-serif' font-size="12" text-anchor="middle" font-weight="normal" letter-spacing="0" fill="#333" stroke="#333" stroke-width="0" >-</text>
<text x="339.5" y="376.2" font-family='"Liberation Sans", sans-serif' font-size="12" text-anchor="middle" font-weight="normal" letter-spacing="0" fill="#333" stroke="#333" stroke-width="0" >+</text>
<text x="356" y="376.2" font-family='"Liberation Sans", sans-serif' font-size="12" text-anchor="middle" font-weight="normal" letter-spacing="0" fill="#333" stroke="#333" stroke-width="0" >-</text>
<text x="372.5" y="376.2" font-family='"Liberation Sans", sans-serif' font-size="12" text-anchor="middle" font-weight="normal" letter-spacing="0" fill="#333" stroke="#333" stroke-width="0" >+</text>
<text x="389" y="376.2" font-family='"Liberation Sans", sans-serif' font-size="12" text-anchor="middle" font-weight="normal" letter-spacing="0" fill="#333" stroke="#333" stroke-width="0" >-</text>
<line x1="303.0" y1="382.75" x2="325.0" y2="382.75" stroke="#444" stroke-width="0.9"/>
<text x="315.2" y="396.7" font-family='"Liberation Serif", serif' font-size="11.2" text-anchor="middle" font-weight="normal" letter-spacing="0.5" fill="#111" stroke="#111" stroke-width="0.25" >B1a</text>
<line x1="336.0" y1="382.75" x2="358.5" y2="382.75" stroke="#444" stroke-width="0.9"/>
<text x="348.45" y="396.7" font-family='"Liberation Serif", serif' font-size="11.2" text-anchor="middle" font-weight="normal" letter-spacing="0.5" fill="#111" stroke="#111" stroke-width="0.25" >B1b</text>
<line x1="369.0" y1="382.75" x2="391.5" y2="382.75" stroke="#444" stroke-width="0.9"/>
<text x="381.45" y="396.7" font-family='"Liberation Serif", serif' font-size="11.2" text-anchor="middle" font-weight="normal" letter-spacing="0.5" fill="#111" stroke="#111" stroke-width="0.25" >B1c</text>
<text x="422.7" y="376.2" font-family='"Liberation Sans", sans-serif' font-size="12" text-anchor="middle" font-weight="normal" letter-spacing="0" fill="#333" stroke="#333" stroke-width="0" >+</text>
<text x="439" y="376.2" font-family='"Liberation Sans", sans-serif' font-size="12" text-anchor="middle" font-weight="normal" letter-spacing="0" fill="#333" stroke="#333" stroke-width="0" >-</text>
<text x="455.5" y="376.2" font-family='"Liberation Sans", sans-serif' font-size="12" text-anchor="middle" font-weight="normal" letter-spacing="0" fill="#333" stroke="#333" stroke-width="0" >+</text>
<text x="471.7" y="376.2" font-family='"Liberation Sans", sans-serif' font-size="12" text-anchor="middle" font-weight="normal" letter-spacing="0" fill="#333" stroke="#333" stroke-width="0" >-</text>
<text x="487.7" y="376.2" font-family='"Liberation Sans", sans-serif' font-size="12" text-anchor="middle" font-weight="normal" letter-spacing="0" fill="#333" stroke="#333" stroke-width="0" >+</text>
<text x="503.5" y="376.2" font-family='"Liberation Sans", sans-serif' font-size="12" text-anchor="middle" font-weight="normal" letter-spacing="0" fill="#333" stroke="#333" stroke-width="0" >-</text>
<line x1="419.2" y1="382.75" x2="441.5" y2="382.75" stroke="#444" stroke-width="0.9"/>
<text x="431.55" y="396.7" font-family='"Liberation Serif", serif' font-size="11.2" text-anchor="middle" font-weight="normal" letter-spacing="0.5" fill="#111" stroke="#111" stroke-width="0.25" >B1a</text>
<line x1="452.0" y1="382.75" x2="474.2" y2="382.75" stroke="#444" stroke-width="0.9"/>
<text x="464.3" y="396.7" font-family='"Liberation Serif", serif' font-size="11.2" text-anchor="middle" font-weight="normal" letter-spacing="0.5" fill="#111" stroke="#111" stroke-width="0.25" >B1b</text>
<line x1="484.2" y1="382.75" x2="506.0" y2="382.75" stroke="#444" stroke-width="0.9"/>
<text x="496.3" y="396.7" font-family='"Liberation Serif", serif' font-size="11.2" text-anchor="middle" font-weight="normal" letter-spacing="0.5" fill="#111" stroke="#111" stroke-width="0.25" >B1c</text>
</g>
<g id="panelC">
<text x="4.0" y="366.7" font-family='"Liberation Sans", sans-serif' font-size="13.4" text-anchor="start" font-weight="bold" letter-spacing="0" fill="#000" stroke="#000" stroke-width="0" >C</text>
<rect x="46.7" y="375.2" width="79.8" height="85.40000000000003" fill="none" stroke="#a4a4a4" stroke-width="0.9"/>
<rect x="133" y="375.2" width="79.3" height="85.40000000000003" fill="none" stroke="#a4a4a4" stroke-width="0.9"/>
<text x="42.3" y="378.5" font-family='"Liberation Sans", sans-serif' font-size="8" text-anchor="end" fill="#2a2a2a" textLength="10.2" lengthAdjust="spacingAndGlyphs">100</text>
<text x="42.3" y="395.58" font-family='"Liberation Sans", sans-serif' font-size="8" text-anchor="end" fill="#2a2a2a" textLength="6.8" lengthAdjust="spacingAndGlyphs">80</text>
<line x1="46.25" y1="392.28" x2="47.8" y2="392.28" stroke="#999" stroke-width="0.6"/>
<line x1="132.5" y1="392.28" x2="134" y2="392.28" stroke="#999" stroke-width="0.6"/>
<text x="42.3" y="412.66" font-family='"Liberation Sans", sans-serif' font-size="8" text-anchor="end" fill="#2a2a2a" textLength="6.8" lengthAdjust="spacingAndGlyphs">60</text>
<line x1="46.25" y1="409.36" x2="47.8" y2="409.36" stroke="#999" stroke-width="0.6"/>
<line x1="132.5" y1="409.36" x2="134" y2="409.36" stroke="#999" stroke-width="0.6"/>
<text x="42.3" y="429.74" font-family='"Liberation Sans", sans-serif' font-size="8" text-anchor="end" fill="#2a2a2a" textLength="6.8" lengthAdjust="spacingAndGlyphs">40</text>
<line x1="46.25" y1="426.44" x2="47.8" y2="426.44" stroke="#999" stroke-width="0.6"/>
<line x1="132.5" y1="426.44" x2="134" y2="426.44" stroke="#999" stroke-width="0.6"/>
<text x="42.3" y="446.82" font-family='"Liberation Sans", sans-serif' font-size="8" text-anchor="end" fill="#2a2a2a" textLength="6.8" lengthAdjust="spacingAndGlyphs">20</text>
<line x1="46.25" y1="443.52" x2="47.8" y2="443.52" stroke="#999" stroke-width="0.6"/>
<line x1="132.5" y1="443.52" x2="134" y2="443.52" stroke="#999" stroke-width="0.6"/>
<text x="42.3" y="463.90000000000003" font-family='"Liberation Sans", sans-serif' font-size="8" text-anchor="end" fill="#2a2a2a" textLength="3.4" lengthAdjust="spacingAndGlyphs">0</text>
<line x1="66.25" y1="460.6" x2="66.25" y2="461.8" stroke="#999" stroke-width="0.6"/>
<line x1="152.5" y1="460.6" x2="152.5" y2="461.8" stroke="#999" stroke-width="0.6"/>
<line x1="86.25" y1="460.6" x2="86.25" y2="461.8" stroke="#999" stroke-width="0.6"/>
<line x1="172.5" y1="460.6" x2="172.5" y2="461.8" stroke="#999" stroke-width="0.6"/>
<line x1="106.25" y1="460.6" x2="106.25" y2="461.8" stroke="#999" stroke-width="0.6"/>
<line x1="192.5" y1="460.6" x2="192.5" y2="461.8" stroke="#999" stroke-width="0.6"/>
<line x1="46.7" y1="460.40000000000003" x2="126.5" y2="460.40000000000003" stroke="#858585" stroke-width="1.0"/>
<line x1="133" y1="460.40000000000003" x2="212.3" y2="460.40000000000003" stroke="#858585" stroke-width="1.0"/>
<text transform="translate(28.3,416.9) rotate(-90)" font-family='"Liberation Serif", serif' font-size="11.5" text-anchor="middle" letter-spacing="0.2" fill="#111" stroke="#111" stroke-width="0.25">% of max.</text>
<text x="217.8" y="388.7" font-family='"Liberation Serif", serif' font-size="11.2" text-anchor="start" font-weight="normal" letter-spacing="0.9" fill="#111" stroke="#111" stroke-width="0.25" >B1a</text>
<rect x="46.7" y="469.6" width="79.8" height="85.39999999999998" fill="none" stroke="#a4a4a4" stroke-width="0.9"/>
<rect x="133" y="469.6" width="79.3" height="85.39999999999998" fill="none" stroke="#a4a4a4" stroke-width="0.9"/>
<text x="42.3" y="472.90000000000003" font-family='"Liberation Sans", sans-serif' font-size="8" text-anchor="end" fill="#2a2a2a" textLength="10.2" lengthAdjust="spacingAndGlyphs">100</text>
<text x="42.3" y="489.98" font-family='"Liberation Sans", sans-serif' font-size="8" text-anchor="end" fill="#2a2a2a" textLength="6.8" lengthAdjust="spacingAndGlyphs">80</text>
<line x1="46.25" y1="486.68" x2="47.8" y2="486.68" stroke="#999" stroke-width="0.6"/>
<line x1="132.5" y1="486.68" x2="134" y2="486.68" stroke="#999" stroke-width="0.6"/>
<text x="42.3" y="507.06" font-family='"Liberation Sans", sans-serif' font-size="8" text-anchor="end" fill="#2a2a2a" textLength="6.8" lengthAdjust="spacingAndGlyphs">60</text>
<line x1="46.25" y1="503.76" x2="47.8" y2="503.76" stroke="#999" stroke-width="0.6"/>
<line x1="132.5" y1="503.76" x2="134" y2="503.76" stroke="#999" stroke-width="0.6"/>
<text x="42.3" y="524.14" font-family='"Liberation Sans", sans-serif' font-size="8" text-anchor="end" fill="#2a2a2a" textLength="6.8" lengthAdjust="spacingAndGlyphs">40</text>
<line x1="46.25" y1="520.84" x2="47.8" y2="520.84" stroke="#999" stroke-width="0.6"/>
<line x1="132.5" y1="520.84" x2="134" y2="520.84" stroke="#999" stroke-width="0.6"/>
<text x="42.3" y="541.2199999999999" font-family='"Liberation Sans", sans-serif' font-size="8" text-anchor="end" fill="#2a2a2a" textLength="6.8" lengthAdjust="spacingAndGlyphs">20</text>
<line x1="46.25" y1="537.92" x2="47.8" y2="537.92" stroke="#999" stroke-width="0.6"/>
<line x1="132.5" y1="537.92" x2="134" y2="537.92" stroke="#999" stroke-width="0.6"/>
<text x="42.3" y="558.3" font-family='"Liberation Sans", sans-serif' font-size="8" text-anchor="end" fill="#2a2a2a" textLength="3.4" lengthAdjust="spacingAndGlyphs">0</text>
<line x1="66.25" y1="555" x2="66.25" y2="556.2" stroke="#999" stroke-width="0.6"/>
<line x1="152.5" y1="555" x2="152.5" y2="556.2" stroke="#999" stroke-width="0.6"/>
<line x1="86.25" y1="555" x2="86.25" y2="556.2" stroke="#999" stroke-width="0.6"/>
<line x1="172.5" y1="555" x2="172.5" y2="556.2" stroke="#999" stroke-width="0.6"/>
<line x1="106.25" y1="555" x2="106.25" y2="556.2" stroke="#999" stroke-width="0.6"/>
<line x1="192.5" y1="555" x2="192.5" y2="556.2" stroke="#999" stroke-width="0.6"/>
<line x1="46.7" y1="554.8" x2="126.5" y2="554.8" stroke="#858585" stroke-width="1.0"/>
<line x1="133" y1="554.8" x2="212.3" y2="554.8" stroke="#858585" stroke-width="1.0"/>
<text transform="translate(28.3,511.29999999999995) rotate(-90)" font-family='"Liberation Serif", serif' font-size="11.5" text-anchor="middle" letter-spacing="0.2" fill="#111" stroke="#111" stroke-width="0.25">% of max.</text>
<text x="217.8" y="483.1" font-family='"Liberation Serif", serif' font-size="11.2" text-anchor="start" font-weight="normal" letter-spacing="0.9" fill="#111" stroke="#111" stroke-width="0.25" >B1b</text>
<rect x="46.7" y="564.2" width="79.8" height="85.0" fill="none" stroke="#a4a4a4" stroke-width="0.9"/>
<rect x="133" y="564.2" width="79.3" height="85.0" fill="none" stroke="#a4a4a4" stroke-width="0.9"/>
<text x="42.3" y="567.5" font-family='"Liberation Sans", sans-serif' font-size="8" text-anchor="end" fill="#2a2a2a" textLength="10.2" lengthAdjust="spacingAndGlyphs">100</text>
<text x="42.3" y="584.5" font-family='"Liberation Sans", sans-serif' font-size="8" text-anchor="end" fill="#2a2a2a" textLength="6.8" lengthAdjust="spacingAndGlyphs">80</text>
<line x1="46.25" y1="581.2" x2="47.8" y2="581.2" stroke="#999" stroke-width="0.6"/>
<line x1="132.5" y1="581.2" x2="134" y2="581.2" stroke="#999" stroke-width="0.6"/>
<text x="42.3" y="601.5" font-family='"Liberation Sans", sans-serif' font-size="8" text-anchor="end" fill="#2a2a2a" textLength="6.8" lengthAdjust="spacingAndGlyphs">60</text>
<line x1="46.25" y1="598.2" x2="47.8" y2="598.2" stroke="#999" stroke-width="0.6"/>
<line x1="132.5" y1="598.2" x2="134" y2="598.2" stroke="#999" stroke-width="0.6"/>
<text x="42.3" y="618.5" font-family='"Liberation Sans", sans-serif' font-size="8" text-anchor="end" fill="#2a2a2a" textLength="6.8" lengthAdjust="spacingAndGlyphs">40</text>
<line x1="46.25" y1="615.2" x2="47.8" y2="615.2" stroke="#999" stroke-width="0.6"/>
<line x1="132.5" y1="615.2" x2="134" y2="615.2" stroke="#999" stroke-width="0.6"/>
<text x="42.3" y="635.5" font-family='"Liberation Sans", sans-serif' font-size="8" text-anchor="end" fill="#2a2a2a" textLength="6.8" lengthAdjust="spacingAndGlyphs">20</text>
<line x1="46.25" y1="632.2" x2="47.8" y2="632.2" stroke="#999" stroke-width="0.6"/>
<line x1="132.5" y1="632.2" x2="134" y2="632.2" stroke="#999" stroke-width="0.6"/>
<text x="42.3" y="652.5" font-family='"Liberation Sans", sans-serif' font-size="8" text-anchor="end" fill="#2a2a2a" textLength="3.4" lengthAdjust="spacingAndGlyphs">0</text>
<line x1="66.25" y1="649.2" x2="66.25" y2="650.4000000000001" stroke="#999" stroke-width="0.6"/>
<line x1="152.5" y1="649.2" x2="152.5" y2="650.4000000000001" stroke="#999" stroke-width="0.6"/>
<line x1="86.25" y1="649.2" x2="86.25" y2="650.4000000000001" stroke="#999" stroke-width="0.6"/>
<line x1="172.5" y1="649.2" x2="172.5" y2="650.4000000000001" stroke="#999" stroke-width="0.6"/>
<line x1="106.25" y1="649.2" x2="106.25" y2="650.4000000000001" stroke="#999" stroke-width="0.6"/>
<line x1="192.5" y1="649.2" x2="192.5" y2="650.4000000000001" stroke="#999" stroke-width="0.6"/>
<line x1="46.7" y1="649.0" x2="126.5" y2="649.0" stroke="#858585" stroke-width="1.0"/>
<line x1="133" y1="649.0" x2="212.3" y2="649.0" stroke="#858585" stroke-width="1.0"/>
<text transform="translate(28.3,605.7) rotate(-90)" font-family='"Liberation Serif", serif' font-size="11.5" text-anchor="middle" letter-spacing="0.2" fill="#111" stroke="#111" stroke-width="0.25">% of max.</text>
<text x="217.8" y="577.7" font-family='"Liberation Serif", serif' font-size="11.2" text-anchor="start" font-weight="normal" letter-spacing="0.9" fill="#111" stroke="#111" stroke-width="0.25" >B1c</text>
<text x="86" y="664.5" font-family='"Liberation Serif", serif' font-size="11.5" text-anchor="middle" font-weight="normal" letter-spacing="0.2" fill="#111" stroke="#111" stroke-width="0.25" >FSC</text>
<text x="173.5" y="664.5" font-family='"Liberation Serif", serif' font-size="11.5" text-anchor="middle" font-weight="normal" letter-spacing="0.2" fill="#111" stroke="#111" stroke-width="0.25" >CD19</text>
<polyline points="80.83,460.50 83.25,459.29 85.33,455.83 87.06,449.78 88.79,441.12 90.52,429.01 92.25,415.17 93.98,403.06 95.71,392.68 97.09,389.22 98.48,381.44 99.52,387.49 100.55,394.41 101.94,402.20 103.15,408.25 104.01,422.09 104.88,441.12 105.74,453.24 106.78,460.50" fill="none" stroke="#919191" stroke-width="0.9" stroke-linejoin="round"/>
<polyline points="80.83,460.50 81.52,460.50 81.52,452.89 86.37,452.89 87.06,448.04 88.44,439.39 89.83,430.74 90.87,422.09 91.56,420.36 91.90,428.15 92.42,421.23 92.94,427.28 93.63,420.36 101.94,420.36 102.63,434.20 103.67,446.31 104.71,454.97 105.74,460.50" fill="none" stroke="#747474" stroke-width="0.9" stroke-linejoin="round"/>
<line x1="110.93425605536332" y1="395.79584775086505" x2="102.62975778546712" y2="407.38754325259515" stroke="#111" stroke-width="1.0"/>
<line x1="87.05882352941177" y1="412.5778546712803" x2="94.49826989619376" y2="420.363321799308" stroke="#111" stroke-width="1.0"/>
<text x="107.1280276816609" y="392.3356401384083" font-family='"Liberation Serif", serif' font-size="10" text-anchor="start" font-weight="normal" letter-spacing="0" fill="#111" stroke="#111" stroke-width="0.25" >23-</text>
<text x="70.27681660899654" y="413.0968858131488" font-family='"Liberation Serif", serif' font-size="10" text-anchor="start" font-weight="normal" letter-spacing="0" fill="#111" stroke="#111" stroke-width="0.25" >23+</text>
<polyline points="168.75,461.25 171.25,455.00 173.00,445.00 174.50,430.00 176.00,412.50 177.00,395.00 178.00,383.75 179.00,395.00 180.00,412.50 181.25,432.50 182.50,447.50 184.00,456.25 186.25,460.00 188.75,461.25" fill="none" stroke="#919191" stroke-width="0.9" stroke-linejoin="round"/>
<polyline points="168.75,461.25 171.25,456.25 173.00,447.50 174.50,435.00 176.00,420.00 177.50,410.00 178.50,408.75 179.50,417.50 181.00,435.00 182.50,450.00 184.00,457.50 185.50,461.25" fill="none" stroke="#747474" stroke-width="0.9" stroke-linejoin="round"/>
<line x1="187.0" y1="393.75" x2="180.0" y2="401.25" stroke="#111" stroke-width="1.0"/>
<line x1="170.0" y1="402.0" x2="178.0" y2="410.0" stroke="#111" stroke-width="1.0"/>
<text x="187.5" y="390.5" font-family='"Liberation Serif", serif' font-size="10" text-anchor="start" font-weight="normal" letter-spacing="0" fill="#111" stroke="#111" stroke-width="0.25" >23-</text>
<text x="153.0" y="400.0" font-family='"Liberation Serif", serif' font-size="10" text-anchor="start" font-weight="normal" letter-spacing="0" fill="#111" stroke="#111" stroke-width="0.25" >23+</text>
<polyline points="71.25,555.00 75.00,550.00 78.00,542.50 80.50,532.50 83.00,520.00 85.50,507.50 87.50,500.00 89.00,501.25 90.50,492.50 92.50,486.25 94.50,485.00 96.00,481.25 97.50,483.75 99.00,488.75 100.50,497.50 102.00,507.50 103.50,522.50 104.50,537.50 105.50,547.50 107.00,555.00" fill="none" stroke="#919191" stroke-width="0.9" stroke-linejoin="round"/>
<polyline points="70.00,555.00 73.75,551.25 76.25,545.00 78.75,535.00 80.50,522.50 82.50,505.00 84.00,492.50 85.50,485.00 87.50,484.50 88.75,490.00 90.00,500.00 91.50,510.00 93.00,520.00 95.00,530.00 97.50,540.00 100.00,547.50 103.00,552.50 106.25,555.00" fill="none" stroke="#747474" stroke-width="0.9" stroke-linejoin="round"/>
<line x1="107.5" y1="486.25" x2="100.0" y2="492.5" stroke="#111" stroke-width="1.0"/>
<line x1="76.25" y1="492.5" x2="83.75" y2="501.25" stroke="#111" stroke-width="1.0"/>
<text x="104.5" y="481.25" font-family='"Liberation Serif", serif' font-size="10" text-anchor="start" font-weight="normal" letter-spacing="0" fill="#111" stroke="#111" stroke-width="0.25" >23-</text>
<text x="58.0" y="490.75" font-family='"Liberation Serif", serif' font-size="10" text-anchor="start" font-weight="normal" letter-spacing="0" fill="#111" stroke="#111" stroke-width="0.25" >23+</text>
<polyline points="168.75,555.00 171.25,551.25 173.00,540.00 174.50,520.00 175.75,497.50 177.00,480.00 178.00,476.25 179.00,485.00 180.25,505.00 181.50,527.50 183.00,545.00 184.50,552.50 186.50,555.00" fill="none" stroke="#919191" stroke-width="0.9" stroke-linejoin="round"/>
<polyline points="165.00,555.00 167.50,550.00 169.25,537.50 170.75,517.50 172.00,497.50 173.00,482.50 174.00,478.75 175.00,487.50 176.25,507.50 177.50,527.50 179.00,542.50 180.50,551.25 182.50,555.00" fill="none" stroke="#747474" stroke-width="0.9" stroke-linejoin="round"/>
<line x1="187.0" y1="485.0" x2="179.5" y2="492.5" stroke="#111" stroke-width="1.0"/>
<line x1="165.0" y1="492.5" x2="172.0" y2="500.5" stroke="#111" stroke-width="1.0"/>
<text x="185.5" y="482.0" font-family='"Liberation Serif", serif' font-size="10" text-anchor="start" font-weight="normal" letter-spacing="0" fill="#111" stroke="#111" stroke-width="0.25" >23-</text>
<text x="146.25" y="491.25" font-family='"Liberation Serif", serif' font-size="10" text-anchor="start" font-weight="normal" letter-spacing="0" fill="#111" stroke="#111" stroke-width="0.25" >23+</text>
<polyline points="73.75,649.25 77.50,645.00 80.50,635.00 83.00,622.50 85.50,610.00 88.00,595.00 90.00,585.00 91.25,582.50 92.50,587.50 93.75,593.75 95.00,592.50 96.50,602.50 98.00,617.50 100.00,632.50 102.00,643.75 105.00,649.25" fill="none" stroke="#919191" stroke-width="0.9" stroke-linejoin="round"/>
<polyline points="77.50,649.25 79.50,645.00 80.50,637.50 83.75,637.50 84.25,615.00 87.00,615.00 87.50,603.75 89.50,603.75 90.00,615.00 92.00,615.00 92.50,626.25 97.50,626.25 98.00,637.50 101.25,637.50 101.75,645.00 103.75,649.25" fill="none" stroke="#747474" stroke-width="0.9" stroke-linejoin="round"/>
<line x1="100.0" y1="577.5" x2="93.0" y2="586.25" stroke="#111" stroke-width="1.0"/>
<line x1="81.25" y1="595.0" x2="88.0" y2="603.75" stroke="#111" stroke-width="1.0"/>
<text x="100.0" y="576.25" font-family='"Liberation Serif", serif' font-size="10" text-anchor="start" font-weight="normal" letter-spacing="0" fill="#111" stroke="#111" stroke-width="0.25" >23-</text>
<text x="63.25" y="593.25" font-family='"Liberation Serif", serif' font-size="10" text-anchor="start" font-weight="normal" letter-spacing="0" fill="#111" stroke="#111" stroke-width="0.25" >23+</text>
<polyline points="168.75,649.25 171.25,643.75 172.50,630.00 173.75,610.00 175.00,587.50 176.00,575.00 177.00,587.50 178.25,612.50 179.50,632.50 181.00,645.00 183.00,649.25" fill="none" stroke="#919191" stroke-width="0.9" stroke-linejoin="round"/>
<polyline points="168.75,649.25 170.75,642.50 172.00,627.50 173.25,610.00 174.50,600.00 176.00,596.25 177.50,602.50 178.75,620.00 180.00,637.50 181.50,646.25 183.75,649.25" fill="none" stroke="#747474" stroke-width="0.9" stroke-linejoin="round"/>
<line x1="185.5" y1="578.75" x2="178.0" y2="587.0" stroke="#111" stroke-width="1.0"/>
<line x1="168.75" y1="590.0" x2="176.25" y2="597.5" stroke="#111" stroke-width="1.0"/>
<text x="186.25" y="576.25" font-family='"Liberation Serif", serif' font-size="10" text-anchor="start" font-weight="normal" letter-spacing="0" fill="#111" stroke="#111" stroke-width="0.25" >23-</text>
<text x="152.5" y="586.25" font-family='"Liberation Serif", serif' font-size="10" text-anchor="start" font-weight="normal" letter-spacing="0" fill="#111" stroke="#111" stroke-width="0.25" >23+</text>
</g>
<g id="panelD">
<text x="258.1" y="428.7" font-family='"Liberation Sans", sans-serif' font-size="13.4" text-anchor="start" font-weight="bold" letter-spacing="0" fill="#000" stroke="#000" stroke-width="0" >D</text>
<line x1="315.9" y1="443" x2="315.9" y2="552.3" stroke="#333" stroke-width="0.9"/>
<line x1="315.9" y1="552.3" x2="446" y2="552.3" stroke="#333" stroke-width="0.9"/>
<line x1="312.59999999999997" y1="443" x2="315.9" y2="443" stroke="#333" stroke-width="0.9"/>
<text x="311.09999999999997" y="446.7" font-family='"Liberation Serif", serif' font-size="11" text-anchor="end" font-weight="normal" letter-spacing="0" fill="#111" stroke="#111" stroke-width="0.25" >40</text>
<line x1="312.59999999999997" y1="470.4" x2="315.9" y2="470.4" stroke="#333" stroke-width="0.9"/>
<text x="311.09999999999997" y="474.09999999999997" font-family='"Liberation Serif", serif' font-size="11" text-anchor="end" font-weight="normal" letter-spacing="0" fill="#111" stroke="#111" stroke-width="0.25" >30</text>
<line x1="312.59999999999997" y1="497.7" x2="315.9" y2="497.7" stroke="#333" stroke-width="0.9"/>
<text x="311.09999999999997" y="501.4" font-family='"Liberation Serif", serif' font-size="11" text-anchor="end" font-weight="normal" letter-spacing="0" fill="#111" stroke="#111" stroke-width="0.25" >20</text>
<line x1="312.59999999999997" y1="525" x2="315.9" y2="525" stroke="#333" stroke-width="0.9"/>
<text x="311.09999999999997" y="528.7" font-family='"Liberation Serif", serif' font-size="11" text-anchor="end" font-weight="normal" letter-spacing="0" fill="#111" stroke="#111" stroke-width="0.25" >10</text>
<line x1="312.59999999999997" y1="552.3" x2="315.9" y2="552.3" stroke="#333" stroke-width="0.9"/>
<text x="311.09999999999997" y="556.0" font-family='"Liberation Serif", serif' font-size="11" text-anchor="end" font-weight="normal" letter-spacing="0" fill="#111" stroke="#111" stroke-width="0.25" >0</text>
<line x1="329.6" y1="543.2" x2="329.6" y2="543.9" stroke="#222" stroke-width="0.9"/>
<line x1="326.8" y1="543.2" x2="332.40000000000003" y2="543.2" stroke="#222" stroke-width="0.9"/>
<rect x="322.6" y="543.9" width="14.0" height="8.399999999999977" fill="#fff" stroke="#222" stroke-width="0.9"/>
<line x1="348.7" y1="538" x2="348.7" y2="538.8" stroke="#222" stroke-width="0.9"/>
<line x1="345.9" y1="538" x2="351.5" y2="538" stroke="#222" stroke-width="0.9"/>
<rect x="342" y="538.8" width="13.399999999999977" height="13.5" fill="#000" stroke="#222" stroke-width="0.9"/>
<line x1="371.2" y1="500" x2="371.2" y2="502.8" stroke="#222" stroke-width="0.9"/>
<line x1="368.4" y1="500" x2="374.0" y2="500" stroke="#222" stroke-width="0.9"/>
<rect x="364.2" y="502.8" width="14.0" height="49.49999999999994" fill="#fff" stroke="#222" stroke-width="0.9"/>
<line x1="390.8" y1="454.4" x2="390.8" y2="460.8" stroke="#222" stroke-width="0.9"/>
<line x1="388.0" y1="454.4" x2="393.6" y2="454.4" stroke="#222" stroke-width="0.9"/>
<rect x="384" y="460.8" width="13.600000000000023" height="91.49999999999994" fill="#000" stroke="#222" stroke-width="0.9"/>
<line x1="415.1" y1="513.3" x2="415.1" y2="517.6" stroke="#222" stroke-width="0.9"/>
<line x1="412.3" y1="513.3" x2="417.90000000000003" y2="513.3" stroke="#222" stroke-width="0.9"/>
<rect x="408.4" y="517.6" width="13.400000000000034" height="34.69999999999993" fill="#fff" stroke="#222" stroke-width="0.9"/>
<line x1="433.95" y1="519.5" x2="433.95" y2="521.4" stroke="#222" stroke-width="0.9"/>
<line x1="431.15" y1="519.5" x2="436.75" y2="519.5" stroke="#222" stroke-width="0.9"/>
<rect x="427.2" y="521.4" width="13.5" height="30.899999999999977" fill="#000" stroke="#222" stroke-width="0.9"/>
<line x1="339.5" y1="552.3" x2="339.5" y2="554.8" stroke="#222" stroke-width="0.8"/>
<line x1="381" y1="552.3" x2="381" y2="554.8" stroke="#222" stroke-width="0.8"/>
<line x1="424.5" y1="552.3" x2="424.5" y2="554.8" stroke="#222" stroke-width="0.8"/>
<text x="338.9" y="570" font-family='"Liberation Serif", serif' font-size="11.2" text-anchor="middle" font-weight="normal" letter-spacing="0.8" fill="#111" stroke="#111" stroke-width="0.25" >B1a</text>
<text x="382.2" y="570" font-family='"Liberation Serif", serif' font-size="11.2" text-anchor="middle" font-weight="normal" letter-spacing="0.8" fill="#111" stroke="#111" stroke-width="0.25" >B1b</text>
<text x="425.8" y="570" font-family='"Liberation Serif", serif' font-size="11.2" text-anchor="middle" font-weight="normal" letter-spacing="0.8" fill="#111" stroke="#111" stroke-width="0.25" >B1c</text>
<line x1="370.2" y1="448.2" x2="391" y2="448.2" stroke="#222" stroke-width="0.9"/>
<line x1="370.2" y1="445.8" x2="370.2" y2="450.6" stroke="#222" stroke-width="0.9"/>
<line x1="391" y1="445.8" x2="391" y2="450.6" stroke="#222" stroke-width="0.9"/>
<text x="381.5" y="445.2" font-family='"Liberation Serif", serif' font-size="12" text-anchor="middle" font-weight="bold" letter-spacing="0.3" fill="#111" stroke="#111" stroke-width="0.25" >***</text>
<rect x="416.5" y="442" width="7.2" height="7.2" fill="#fff" stroke="#222" stroke-width="0.9"/>
<rect x="416.5" y="457.4" width="7.2" height="7.2" fill="#000" stroke="#000" stroke-width="0.9"/>
<text x="428.5" y="449" font-family='"Liberation Serif", serif' font-size="11" text-anchor="start" font-weight="normal" letter-spacing="0" fill="#111" stroke="#111" stroke-width="0.25" >PerC</text>
<text x="428.5" y="464.6" font-family='"Liberation Serif", serif' font-size="11" text-anchor="start" font-weight="normal" letter-spacing="0" fill="#111" stroke="#111" stroke-width="0.25" >PleC</text>
<text transform="translate(280.2,496) rotate(-90)" font-family='"Liberation Serif", serif' font-size="11.5" text-anchor="middle" fill="#111" stroke="#111" stroke-width="0.25">% of subset</text>
<text transform="translate(292.6,496.5) rotate(-90)" font-family='"Liberation Serif", serif' font-size="11.5" text-anchor="middle" fill="#111" stroke="#111" stroke-width="0.25">expressing CD23</text>
</g>
</g>
</svg>
</body></html>
